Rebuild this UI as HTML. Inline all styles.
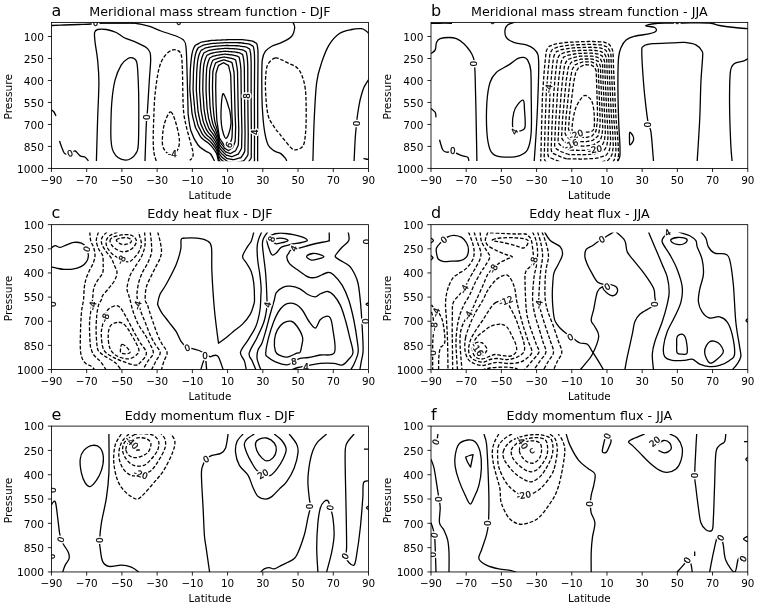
<!DOCTYPE html>
<html><head><meta charset="utf-8"><style>
html,body{margin:0;padding:0;background:#fff;}
body{width:758px;height:606px;overflow:hidden;}
svg{display:block;font-family:"DejaVu Sans","Liberation Sans",sans-serif;}
</style></head><body>
<svg width="758" height="606" viewBox="0 0 758 606">
<rect width="758" height="606" fill="#fff"/>
<g>
<clipPath id="cp0"><rect x="51.45" y="22.4" width="317.05" height="138.8"/></clipPath>
<g clip-path="url(#cp0)" fill="none" stroke="#000" stroke-width="1.3" stroke-linejoin="round" stroke-linecap="butt">
<path d="M51.5,25.5 C53.58,25.42 59.42,25.17 64,25 C68.58,24.83 74.5,24.67 79,24.5 C83.5,24.33 88.17,24.25 91,24 C93.83,23.75 92.83,23.2 96,23 C99.17,22.8 105.17,22.83 110,22.8 C114.83,22.77 121.03,22.77 125,22.8 C128.97,22.83 129.83,22.43 133.8,23 C137.77,23.57 144.27,24.87 148.8,26.2 C153.33,27.53 156.47,29.37 161,31 C165.53,32.63 172.25,34.5 176,36 C179.75,37.5 181.83,38.17 183.5,40 C185.17,41.83 185.42,42 186,47 C186.58,52 186.67,59.83 187,70 C187.33,80.17 187.78,100.5 188,108 C188.22,115.5 187.8,111.17 188.3,115 C188.8,118.83 189.38,126 191,131 C192.62,136 195.5,141.62 198,145 C200.5,148.38 203.93,149.83 206,151.3 C208.07,152.77 208.98,152.18 210.4,153.8 C211.82,155.42 213.82,159.8 214.5,161"/>
<path d="M96.4,161 C96.6,154.13 97.18,132.92 97.6,119.8 C98.02,106.68 98.9,92.28 98.9,82.3 C98.9,72.32 98.23,66.55 97.6,59.9 C96.97,53.25 95.6,46.97 95.1,42.4 C94.6,37.83 94.18,34.65 94.6,32.5 C95.02,30.35 95.63,30 97.6,29.5 C99.57,29 103.28,29 106.4,29.5 C109.52,30 113.4,31.17 116.3,32.5 C119.2,33.83 120.47,35.85 123.8,37.5 C127.13,39.15 132.55,40.75 136.3,42.4 C140.05,44.05 144.02,45.73 146.3,47.4 C148.58,49.07 149.27,50.32 150,52.4 C150.73,54.48 150.83,54.92 150.7,59.9 C150.57,64.88 149.73,73.95 149.2,82.3 C148.67,90.65 147.98,102.93 147.5,110 C147.02,117.07 146.72,116.2 146.3,124.7 C145.88,133.2 145.22,154.95 145,161"/>
<path d="M111.5,145 C111.95,148.3 112.42,149.92 113.5,152 C114.58,154.08 116,156.13 118,157.5 C120,158.87 123.33,160.03 125.5,160.2 C127.67,160.37 129.33,159.53 131,158.5 C132.67,157.47 134.28,156.3 135.5,154 C136.72,151.7 137.75,152.48 138.3,144.7 C138.85,136.92 138.8,117.7 138.8,107.3 C138.8,96.9 138.63,89.78 138.3,82.3 C137.97,74.82 137.77,66.47 136.8,62.4 C135.83,58.33 134.03,58.52 132.5,57.9 C130.97,57.28 129.47,57.53 127.6,58.7 C125.73,59.87 123.38,61.37 121.3,64.9 C119.22,68.43 116.68,73.67 115.1,79.9 C113.52,86.13 112.52,93.58 111.8,102.3 C111.08,111.02 110.85,125.08 110.8,132.2 C110.75,139.32 111.05,141.7 111.5,145Z"/>
<path d="M156.3,161 C155.92,159.67 154.52,156.5 154,153 C153.48,149.5 153.25,145.53 153.2,140 C153.15,134.47 153.4,127.33 153.7,119.8 C154,112.27 154.17,103.12 155,94.8 C155.83,86.48 157.25,76.13 158.7,69.9 C160.15,63.67 161.62,60.65 163.7,57.4 C165.78,54.15 168.92,51.57 171.2,50.4 C173.48,49.23 175.73,49.65 177.4,50.4 C179.07,51.15 180.37,51.65 181.2,54.9 C182.03,58.15 182.1,62.38 182.4,69.9 C182.7,77.42 182.73,92.48 183,100 C183.27,107.52 183.42,110.43 184,115 C184.58,119.57 185.53,123.27 186.5,127.4 C187.47,131.53 188.72,135.68 189.8,139.8 C190.88,143.92 192.53,149.22 193,152.1 C193.47,154.98 193.13,155.72 192.6,157.1 C192.07,158.48 190.27,159.85 189.8,160.4" stroke-dasharray="3.7,1.85"/>
<path d="M170.7,111.8 C172.15,112.02 173.57,115.98 174.9,119.8 C176.23,123.62 177.98,130.55 178.7,134.7 C179.42,138.85 179.65,141.82 179.2,144.7 C178.75,147.58 177.53,150.53 176,152 C174.47,153.47 171.63,153.47 170,153.5 C168.37,153.53 167.45,153.67 166.2,152.2 C164.95,150.73 163,148.45 162.5,144.7 C162,140.95 162.58,134.07 163.2,129.7 C163.82,125.33 164.95,121.48 166.2,118.5 C167.45,115.52 169.25,111.58 170.7,111.8Z" stroke-dasharray="3.7,1.85"/>
<path d="M51.5,109.8 C51.92,110.17 53.25,110.97 54,112 C54.75,113.03 55.67,115.33 56,116"/>
<path d="M59.5,141 C59.92,142.17 61.17,145.93 62,148 C62.83,150.07 63.5,152.4 64.5,153.4 C65.5,154.4 66.75,154.07 68,154 C69.25,153.93 70.8,153.52 72,153 C73.2,152.48 73.83,150.42 75.2,150.9 C76.57,151.38 78.53,154.85 80.2,155.9 C81.87,156.95 83.83,156.35 85.2,157.2 C86.57,158.05 87.87,160.37 88.4,161"/>
<path d="M230,172 C229.19,171.55 227.28,170.19 225.93,169.28 C224.57,168.38 223.01,167.62 221.85,166.57 C220.69,165.52 219.67,164.38 218.99,162.99 C218.31,161.61 218.18,159.83 217.77,158.25 C217.37,156.67 217.18,154.98 216.56,153.51 C215.94,152.03 214.97,150.73 214.04,149.42 C213.11,148.1 212.08,146.78 210.97,145.6 C209.86,144.42 208.64,143.36 207.38,142.35 C206.11,141.34 204.56,140.6 203.36,139.54 C202.16,138.48 201.09,137.31 200.17,136.01 C199.24,134.7 198.61,133.14 197.83,131.7 C197.05,130.27 196.1,128.9 195.5,127.4 C194.9,125.89 194.66,124.24 194.24,122.66 C193.82,121.09 193.35,119.52 192.98,117.93 C192.61,116.35 192.26,114.76 192.02,113.15 C191.78,111.54 191.71,109.9 191.55,108.27 C191.4,106.65 191.24,105.02 191.09,103.4 C190.93,101.77 190.77,100.15 190.62,98.52 C190.46,96.9 190.28,95.27 190.15,93.65 C190.02,92.02 189.86,90.4 189.83,88.77 C189.8,87.14 189.91,85.5 189.95,83.87 C189.99,82.24 190.03,80.61 190.08,78.98 C190.12,77.35 190.15,75.71 190.2,74.08 C190.25,72.45 190.27,70.82 190.37,69.19 C190.46,67.56 190.61,65.93 190.76,64.31 C190.9,62.68 191.06,61.06 191.24,59.44 C191.43,57.82 191.58,56.17 191.87,54.58 C192.17,52.99 192.46,51.39 193.01,49.88 C193.56,48.37 194.52,46.41 195.2,45.5 C195.88,44.59 196.47,44.78 197.11,44.42 C197.74,44.05 198.38,43.69 199.01,43.33 C199.65,42.97 200.24,42.49 200.92,42.25 C201.59,42 202.35,41.98 203.07,41.85 C203.79,41.72 204.51,41.6 205.23,41.48 C205.95,41.36 206.67,41.24 207.39,41.11 C208.11,40.99 208.83,40.85 209.55,40.75 C210.27,40.64 211,40.53 211.72,40.47 C212.45,40.4 213.18,40.4 213.91,40.36 C214.64,40.33 215.37,40.29 216.1,40.26 C216.83,40.22 217.56,40.19 218.29,40.15 C219.02,40.12 219.75,40.08 220.48,40.05 C221.21,40.01 221.94,39.98 222.67,39.94 C223.4,39.91 224.13,39.87 224.86,39.84 C225.59,39.8 226.32,39.75 227.05,39.73 C227.78,39.71 228.51,39.71 229.25,39.7 C229.98,39.69 230.71,39.7 231.44,39.7 C232.17,39.7 232.9,39.7 233.63,39.7 C234.36,39.7 235.09,39.7 235.82,39.7 C236.55,39.7 237.28,39.7 238.02,39.7 C238.75,39.7 239.48,39.7 240.21,39.7 C240.94,39.7 241.67,39.66 242.4,39.7 C243.13,39.74 243.85,39.86 244.58,39.94 C245.3,40.03 246.03,40.13 246.75,40.23 C247.48,40.32 248.2,40.42 248.93,40.51 C249.65,40.6 250.39,40.66 251.1,40.79 C251.81,40.93 252.53,41.03 253.18,41.33 C253.83,41.62 254.39,42.15 254.99,42.56 C255.59,42.98 256.35,42.86 256.8,43.8 C257.25,44.74 257.49,46.71 257.69,48.18 C257.89,49.65 257.95,51.13 258,52.61 C258.05,54.1 258,55.59 258,57.08 C258,58.57 258,60.06 258,61.55 C257.99,63.03 257.97,64.52 257.96,66.01 C257.94,67.5 257.93,68.99 257.92,70.48 C257.9,71.97 257.89,73.46 257.88,74.94 C257.86,76.43 257.85,77.92 257.84,79.41 C257.82,80.9 257.81,82.39 257.8,83.88 C257.78,85.37 257.77,86.85 257.76,88.34 C257.74,89.83 257.73,91.32 257.72,92.81 C257.71,94.3 257.7,95.79 257.7,97.28 C257.7,98.77 257.7,100.25 257.7,101.74 C257.7,103.23 257.7,104.72 257.7,106.21 C257.7,107.7 257.7,109.19 257.7,110.68 C257.7,112.16 257.7,113.65 257.7,115.14 C257.7,116.63 257.7,118.12 257.7,119.61 C257.7,121.1 257.7,122.59 257.7,124.08 C257.7,125.56 257.7,127.05 257.7,128.54 C257.7,130.03 257.69,131.52 257.69,133.01 C257.68,134.5 257.68,135.99 257.67,137.48 C257.67,138.96 257.67,140.45 257.66,141.94 C257.66,143.43 257.65,144.92 257.65,146.41 C257.65,147.9 257.64,149.39 257.64,150.87 C257.63,152.36 257.63,153.85 257.63,155.34 C257.62,156.83 257.62,158.32 257.61,159.81 C257.61,161.3 258.03,162.95 257.6,164.27 C257.17,165.6 255.98,166.61 255.05,167.73 C254.11,168.86 252.63,170.45 252,171 C251.37,171.55 251.5,171.04 251.24,171.06 C250.99,171.08 250.74,171.11 250.49,171.13 C250.23,171.15 249.98,171.17 249.73,171.19 C249.48,171.21 249.22,171.23 248.97,171.25 C248.72,171.27 248.47,171.29 248.21,171.32 C247.96,171.34 247.71,171.36 247.46,171.38 C247.2,171.4 246.95,171.42 246.7,171.44 C246.45,171.46 246.19,171.48 245.94,171.5 C245.69,171.53 245.44,171.55 245.18,171.57 C244.93,171.59 244.68,171.61 244.43,171.63 C244.17,171.65 243.92,171.67 243.67,171.69 C243.42,171.72 243.16,171.74 242.91,171.76 C242.66,171.78 242.41,171.8 242.15,171.82 C241.9,171.84 241.65,171.86 241.4,171.88 C241.14,171.9 240.89,171.93 240.64,171.95 C240.39,171.97 240.13,171.99 239.88,172 C239.63,172.01 239.37,172 239.12,172 C238.87,172 238.61,172 238.36,172 C238.11,172 237.85,172 237.6,172 C237.35,172 237.09,172 236.84,172 C236.59,172 236.33,172 236.08,172 C235.83,172 235.57,172 235.32,172 C235.07,172 234.81,172 234.56,172 C234.31,172 234.05,172 233.8,172 C233.55,172 233.29,172 233.04,172 C232.79,172 232.53,172 232.28,172 C232.03,172 231.77,172 231.52,172 C231.27,172 231.01,172 230.76,172 C230.51,172 230.81,172.45 230,172Z"/>
<path d="M229.25,168.62 C228.51,168.18 226.75,166.84 225.5,165.95 C224.24,165.06 222.81,164.3 221.74,163.28 C220.67,162.26 219.68,161.18 219.05,159.86 C218.41,158.54 218.31,156.86 217.93,155.36 C217.56,153.86 217.38,152.26 216.82,150.86 C216.26,149.46 215.4,148.2 214.56,146.93 C213.73,145.67 212.81,144.4 211.83,143.25 C210.84,142.1 209.76,141.05 208.63,140.05 C207.5,139.05 206.13,138.29 205.06,137.25 C204,136.21 203.05,135.07 202.24,133.81 C201.42,132.55 200.86,131.07 200.18,129.69 C199.49,128.32 198.65,127.01 198.12,125.57 C197.59,124.14 197.37,122.58 197,121.08 C196.63,119.59 196.21,118.1 195.88,116.59 C195.55,115.09 195.24,113.58 195.03,112.05 C194.81,110.53 194.75,108.98 194.61,107.44 C194.47,105.9 194.33,104.36 194.19,102.82 C194.05,101.28 193.91,99.74 193.78,98.21 C193.64,96.67 193.48,95.13 193.36,93.59 C193.24,92.05 193.1,90.51 193.07,88.97 C193.04,87.43 193.14,85.88 193.17,84.33 C193.21,82.79 193.25,81.24 193.28,79.7 C193.32,78.15 193.35,76.61 193.4,75.07 C193.44,73.52 193.47,71.98 193.55,70.43 C193.64,68.89 193.77,67.35 193.9,65.81 C194.03,64.27 194.16,62.73 194.34,61.2 C194.51,59.66 194.69,58.12 194.98,56.61 C195.27,55.11 195.56,53.6 196.09,52.17 C196.61,50.73 197.49,48.86 198.11,48 C198.74,47.14 199.25,47.35 199.82,47.03 C200.39,46.7 200.96,46.38 201.53,46.05 C202.1,45.73 202.64,45.31 203.24,45.08 C203.85,44.86 204.53,44.83 205.17,44.71 C205.81,44.59 206.46,44.48 207.1,44.36 C207.75,44.25 208.39,44.13 209.04,44.02 C209.68,43.9 210.33,43.77 210.97,43.67 C211.62,43.57 212.26,43.47 212.92,43.4 C213.57,43.34 214.22,43.32 214.87,43.29 C215.53,43.25 216.18,43.21 216.83,43.17 C217.49,43.13 218.14,43.09 218.79,43.05 C219.45,43.02 220.1,42.98 220.75,42.94 C221.41,42.9 222.06,42.86 222.71,42.82 C223.37,42.78 224.02,42.74 224.67,42.71 C225.32,42.67 225.98,42.63 226.63,42.61 C227.28,42.6 227.94,42.61 228.59,42.61 C229.25,42.61 229.9,42.63 230.55,42.64 C231.21,42.64 231.86,42.65 232.52,42.66 C233.17,42.67 233.82,42.68 234.48,42.68 C235.13,42.69 235.78,42.7 236.44,42.71 C237.09,42.72 237.75,42.72 238.4,42.73 C239.05,42.74 239.71,42.71 240.36,42.76 C241.01,42.8 241.66,42.91 242.31,42.99 C242.96,43.08 243.61,43.17 244.26,43.27 C244.9,43.36 245.55,43.45 246.2,43.54 C246.85,43.63 247.51,43.68 248.15,43.81 C248.78,43.94 249.43,44.03 250.01,44.3 C250.59,44.57 251.09,45.04 251.64,45.41 C252.18,45.78 252.85,45.63 253.26,46.51 C253.68,47.39 253.92,49.28 254.12,50.67 C254.32,52.07 254.4,53.48 254.47,54.89 C254.54,56.3 254.53,57.71 254.55,59.13 C254.57,60.54 254.59,61.96 254.59,63.37 C254.59,64.79 254.57,66.2 254.57,67.62 C254.56,69.04 254.55,70.45 254.54,71.87 C254.53,73.29 254.52,74.7 254.52,76.12 C254.51,77.53 254.5,78.95 254.49,80.37 C254.48,81.78 254.47,83.2 254.47,84.62 C254.46,86.03 254.45,87.45 254.44,88.87 C254.43,90.28 254.42,91.7 254.42,93.11 C254.41,94.53 254.41,95.95 254.41,97.36 C254.41,98.78 254.42,100.2 254.42,101.61 C254.43,103.03 254.43,104.45 254.43,105.86 C254.44,107.28 254.44,108.69 254.44,110.11 C254.45,111.53 254.45,112.94 254.45,114.36 C254.46,115.78 254.46,117.19 254.46,118.61 C254.47,120.03 254.48,121.44 254.48,122.86 C254.49,124.27 254.49,125.69 254.5,127.11 C254.5,128.52 254.5,129.94 254.5,131.36 C254.51,132.77 254.51,134.19 254.51,135.6 C254.51,137.02 254.52,138.44 254.52,139.85 C254.51,141.27 254.5,142.69 254.49,144.1 C254.48,145.52 254.48,146.93 254.47,148.35 C254.46,149.77 254.45,151.18 254.44,152.6 C254.44,154.02 254.43,155.43 254.42,156.85 C254.41,158.26 254.77,159.83 254.37,161.09 C253.97,162.36 252.88,163.36 252.02,164.44 C251.17,165.53 249.83,167.08 249.25,167.62 C248.67,168.17 248.79,167.68 248.56,167.71 C248.33,167.74 248.11,167.76 247.88,167.79 C247.65,167.82 247.42,167.85 247.19,167.87 C246.96,167.9 246.73,167.93 246.5,167.96 C246.27,167.99 246.05,168.01 245.82,168.04 C245.59,168.07 245.36,168.1 245.13,168.12 C244.9,168.15 244.67,168.18 244.44,168.21 C244.21,168.23 243.99,168.26 243.76,168.29 C243.53,168.32 243.3,168.35 243.07,168.37 C242.84,168.4 242.61,168.43 242.38,168.46 C242.15,168.48 241.93,168.51 241.7,168.54 C241.47,168.57 241.24,168.59 241.01,168.62 C240.78,168.65 240.55,168.68 240.32,168.71 C240.09,168.73 239.87,168.76 239.64,168.79 C239.41,168.82 239.18,168.85 238.95,168.87 C238.72,168.9 238.49,168.92 238.26,168.93 C238.03,168.94 237.8,168.91 237.57,168.91 C237.34,168.9 237.11,168.89 236.88,168.88 C236.64,168.88 236.41,168.87 236.18,168.86 C235.95,168.85 235.72,168.84 235.49,168.84 C235.26,168.83 235.03,168.82 234.8,168.81 C234.56,168.81 234.33,168.8 234.1,168.79 C233.87,168.78 233.64,168.77 233.41,168.77 C233.18,168.76 232.95,168.75 232.72,168.74 C232.49,168.73 232.25,168.73 232.02,168.72 C231.79,168.71 231.56,168.7 231.33,168.7 C231.1,168.69 230.87,168.68 230.64,168.67 C230.41,168.66 230.17,168.66 229.94,168.65 C229.71,168.64 229.99,169.07 229.25,168.62Z"/>
<path d="M228.5,165.25 C227.82,164.8 226.21,163.5 225.06,162.62 C223.92,161.75 222.62,160.98 221.63,159.99 C220.64,159.01 219.7,157.97 219.11,156.72 C218.52,155.46 218.43,153.88 218.1,152.47 C217.76,151.05 217.58,149.55 217.08,148.21 C216.58,146.88 215.82,145.67 215.09,144.45 C214.35,143.23 213.55,142.01 212.68,140.9 C211.81,139.78 210.87,138.75 209.88,137.76 C208.9,136.77 207.7,135.99 206.77,134.96 C205.84,133.94 205.01,132.83 204.31,131.61 C203.6,130.4 203.12,128.99 202.52,127.68 C201.93,126.37 201.2,125.12 200.74,123.75 C200.28,122.39 200.09,120.92 199.76,119.5 C199.44,118.09 199.07,116.68 198.78,115.25 C198.5,113.83 198.22,112.4 198.03,110.96 C197.85,109.52 197.78,108.06 197.66,106.6 C197.54,105.15 197.42,103.7 197.3,102.25 C197.17,100.79 197.05,99.34 196.93,97.89 C196.81,96.44 196.67,94.98 196.57,93.53 C196.47,92.08 196.35,90.62 196.32,89.17 C196.29,87.71 196.37,86.25 196.4,84.8 C196.42,83.34 196.46,81.88 196.49,80.42 C196.52,78.96 196.56,77.51 196.6,76.05 C196.64,74.59 196.66,73.13 196.74,71.68 C196.81,70.22 196.93,68.77 197.05,67.31 C197.16,65.86 197.26,64.4 197.43,62.96 C197.6,61.51 197.8,60.06 198.09,58.64 C198.37,57.23 198.67,55.81 199.16,54.45 C199.65,53.09 200.46,51.3 201.02,50.5 C201.59,49.7 202.04,49.93 202.54,49.64 C203.05,49.35 203.55,49.06 204.06,48.78 C204.56,48.49 205.04,48.12 205.57,47.92 C206.11,47.71 206.7,47.68 207.27,47.57 C207.84,47.46 208.41,47.35 208.98,47.24 C209.55,47.14 210.12,47.03 210.69,46.92 C211.25,46.81 211.82,46.69 212.39,46.6 C212.96,46.5 213.53,46.4 214.11,46.34 C214.68,46.27 215.26,46.25 215.84,46.21 C216.41,46.17 216.99,46.13 217.56,46.08 C218.14,46.04 218.72,46 219.29,45.96 C219.87,45.91 220.45,45.87 221.02,45.83 C221.6,45.79 222.17,45.75 222.75,45.7 C223.33,45.66 223.9,45.61 224.48,45.58 C225.06,45.54 225.63,45.51 226.21,45.5 C226.78,45.49 227.36,45.51 227.94,45.52 C228.52,45.53 229.09,45.55 229.67,45.57 C230.25,45.59 230.82,45.6 231.4,45.62 C231.98,45.64 232.55,45.65 233.13,45.67 C233.71,45.68 234.28,45.7 234.86,45.72 C235.44,45.73 236.01,45.75 236.59,45.76 C237.17,45.78 237.75,45.77 238.32,45.81 C238.9,45.86 239.47,45.96 240.04,46.04 C240.61,46.13 241.19,46.22 241.76,46.3 C242.33,46.39 242.9,46.48 243.47,46.56 C244.05,46.65 244.63,46.71 245.19,46.82 C245.75,46.94 246.32,47.04 246.84,47.27 C247.35,47.51 247.8,47.92 248.28,48.25 C248.76,48.57 249.35,48.4 249.73,49.22 C250.1,50.05 250.35,51.85 250.55,53.17 C250.75,54.49 250.85,55.83 250.94,57.16 C251.03,58.49 251.06,59.83 251.1,61.17 C251.14,62.51 251.17,63.86 251.18,65.2 C251.2,66.54 251.18,67.89 251.17,69.23 C251.17,70.57 251.17,71.92 251.16,73.26 C251.16,74.6 251.16,75.95 251.16,77.29 C251.15,78.64 251.15,79.98 251.15,81.32 C251.14,82.67 251.14,84.01 251.14,85.36 C251.13,86.7 251.13,88.04 251.13,89.39 C251.12,90.73 251.12,92.07 251.12,93.42 C251.12,94.76 251.12,96.11 251.12,97.45 C251.13,98.79 251.14,100.14 251.15,101.48 C251.15,102.83 251.16,104.17 251.17,105.51 C251.17,106.86 251.18,108.2 251.19,109.55 C251.19,110.89 251.2,112.23 251.21,113.58 C251.21,114.92 251.22,116.27 251.23,117.61 C251.24,118.95 251.25,120.3 251.26,121.64 C251.28,122.98 251.29,124.33 251.3,125.67 C251.31,127.02 251.31,128.36 251.32,129.7 C251.33,131.05 251.34,132.39 251.35,133.73 C251.36,135.08 251.37,136.42 251.37,137.76 C251.37,139.11 251.35,140.45 251.33,141.8 C251.32,143.14 251.31,144.48 251.3,145.83 C251.29,147.17 251.28,148.52 251.26,149.86 C251.25,151.2 251.25,152.55 251.23,153.89 C251.21,155.23 251.5,156.7 251.13,157.91 C250.76,159.12 249.77,160.1 249,161.15 C248.23,162.21 247.02,163.72 246.5,164.25 C245.98,164.78 246.09,164.32 245.88,164.35 C245.68,164.39 245.47,164.42 245.27,164.46 C245.06,164.49 244.86,164.52 244.65,164.56 C244.45,164.59 244.24,164.63 244.04,164.66 C243.83,164.7 243.63,164.73 243.42,164.77 C243.22,164.8 243.01,164.83 242.8,164.87 C242.6,164.9 242.39,164.94 242.19,164.97 C241.98,165.01 241.78,165.04 241.57,165.07 C241.37,165.11 241.16,165.14 240.96,165.18 C240.75,165.21 240.55,165.25 240.34,165.28 C240.14,165.32 239.93,165.35 239.73,165.38 C239.52,165.42 239.32,165.45 239.11,165.49 C238.9,165.52 238.7,165.56 238.49,165.59 C238.29,165.62 238.08,165.66 237.88,165.69 C237.67,165.73 237.47,165.77 237.26,165.8 C237.06,165.82 236.85,165.86 236.64,165.86 C236.44,165.86 236.23,165.83 236.02,165.81 C235.81,165.8 235.6,165.78 235.39,165.77 C235.18,165.75 234.97,165.74 234.76,165.72 C234.56,165.7 234.35,165.69 234.14,165.67 C233.93,165.66 233.72,165.64 233.51,165.63 C233.3,165.61 233.09,165.59 232.89,165.58 C232.68,165.56 232.47,165.55 232.26,165.53 C232.05,165.52 231.84,165.5 231.63,165.48 C231.42,165.47 231.21,165.45 231.01,165.44 C230.8,165.42 230.59,165.41 230.38,165.39 C230.17,165.38 229.96,165.36 229.75,165.34 C229.54,165.33 229.34,165.31 229.13,165.3 C228.92,165.28 229.18,165.7 228.5,165.25Z"/>
<path d="M227.75,161.88 C227.14,161.43 225.67,160.15 224.63,159.29 C223.6,158.43 222.43,157.66 221.52,156.71 C220.61,155.76 219.72,154.77 219.17,153.58 C218.63,152.39 218.56,150.91 218.26,149.58 C217.95,148.24 217.78,146.84 217.34,145.57 C216.9,144.3 216.25,143.14 215.61,141.97 C214.98,140.8 214.28,139.63 213.54,138.55 C212.79,137.46 211.98,136.45 211.14,135.47 C210.29,134.49 209.26,133.68 208.47,132.67 C207.68,131.67 206.98,130.58 206.38,129.42 C205.78,128.25 205.37,126.92 204.87,125.68 C204.37,124.43 203.75,123.22 203.36,121.93 C202.97,120.64 202.8,119.26 202.52,117.92 C202.24,116.59 201.93,115.26 201.69,113.91 C201.44,112.57 201.2,111.23 201.04,109.87 C200.88,108.51 200.82,107.14 200.71,105.77 C200.61,104.4 200.5,103.04 200.4,101.67 C200.3,100.3 200.19,98.94 200.09,97.57 C199.99,96.2 199.87,94.84 199.78,93.47 C199.69,92.1 199.59,90.74 199.56,89.37 C199.53,88 199.59,86.63 199.62,85.26 C199.64,83.89 199.67,82.51 199.7,81.14 C199.73,79.77 199.76,78.4 199.8,77.03 C199.84,75.66 199.86,74.29 199.93,72.92 C199.99,71.55 200.1,70.18 200.2,68.82 C200.29,67.45 200.36,66.08 200.52,64.72 C200.69,63.36 200.91,62 201.19,60.67 C201.48,59.34 201.78,58.02 202.24,56.74 C202.69,55.46 203.43,53.75 203.94,53 C204.44,52.25 204.82,52.5 205.26,52.25 C205.7,52 206.14,51.75 206.58,51.5 C207.02,51.25 207.43,50.93 207.9,50.75 C208.36,50.57 208.88,50.53 209.37,50.43 C209.86,50.32 210.36,50.23 210.85,50.13 C211.35,50.03 211.84,49.92 212.33,49.82 C212.83,49.72 213.32,49.61 213.81,49.52 C214.31,49.43 214.8,49.34 215.3,49.27 C215.8,49.21 216.3,49.18 216.8,49.14 C217.3,49.09 217.8,49.04 218.3,49 C218.79,48.95 219.29,48.91 219.79,48.86 C220.29,48.81 220.79,48.77 221.29,48.72 C221.79,48.68 222.29,48.63 222.79,48.58 C223.29,48.54 223.79,48.48 224.29,48.45 C224.79,48.41 225.29,48.38 225.79,48.38 C226.29,48.38 226.79,48.41 227.28,48.43 C227.78,48.45 228.28,48.48 228.78,48.51 C229.28,48.53 229.78,48.55 230.28,48.58 C230.78,48.6 231.28,48.63 231.78,48.65 C232.28,48.67 232.78,48.7 233.28,48.72 C233.78,48.75 234.28,48.77 234.78,48.8 C235.28,48.82 235.78,48.82 236.28,48.87 C236.78,48.92 237.28,49.01 237.77,49.09 C238.27,49.17 238.76,49.26 239.26,49.34 C239.76,49.43 240.25,49.51 240.75,49.59 C241.25,49.67 241.75,49.73 242.24,49.84 C242.72,49.95 243.22,50.04 243.67,50.25 C244.11,50.46 244.51,50.81 244.93,51.09 C245.35,51.37 245.84,51.17 246.19,51.94 C246.53,52.7 246.78,54.42 246.98,55.67 C247.19,56.92 247.3,58.18 247.41,59.44 C247.53,60.69 247.59,61.96 247.65,63.22 C247.71,64.49 247.76,65.75 247.78,67.02 C247.8,68.29 247.78,69.57 247.78,70.84 C247.78,72.11 247.79,73.38 247.79,74.65 C247.79,75.92 247.79,77.19 247.79,78.47 C247.8,79.74 247.8,81.01 247.8,82.28 C247.8,83.55 247.8,84.82 247.81,86.09 C247.81,87.37 247.81,88.64 247.81,89.91 C247.81,91.18 247.81,92.45 247.82,93.72 C247.82,94.99 247.83,96.27 247.84,97.54 C247.85,98.81 247.86,100.08 247.87,101.35 C247.88,102.62 247.89,103.89 247.9,105.17 C247.91,106.44 247.92,107.71 247.93,108.98 C247.94,110.25 247.95,111.52 247.96,112.79 C247.97,114.07 247.98,115.34 247.99,116.61 C248.01,117.88 248.03,119.15 248.05,120.42 C248.06,121.69 248.08,122.96 248.1,124.24 C248.11,125.51 248.13,126.78 248.14,128.05 C248.16,129.32 248.17,130.59 248.19,131.86 C248.2,133.13 248.22,134.41 248.22,135.68 C248.22,136.95 248.19,138.22 248.18,139.49 C248.16,140.76 248.14,142.03 248.13,143.3 C248.11,144.58 248.1,145.85 248.08,147.12 C248.07,148.39 248.07,149.66 248.04,150.93 C248,152.2 248.24,153.57 247.9,154.73 C247.56,155.89 246.67,156.84 245.98,157.86 C245.29,158.89 244.21,160.35 243.75,160.88 C243.29,161.4 243.39,160.96 243.2,161 C243.02,161.04 242.84,161.08 242.66,161.12 C242.48,161.16 242.3,161.2 242.11,161.24 C241.93,161.29 241.75,161.33 241.57,161.37 C241.39,161.41 241.21,161.45 241.02,161.49 C240.84,161.53 240.66,161.57 240.48,161.61 C240.3,161.65 240.12,161.7 239.93,161.74 C239.75,161.78 239.57,161.82 239.39,161.86 C239.21,161.9 239.03,161.94 238.84,161.98 C238.66,162.02 238.48,162.06 238.3,162.11 C238.12,162.15 237.94,162.19 237.75,162.23 C237.57,162.27 237.39,162.31 237.21,162.35 C237.03,162.39 236.85,162.43 236.66,162.47 C236.48,162.52 236.3,162.56 236.12,162.6 C235.94,162.64 235.76,162.69 235.57,162.72 C235.39,162.75 235.21,162.79 235.03,162.79 C234.84,162.79 234.65,162.74 234.47,162.72 C234.28,162.7 234.09,162.67 233.91,162.65 C233.72,162.63 233.53,162.6 233.35,162.58 C233.16,162.56 232.97,162.53 232.79,162.51 C232.6,162.49 232.41,162.46 232.23,162.44 C232.04,162.42 231.85,162.39 231.67,162.37 C231.48,162.34 231.29,162.32 231.11,162.3 C230.92,162.27 230.73,162.25 230.55,162.23 C230.36,162.2 230.18,162.18 229.99,162.16 C229.8,162.13 229.62,162.11 229.43,162.09 C229.24,162.06 229.06,162.04 228.87,162.02 C228.68,161.99 228.5,161.97 228.31,161.95 C228.12,161.92 228.36,162.32 227.75,161.88Z"/>
<path d="M227,158.5 C226.45,158.06 225.14,156.81 224.2,155.96 C223.27,155.11 222.23,154.34 221.41,153.42 C220.58,152.5 219.73,151.57 219.24,150.45 C218.74,149.32 218.69,147.94 218.42,146.68 C218.15,145.43 217.99,144.12 217.61,142.92 C217.22,141.72 216.67,140.61 216.14,139.49 C215.6,138.37 215.02,137.25 214.39,136.19 C213.77,135.14 213.09,134.14 212.39,133.18 C211.69,132.21 210.83,131.38 210.17,130.39 C209.52,129.39 208.94,128.34 208.45,127.22 C207.95,126.1 207.62,124.85 207.21,123.67 C206.8,122.48 206.3,121.33 205.98,120.11 C205.66,118.89 205.52,117.6 205.28,116.34 C205.05,115.09 204.8,113.83 204.59,112.57 C204.38,111.31 204.18,110.05 204.04,108.78 C203.91,107.5 203.85,106.22 203.76,104.94 C203.67,103.66 203.59,102.38 203.51,101.1 C203.42,99.81 203.33,98.53 203.25,97.25 C203.16,95.97 203.06,94.69 202.99,93.41 C202.91,92.13 202.83,90.85 202.8,89.57 C202.78,88.29 202.82,87 202.84,85.72 C202.86,84.43 202.88,83.15 202.91,81.87 C202.93,80.58 202.96,79.3 203,78.01 C203.03,76.73 203.06,75.45 203.11,74.16 C203.17,72.88 203.26,71.6 203.34,70.32 C203.43,69.04 203.46,67.75 203.62,66.48 C203.77,65.21 204.02,63.95 204.3,62.71 C204.58,61.46 204.89,60.22 205.31,59.02 C205.74,57.82 206.41,56.19 206.85,55.5 C207.29,54.81 207.6,55.07 207.98,54.86 C208.35,54.65 208.73,54.44 209.1,54.22 C209.48,54.01 209.83,53.74 210.23,53.58 C210.62,53.43 211.06,53.38 211.47,53.29 C211.89,53.19 212.31,53.1 212.73,53.01 C213.14,52.91 213.56,52.82 213.98,52.73 C214.4,52.63 214.81,52.53 215.23,52.45 C215.65,52.36 216.07,52.27 216.49,52.21 C216.91,52.15 217.34,52.11 217.76,52.06 C218.18,52.01 218.6,51.96 219.03,51.91 C219.45,51.86 219.87,51.81 220.29,51.76 C220.72,51.71 221.14,51.66 221.56,51.61 C221.98,51.56 222.41,51.51 222.83,51.47 C223.25,51.42 223.67,51.35 224.1,51.32 C224.52,51.28 224.94,51.26 225.36,51.26 C225.79,51.27 226.21,51.32 226.63,51.34 C227.05,51.37 227.48,51.41 227.9,51.44 C228.32,51.47 228.75,51.51 229.17,51.54 C229.59,51.57 230.01,51.6 230.44,51.63 C230.86,51.67 231.28,51.7 231.71,51.73 C232.13,51.76 232.55,51.8 232.97,51.83 C233.4,51.86 233.82,51.87 234.24,51.92 C234.67,51.98 235.08,52.07 235.5,52.14 C235.92,52.22 236.34,52.3 236.76,52.38 C237.18,52.46 237.6,52.54 238.02,52.62 C238.44,52.7 238.87,52.76 239.28,52.86 C239.69,52.96 240.11,53.04 240.49,53.22 C240.88,53.4 241.21,53.7 241.57,53.94 C241.93,54.17 242.34,53.94 242.65,54.65 C242.96,55.36 243.21,56.99 243.41,58.17 C243.62,59.34 243.75,60.53 243.88,61.71 C244.02,62.89 244.12,64.08 244.2,65.27 C244.28,66.46 244.34,67.65 244.37,68.85 C244.4,70.05 244.38,71.25 244.39,72.45 C244.4,73.65 244.41,74.84 244.41,76.04 C244.42,77.24 244.43,78.44 244.43,79.64 C244.44,80.84 244.45,82.04 244.45,83.24 C244.46,84.44 244.47,85.64 244.47,86.83 C244.48,88.03 244.49,89.23 244.5,90.43 C244.5,91.63 244.51,92.83 244.52,94.03 C244.53,95.23 244.54,96.43 244.55,97.62 C244.56,98.82 244.58,100.02 244.59,101.22 C244.6,102.42 244.62,103.62 244.63,104.82 C244.65,106.02 244.66,107.22 244.67,108.42 C244.69,109.61 244.7,110.81 244.71,112.01 C244.73,113.21 244.74,114.41 244.76,115.61 C244.78,116.81 244.8,118.01 244.83,119.2 C244.85,120.4 244.87,121.6 244.9,122.8 C244.92,124 244.94,125.2 244.96,126.4 C244.98,127.59 245,128.79 245.02,129.99 C245.04,131.19 245.08,132.39 245.08,133.59 C245.08,134.79 245.04,135.99 245.02,137.18 C245,138.38 244.98,139.58 244.96,140.78 C244.94,141.98 244.92,143.18 244.9,144.38 C244.88,145.58 244.88,146.78 244.84,147.97 C244.8,149.17 244.98,150.45 244.66,151.55 C244.35,152.65 243.57,153.58 242.96,154.57 C242.34,155.56 241.4,156.99 241,157.5 C240.6,158.01 240.68,157.6 240.53,157.64 C240.37,157.69 240.21,157.74 240.05,157.79 C239.89,157.83 239.74,157.88 239.58,157.93 C239.42,157.98 239.26,158.02 239.1,158.07 C238.94,158.12 238.79,158.17 238.63,158.22 C238.47,158.26 238.31,158.31 238.15,158.36 C238,158.41 237.84,158.45 237.68,158.5 C237.52,158.55 237.36,158.6 237.21,158.64 C237.05,158.69 236.89,158.74 236.73,158.79 C236.57,158.83 236.42,158.88 236.26,158.93 C236.1,158.98 235.94,159.03 235.78,159.07 C235.63,159.12 235.47,159.17 235.31,159.22 C235.15,159.26 234.99,159.31 234.83,159.36 C234.68,159.41 234.52,159.45 234.36,159.5 C234.2,159.55 234.05,159.61 233.89,159.65 C233.73,159.68 233.57,159.72 233.41,159.72 C233.24,159.72 233.08,159.66 232.91,159.63 C232.75,159.6 232.59,159.57 232.42,159.53 C232.26,159.5 232.09,159.47 231.93,159.44 C231.76,159.41 231.6,159.38 231.44,159.35 C231.27,159.31 231.11,159.28 230.94,159.25 C230.78,159.22 230.61,159.19 230.45,159.16 C230.29,159.13 230.12,159.1 229.96,159.06 C229.79,159.03 229.63,159 229.46,158.97 C229.3,158.94 229.14,158.91 228.97,158.88 C228.81,158.84 228.64,158.81 228.48,158.78 C228.31,158.75 228.15,158.72 227.99,158.69 C227.82,158.66 227.66,158.63 227.49,158.59 C227.33,158.56 227.55,158.94 227,158.5Z"/>
<path d="M226.25,155.12 C225.77,154.69 224.6,153.46 223.77,152.63 C222.95,151.8 222.04,151.02 221.3,150.13 C220.55,149.25 219.75,148.36 219.3,147.31 C218.85,146.25 218.82,144.96 218.58,143.79 C218.34,142.62 218.19,141.41 217.87,140.28 C217.55,139.15 217.1,138.08 216.66,137.01 C216.23,135.94 215.75,134.86 215.25,133.84 C214.75,132.82 214.2,131.84 213.64,130.88 C213.08,129.93 212.4,129.07 211.88,128.1 C211.36,127.12 210.9,126.1 210.52,125.03 C210.13,123.95 209.88,122.78 209.56,121.66 C209.24,120.54 208.85,119.44 208.6,118.29 C208.35,117.14 208.23,115.94 208.05,114.76 C207.86,113.59 207.66,112.41 207.49,111.23 C207.33,110.05 207.16,108.87 207.05,107.69 C206.94,106.5 206.89,105.3 206.82,104.1 C206.74,102.91 206.68,101.71 206.61,100.52 C206.54,99.33 206.47,98.13 206.4,96.94 C206.33,95.74 206.26,94.55 206.2,93.35 C206.14,92.16 206.07,90.96 206.04,89.77 C206.02,88.57 206.05,87.37 206.06,86.18 C206.07,84.98 206.09,83.78 206.11,82.59 C206.14,81.39 206.17,80.19 206.2,79 C206.23,77.8 206.25,76.6 206.3,75.41 C206.35,74.21 206.42,73.02 206.49,71.82 C206.56,70.63 206.56,69.42 206.71,68.24 C206.86,67.06 207.13,65.89 207.4,64.74 C207.68,63.58 207.99,62.43 208.39,61.31 C208.78,60.19 209.38,58.64 209.76,58 C210.15,57.36 210.38,57.65 210.69,57.47 C211,57.3 211.31,57.12 211.62,56.95 C211.93,56.77 212.23,56.55 212.55,56.42 C212.88,56.29 213.23,56.24 213.57,56.15 C213.92,56.06 214.26,55.98 214.6,55.89 C214.94,55.8 215.29,55.72 215.63,55.63 C215.97,55.54 216.31,55.45 216.65,55.37 C217,55.29 217.34,55.21 217.68,55.15 C218.03,55.08 218.37,55.04 218.72,54.99 C219.07,54.93 219.41,54.88 219.76,54.83 C220.1,54.77 220.45,54.72 220.79,54.67 C221.14,54.61 221.48,54.56 221.83,54.51 C222.18,54.45 222.52,54.4 222.87,54.35 C223.21,54.29 223.56,54.22 223.9,54.19 C224.25,54.15 224.59,54.14 224.94,54.15 C225.29,54.16 225.63,54.22 225.98,54.26 C226.32,54.29 226.67,54.34 227.02,54.38 C227.36,54.42 227.71,54.46 228.05,54.5 C228.4,54.54 228.75,54.58 229.09,54.62 C229.44,54.66 229.78,54.7 230.13,54.74 C230.47,54.78 230.82,54.82 231.17,54.86 C231.51,54.9 231.86,54.92 232.2,54.98 C232.55,55.04 232.89,55.12 233.24,55.19 C233.58,55.27 233.92,55.34 234.27,55.42 C234.61,55.49 234.95,55.57 235.3,55.65 C235.64,55.72 235.99,55.78 236.33,55.87 C236.67,55.96 237.01,56.04 237.32,56.19 C237.64,56.34 237.92,56.58 238.22,56.78 C238.52,56.97 238.84,56.72 239.11,57.36 C239.38,58.01 239.64,59.56 239.84,60.66 C240.05,61.77 240.2,62.88 240.36,63.98 C240.51,65.09 240.65,66.2 240.75,67.32 C240.85,68.43 240.92,69.55 240.96,70.68 C241.01,71.8 240.99,72.93 241,74.06 C241.01,75.18 241.02,76.31 241.04,77.43 C241.05,78.56 241.06,79.69 241.07,80.81 C241.08,81.94 241.1,83.07 241.11,84.19 C241.12,85.32 241.13,86.45 241.14,87.57 C241.16,88.7 241.17,89.83 241.18,90.95 C241.19,92.08 241.2,93.21 241.22,94.33 C241.23,95.46 241.25,96.59 241.26,97.71 C241.28,98.84 241.3,99.96 241.31,101.09 C241.33,102.22 241.35,103.34 241.36,104.47 C241.38,105.6 241.4,106.72 241.42,107.85 C241.43,108.98 241.45,110.1 241.47,111.23 C241.48,112.36 241.5,113.48 241.52,114.61 C241.55,115.74 241.58,116.86 241.61,117.99 C241.64,119.11 241.67,120.24 241.7,121.37 C241.72,122.49 241.75,123.62 241.78,124.74 C241.81,125.87 241.84,127 241.86,128.12 C241.89,129.25 241.93,130.37 241.93,131.5 C241.93,132.63 241.88,133.75 241.86,134.88 C241.84,136 241.81,137.13 241.79,138.26 C241.77,139.38 241.74,140.51 241.72,141.64 C241.7,142.76 241.7,143.89 241.65,145.02 C241.6,146.14 241.72,147.32 241.43,148.37 C241.14,149.41 240.46,150.32 239.93,151.28 C239.4,152.24 238.6,153.62 238.25,154.12 C237.9,154.63 237.98,154.23 237.85,154.29 C237.71,154.34 237.58,154.4 237.44,154.45 C237.31,154.51 237.17,154.56 237.04,154.61 C236.91,154.67 236.77,154.72 236.64,154.78 C236.5,154.83 236.37,154.89 236.23,154.94 C236.1,154.99 235.96,155.05 235.83,155.1 C235.69,155.16 235.56,155.21 235.43,155.27 C235.29,155.32 235.16,155.37 235.02,155.43 C234.89,155.48 234.75,155.54 234.62,155.59 C234.48,155.65 234.35,155.7 234.22,155.76 C234.08,155.81 233.95,155.86 233.81,155.92 C233.68,155.97 233.54,156.03 233.41,156.08 C233.27,156.14 233.14,156.19 233,156.24 C232.87,156.3 232.74,156.35 232.6,156.41 C232.47,156.46 232.33,156.53 232.2,156.57 C232.06,156.61 231.93,156.66 231.79,156.65 C231.65,156.65 231.5,156.57 231.36,156.53 C231.22,156.5 231.08,156.46 230.94,156.42 C230.79,156.38 230.65,156.34 230.51,156.3 C230.37,156.26 230.23,156.22 230.08,156.18 C229.94,156.14 229.8,156.1 229.66,156.06 C229.52,156.03 229.37,155.99 229.23,155.95 C229.09,155.91 228.95,155.87 228.81,155.83 C228.66,155.79 228.52,155.75 228.38,155.71 C228.24,155.67 228.1,155.63 227.95,155.59 C227.81,155.56 227.67,155.52 227.53,155.48 C227.39,155.44 227.24,155.4 227.1,155.36 C226.96,155.32 226.82,155.28 226.68,155.24 C226.53,155.2 226.73,155.56 226.25,155.12Z"/>
<path d="M225.5,151.75 C225.08,151.32 224.06,150.12 223.34,149.3 C222.62,148.48 221.85,147.7 221.18,146.85 C220.52,145.99 219.77,145.16 219.36,144.17 C218.95,143.18 218.95,141.99 218.74,140.9 C218.54,139.81 218.39,138.69 218.13,137.63 C217.87,136.57 217.52,135.55 217.19,134.53 C216.85,133.5 216.49,132.48 216.11,131.49 C215.72,130.5 215.32,129.54 214.89,128.59 C214.47,127.65 213.96,126.77 213.58,125.81 C213.19,124.85 212.87,123.86 212.59,122.83 C212.31,121.8 212.13,120.71 211.9,119.65 C211.68,118.59 211.4,117.55 211.22,116.47 C211.04,115.39 210.95,114.28 210.81,113.18 C210.67,112.09 210.52,110.99 210.39,109.89 C210.27,108.8 210.14,107.7 210.06,106.59 C209.97,105.49 209.93,104.38 209.87,103.27 C209.81,102.16 209.77,101.05 209.71,99.94 C209.66,98.84 209.61,97.73 209.56,96.62 C209.51,95.51 209.45,94.4 209.41,93.29 C209.36,92.19 209.31,91.08 209.29,89.97 C209.27,88.86 209.27,87.75 209.28,86.64 C209.29,85.53 209.3,84.42 209.32,83.31 C209.34,82.2 209.37,81.09 209.4,79.98 C209.43,78.87 209.45,77.76 209.49,76.65 C209.53,75.54 209.58,74.43 209.63,73.32 C209.69,72.22 209.66,71.09 209.8,70 C209.95,68.91 210.23,67.83 210.51,66.77 C210.79,65.7 211.1,64.64 211.46,63.59 C211.82,62.55 212.35,61.08 212.68,60.5 C213,59.92 213.17,60.22 213.41,60.08 C213.66,59.95 213.9,59.81 214.15,59.67 C214.39,59.53 214.62,59.36 214.88,59.25 C215.14,59.14 215.41,59.09 215.68,59.01 C215.94,58.93 216.21,58.85 216.48,58.77 C216.74,58.69 217.01,58.61 217.27,58.53 C217.54,58.46 217.81,58.37 218.07,58.3 C218.34,58.22 218.61,58.15 218.87,58.08 C219.14,58.02 219.41,57.97 219.68,57.91 C219.95,57.85 220.22,57.8 220.49,57.74 C220.76,57.68 221.02,57.63 221.29,57.57 C221.56,57.51 221.83,57.46 222.1,57.4 C222.37,57.34 222.64,57.28 222.91,57.23 C223.17,57.17 223.44,57.09 223.71,57.06 C223.98,57.02 224.25,57.01 224.52,57.03 C224.79,57.05 225.06,57.12 225.32,57.17 C225.59,57.21 225.86,57.26 226.13,57.31 C226.4,57.36 226.67,57.41 226.94,57.46 C227.21,57.51 227.48,57.55 227.74,57.6 C228.01,57.65 228.28,57.7 228.55,57.75 C228.82,57.79 229.09,57.84 229.36,57.89 C229.63,57.94 229.9,57.98 230.16,58.04 C230.43,58.09 230.7,58.17 230.97,58.24 C231.24,58.31 231.5,58.39 231.77,58.46 C232.04,58.53 232.3,58.6 232.57,58.67 C232.84,58.74 233.11,58.81 233.37,58.89 C233.64,58.97 233.9,59.04 234.15,59.17 C234.4,59.29 234.63,59.47 234.86,59.62 C235.1,59.77 235.34,59.49 235.57,60.08 C235.81,60.66 236.06,62.13 236.27,63.16 C236.48,64.19 236.66,65.22 236.83,66.26 C237,67.29 237.18,68.33 237.3,69.37 C237.42,70.41 237.51,71.45 237.56,72.5 C237.61,73.55 237.59,74.61 237.61,75.66 C237.63,76.72 237.64,77.77 237.66,78.83 C237.68,79.88 237.69,80.93 237.71,81.99 C237.73,83.04 237.75,84.1 237.76,85.15 C237.78,86.2 237.8,87.26 237.81,88.31 C237.83,89.37 237.85,90.42 237.87,91.47 C237.88,92.53 237.9,93.58 237.92,94.64 C237.93,95.69 237.95,96.74 237.97,97.8 C237.99,98.85 238.02,99.91 238.04,100.96 C238.06,102.01 238.08,103.07 238.1,104.12 C238.12,105.18 238.14,106.23 238.16,107.28 C238.18,108.34 238.2,109.39 238.22,110.45 C238.24,111.5 238.26,112.56 238.29,113.61 C238.32,114.66 238.36,115.72 238.39,116.77 C238.43,117.82 238.46,118.88 238.5,119.93 C238.53,120.98 238.56,122.04 238.6,123.09 C238.63,124.14 238.67,125.2 238.7,126.25 C238.73,127.3 238.78,128.36 238.78,129.41 C238.78,130.46 238.73,131.52 238.7,132.57 C238.67,133.63 238.65,134.68 238.62,135.73 C238.59,136.79 238.57,137.84 238.54,138.9 C238.51,139.95 238.51,141.01 238.46,142.06 C238.4,143.11 238.45,144.2 238.19,145.19 C237.94,146.17 237.36,147.06 236.91,147.99 C236.46,148.92 235.79,150.26 235.5,150.75 C235.21,151.24 235.28,150.87 235.17,150.93 C235.06,150.99 234.95,151.05 234.83,151.12 C234.72,151.18 234.61,151.24 234.5,151.3 C234.39,151.36 234.28,151.42 234.17,151.48 C234.06,151.54 233.95,151.6 233.84,151.66 C233.73,151.73 233.61,151.79 233.5,151.85 C233.39,151.91 233.28,151.97 233.17,152.03 C233.06,152.09 232.95,152.15 232.84,152.21 C232.73,152.27 232.62,152.34 232.51,152.4 C232.4,152.46 232.28,152.52 232.17,152.58 C232.06,152.64 231.95,152.7 231.84,152.76 C231.73,152.82 231.62,152.88 231.51,152.95 C231.4,153.01 231.29,153.07 231.18,153.13 C231.06,153.19 230.95,153.25 230.84,153.31 C230.73,153.37 230.62,153.45 230.51,153.49 C230.4,153.54 230.29,153.59 230.17,153.58 C230.05,153.57 229.93,153.49 229.81,153.44 C229.69,153.39 229.57,153.35 229.45,153.3 C229.33,153.25 229.21,153.21 229.09,153.16 C228.97,153.11 228.85,153.07 228.73,153.02 C228.61,152.97 228.49,152.92 228.37,152.88 C228.25,152.83 228.13,152.78 228.01,152.74 C227.89,152.69 227.77,152.64 227.66,152.6 C227.54,152.55 227.42,152.5 227.3,152.45 C227.18,152.41 227.06,152.36 226.94,152.31 C226.82,152.27 226.7,152.22 226.58,152.17 C226.46,152.13 226.34,152.08 226.22,152.03 C226.1,151.98 225.98,151.94 225.86,151.89 C225.74,151.84 225.92,152.18 225.5,151.75Z"/>
<path d="M224.75,148.38 C224.39,147.95 223.52,146.77 222.91,145.97 C222.3,145.17 221.65,144.38 221.07,143.56 C220.49,142.74 219.78,141.96 219.42,141.03 C219.06,140.11 219.08,139.02 218.91,138.01 C218.73,137 218.59,135.98 218.39,134.99 C218.19,133.99 217.95,133.02 217.71,132.05 C217.47,131.07 217.22,130.1 216.96,129.14 C216.7,128.18 216.43,127.24 216.15,126.3 C215.87,125.36 215.53,124.46 215.28,123.52 C215.03,122.57 214.83,121.61 214.66,120.63 C214.48,119.65 214.38,118.64 214.25,117.64 C214.11,116.64 213.96,115.65 213.84,114.65 C213.73,113.64 213.66,112.62 213.57,111.6 C213.48,110.59 213.38,109.57 213.3,108.55 C213.21,107.54 213.12,106.52 213.06,105.5 C213,104.48 212.96,103.46 212.92,102.44 C212.88,101.41 212.85,100.39 212.82,99.37 C212.79,98.35 212.75,97.32 212.72,96.3 C212.68,95.28 212.65,94.26 212.61,93.24 C212.58,92.21 212.55,91.19 212.53,90.17 C212.51,89.15 212.5,88.12 212.5,87.1 C212.5,86.08 212.51,85.05 212.53,84.03 C212.54,83.01 212.57,81.98 212.6,80.96 C212.62,79.94 212.64,78.92 212.67,77.89 C212.7,76.87 212.74,75.85 212.78,74.83 C212.82,73.8 212.76,72.76 212.89,71.76 C213.03,70.76 213.34,69.78 213.62,68.8 C213.89,67.82 214.21,66.85 214.54,65.88 C214.86,64.91 215.32,63.53 215.59,63 C215.85,62.47 215.95,62.8 216.13,62.7 C216.31,62.59 216.49,62.49 216.67,62.39 C216.85,62.29 217.02,62.17 217.21,62.09 C217.39,62 217.59,61.94 217.78,61.87 C217.97,61.8 218.16,61.72 218.35,61.65 C218.54,61.58 218.73,61.51 218.92,61.44 C219.11,61.37 219.3,61.29 219.49,61.22 C219.68,61.15 219.88,61.08 220.07,61.02 C220.26,60.95 220.45,60.9 220.64,60.84 C220.83,60.78 221.03,60.72 221.22,60.65 C221.41,60.59 221.6,60.53 221.79,60.47 C221.98,60.41 222.18,60.35 222.37,60.29 C222.56,60.23 222.75,60.17 222.94,60.11 C223.14,60.05 223.33,59.96 223.52,59.93 C223.71,59.89 223.9,59.89 224.1,59.91 C224.29,59.94 224.48,60.02 224.67,60.08 C224.86,60.13 225.05,60.19 225.25,60.25 C225.44,60.3 225.63,60.36 225.82,60.42 C226.01,60.47 226.21,60.53 226.4,60.59 C226.59,60.64 226.78,60.7 226.97,60.75 C227.17,60.81 227.36,60.87 227.55,60.92 C227.74,60.98 227.93,61.03 228.13,61.09 C228.32,61.15 228.51,61.22 228.7,61.29 C228.89,61.36 229.08,61.43 229.27,61.5 C229.46,61.56 229.66,61.63 229.85,61.7 C230.04,61.77 230.23,61.83 230.42,61.9 C230.61,61.98 230.8,62.05 230.98,62.14 C231.16,62.23 231.33,62.36 231.51,62.46 C231.69,62.57 231.84,62.26 232.04,62.79 C232.24,63.32 232.49,64.7 232.7,65.66 C232.91,66.61 233.11,67.57 233.3,68.53 C233.49,69.49 233.71,70.45 233.85,71.41 C234,72.38 234.09,73.35 234.15,74.33 C234.21,75.3 234.19,76.29 234.22,77.27 C234.24,78.25 234.26,79.24 234.28,80.22 C234.31,81.2 234.33,82.18 234.35,83.16 C234.37,84.14 234.39,85.13 234.42,86.11 C234.44,87.09 234.46,88.07 234.48,89.05 C234.51,90.03 234.53,91.01 234.55,92 C234.57,92.98 234.59,93.96 234.62,94.94 C234.64,95.92 234.66,96.9 234.69,97.89 C234.71,98.87 234.73,99.85 234.76,100.83 C234.78,101.81 234.81,102.79 234.83,103.78 C234.85,104.76 234.88,105.74 234.9,106.72 C234.93,107.7 234.95,108.68 234.97,109.66 C235,110.65 235.02,111.63 235.05,112.61 C235.08,113.59 235.13,114.57 235.17,115.55 C235.21,116.53 235.25,117.51 235.29,118.49 C235.34,119.48 235.38,120.46 235.42,121.44 C235.46,122.42 235.5,123.4 235.54,124.38 C235.57,125.36 235.64,126.34 235.64,127.32 C235.64,128.3 235.58,129.29 235.54,130.27 C235.51,131.25 235.48,132.23 235.45,133.21 C235.42,134.19 235.39,135.17 235.36,136.15 C235.33,137.14 235.33,138.12 235.26,139.1 C235.2,140.07 235.19,141.07 234.96,142 C234.73,142.94 234.25,143.81 233.89,144.7 C233.52,145.6 232.98,146.9 232.75,147.38 C232.52,147.85 232.58,147.51 232.49,147.58 C232.4,147.65 232.31,147.71 232.23,147.78 C232.14,147.85 232.05,147.92 231.96,147.98 C231.88,148.05 231.79,148.12 231.7,148.19 C231.62,148.25 231.53,148.32 231.44,148.39 C231.35,148.46 231.27,148.53 231.18,148.59 C231.09,148.66 231,148.73 230.92,148.8 C230.83,148.86 230.74,148.93 230.65,149 C230.57,149.07 230.48,149.13 230.39,149.2 C230.31,149.27 230.22,149.34 230.13,149.4 C230.04,149.47 229.96,149.54 229.87,149.61 C229.78,149.68 229.69,149.74 229.61,149.81 C229.52,149.88 229.43,149.95 229.35,150.01 C229.26,150.08 229.17,150.15 229.08,150.22 C229,150.28 228.91,150.37 228.82,150.42 C228.73,150.47 228.64,150.52 228.55,150.51 C228.46,150.5 228.36,150.4 228.26,150.35 C228.16,150.29 228.06,150.24 227.97,150.18 C227.87,150.13 227.77,150.07 227.67,150.02 C227.58,149.96 227.48,149.91 227.38,149.86 C227.28,149.8 227.19,149.75 227.09,149.69 C226.99,149.64 226.89,149.58 226.8,149.53 C226.7,149.47 226.6,149.42 226.5,149.36 C226.41,149.31 226.31,149.25 226.21,149.2 C226.11,149.14 226.02,149.09 225.92,149.03 C225.82,148.98 225.72,148.92 225.63,148.87 C225.53,148.81 225.43,148.76 225.33,148.7 C225.24,148.65 225.14,148.59 225.04,148.54 C224.94,148.48 225.11,148.8 224.75,148.38Z"/>
<path d="M224,145 C223.71,144.57 222.99,143.42 222.48,142.64 C221.97,141.85 221.46,141.06 220.96,140.27 C220.46,139.48 219.8,138.76 219.48,137.9 C219.17,137.04 219.21,136.04 219.07,135.12 C218.93,134.19 218.79,133.27 218.65,132.34 C218.51,131.42 218.37,130.49 218.23,129.56 C218.1,128.64 217.96,127.71 217.82,126.79 C217.68,125.86 217.54,124.93 217.4,124.01 C217.26,123.08 217.1,122.16 216.98,121.23 C216.87,120.3 216.79,119.37 216.73,118.44 C216.66,117.5 216.64,116.57 216.59,115.63 C216.55,114.7 216.51,113.76 216.46,112.83 C216.42,111.89 216.37,110.96 216.33,110.02 C216.29,109.09 216.24,108.15 216.2,107.21 C216.15,106.28 216.1,105.34 216.07,104.41 C216.03,103.47 216,102.54 215.97,101.6 C215.95,100.67 215.94,99.73 215.92,98.79 C215.91,97.86 215.89,96.92 215.87,95.99 C215.86,95.05 215.84,94.11 215.82,93.18 C215.81,92.24 215.79,91.31 215.77,90.37 C215.76,89.43 215.73,88.5 215.72,87.56 C215.72,86.62 215.72,85.69 215.73,84.75 C215.75,83.82 215.78,82.88 215.8,81.94 C215.82,81.01 215.84,80.07 215.86,79.14 C215.88,78.2 215.9,77.26 215.92,76.33 C215.95,75.39 215.86,74.44 215.99,73.52 C216.12,72.6 216.45,71.72 216.72,70.83 C216.99,69.94 217.32,69.05 217.61,68.16 C217.91,67.28 218.29,65.98 218.5,65.5 C218.71,65.02 218.73,65.37 218.84,65.31 C218.96,65.24 219.07,65.18 219.19,65.11 C219.3,65.05 219.42,64.99 219.53,64.92 C219.65,64.86 219.76,64.79 219.88,64.73 C219.99,64.66 220.11,64.6 220.22,64.53 C220.34,64.47 220.45,64.41 220.57,64.34 C220.68,64.28 220.8,64.21 220.91,64.15 C221.03,64.08 221.14,64.02 221.26,63.96 C221.37,63.89 221.49,63.83 221.6,63.76 C221.72,63.7 221.83,63.63 221.95,63.57 C222.06,63.5 222.18,63.44 222.29,63.38 C222.41,63.31 222.52,63.25 222.64,63.18 C222.75,63.12 222.87,63.05 222.98,62.99 C223.1,62.93 223.21,62.83 223.33,62.8 C223.44,62.76 223.56,62.76 223.67,62.8 C223.79,62.83 223.9,62.93 224.02,62.99 C224.13,63.05 224.25,63.12 224.36,63.18 C224.48,63.25 224.59,63.31 224.71,63.38 C224.82,63.44 224.94,63.5 225.05,63.57 C225.17,63.63 225.28,63.7 225.4,63.76 C225.51,63.83 225.63,63.89 225.74,63.96 C225.86,64.02 225.97,64.08 226.09,64.15 C226.2,64.21 226.32,64.28 226.43,64.34 C226.55,64.41 226.66,64.47 226.78,64.53 C226.89,64.6 227.01,64.66 227.12,64.73 C227.24,64.79 227.35,64.86 227.47,64.92 C227.58,64.99 227.7,65.05 227.81,65.11 C227.93,65.18 228.04,65.24 228.16,65.31 C228.27,65.37 228.34,65.03 228.5,65.5 C228.66,65.97 228.92,67.27 229.13,68.15 C229.35,69.04 229.56,69.92 229.77,70.81 C229.98,71.69 230.24,72.57 230.4,73.46 C230.57,74.35 230.67,75.25 230.74,76.15 C230.81,77.06 230.8,77.97 230.83,78.88 C230.85,79.79 230.88,80.7 230.91,81.61 C230.93,82.52 230.96,83.43 230.99,84.34 C231.02,85.25 231.04,86.15 231.07,87.06 C231.1,87.97 231.13,88.88 231.15,89.79 C231.18,90.7 231.21,91.61 231.23,92.52 C231.26,93.43 231.29,94.34 231.32,95.25 C231.34,96.15 231.37,97.06 231.4,97.97 C231.43,98.88 231.45,99.79 231.48,100.7 C231.51,101.61 231.54,102.52 231.56,103.43 C231.59,104.34 231.62,105.25 231.65,106.15 C231.67,107.06 231.7,107.97 231.73,108.88 C231.76,109.79 231.78,110.7 231.82,111.61 C231.85,112.52 231.91,113.43 231.96,114.33 C232,115.24 232.05,116.15 232.09,117.06 C232.14,117.97 232.19,118.88 232.23,119.78 C232.28,120.69 232.33,121.6 232.37,122.51 C232.42,123.42 232.49,124.33 232.49,125.23 C232.49,126.14 232.42,127.05 232.39,127.96 C232.35,128.87 232.32,129.78 232.28,130.69 C232.25,131.6 232.21,132.5 232.18,133.41 C232.14,134.32 232.15,135.24 232.07,136.14 C232,137.04 231.93,137.94 231.73,138.82 C231.52,139.7 231.15,140.55 230.86,141.41 C230.58,142.27 230.18,143.53 230,144 C229.82,144.47 229.87,144.15 229.81,144.22 C229.75,144.3 229.68,144.37 229.62,144.45 C229.55,144.52 229.49,144.59 229.43,144.67 C229.36,144.74 229.3,144.82 229.24,144.89 C229.17,144.97 229.11,145.04 229.04,145.11 C228.98,145.19 228.92,145.26 228.85,145.34 C228.79,145.41 228.73,145.49 228.66,145.56 C228.6,145.63 228.54,145.71 228.47,145.78 C228.41,145.86 228.34,145.93 228.28,146.01 C228.22,146.08 228.15,146.15 228.09,146.23 C228.03,146.3 227.96,146.38 227.9,146.45 C227.83,146.53 227.77,146.6 227.71,146.68 C227.64,146.75 227.58,146.82 227.52,146.9 C227.45,146.97 227.39,147.05 227.32,147.12 C227.26,147.2 227.2,147.29 227.13,147.34 C227.07,147.4 227,147.46 226.93,147.44 C226.86,147.43 226.78,147.32 226.71,147.26 C226.63,147.19 226.56,147.13 226.48,147.07 C226.41,147.01 226.33,146.94 226.26,146.88 C226.18,146.82 226.11,146.75 226.03,146.69 C225.95,146.63 225.88,146.57 225.8,146.5 C225.73,146.44 225.65,146.38 225.58,146.32 C225.5,146.25 225.43,146.19 225.35,146.13 C225.28,146.07 225.2,146 225.13,145.94 C225.05,145.88 224.98,145.81 224.9,145.75 C224.83,145.69 224.75,145.63 224.68,145.56 C224.6,145.5 224.53,145.44 224.45,145.38 C224.38,145.31 224.3,145.25 224.23,145.19 C224.15,145.13 224.29,145.43 224,145Z"/>
<path d="M222.7,94.2 C221.87,96.32 221.2,106.57 221,111.7 C220.8,116.83 221.08,121.28 221.5,125 C221.92,128.72 222.75,131.78 223.5,134 C224.25,136.22 225.08,138.47 226,138.3 C226.92,138.13 228.17,135.5 229,133 C229.83,130.5 230.83,126.8 231,123.3 C231.17,119.8 230.42,114.77 230,112 C229.58,109.23 229.17,108.87 228.5,106.7 C227.83,104.53 226.97,101.08 226,99 C225.03,96.92 223.53,92.08 222.7,94.2Z"/>
<path d="M293,22.5 C293.28,23.33 294.92,25.22 294.7,27.5 C294.48,29.78 293.85,33.72 291.7,36.2 C289.55,38.68 285.12,40.73 281.8,42.4 C278.48,44.07 274.52,44.73 271.8,46.2 C269.08,47.67 267.08,48.92 265.5,51.2 C263.92,53.48 262.92,54.72 262.3,59.9 C261.68,65.08 261.8,74.4 261.8,82.3 C261.8,90.2 261.88,99.4 262.3,107.3 C262.72,115.2 263.35,123.47 264.3,129.7 C265.25,135.93 266.33,141.17 268,144.7 C269.67,148.23 272.22,149.45 274.3,150.9 C276.38,152.35 278.63,152.15 280.5,153.4 C282.37,154.65 284.47,157.13 285.5,158.4 C286.53,159.67 286.5,160.57 286.7,161"/>
<path d="M275.5,57.9 C273.42,58.32 270.83,60.4 269.3,62.4 C267.77,64.4 266.93,65.33 266.3,69.9 C265.67,74.47 265.22,82.32 265.5,89.8 C265.78,97.28 266.53,108.57 268,114.8 C269.47,121.03 272.42,124.08 274.3,127.2 C276.18,130.32 277.65,131.42 279.3,133.5 C280.95,135.58 282.13,137.22 284.2,139.7 C286.27,142.18 289.62,146.73 291.7,148.4 C293.78,150.07 294.82,150.12 296.7,149.7 C298.58,149.28 301.55,148.4 303,145.9 C304.45,143.4 304.87,139.88 305.4,134.7 C305.93,129.52 306.2,122.28 306.2,114.8 C306.2,107.32 306.15,96.45 305.4,89.8 C304.65,83.15 303.15,78.63 301.7,74.9 C300.25,71.17 298.78,69.28 296.7,67.4 C294.62,65.52 291.68,64.85 289.2,63.6 C286.72,62.35 284.08,60.85 281.8,59.9 C279.52,58.95 277.58,57.48 275.5,57.9Z" stroke-dasharray="3.7,1.85"/>
<path d="M312.9,161 C313.12,154.13 313.57,132.92 314.2,119.8 C314.83,106.68 315.45,91.87 316.7,82.3 C317.95,72.73 319.63,68.63 321.7,62.4 C323.77,56.17 326.2,49.68 329.1,44.9 C332,40.12 335.35,36.27 339.1,33.7 C342.85,31.13 347.87,30.33 351.6,29.5 C355.33,28.67 359.02,28.42 361.5,28.7 C363.98,28.98 365.25,30.32 366.5,31.2 C367.75,32.08 368.58,33.53 369,34"/>
<path d="M369,79 C368.17,80.38 365.25,84.67 364,87.3 C362.75,89.93 362.23,92.3 361.5,94.8 C360.77,97.3 360.27,98.93 359.6,102.3 C358.93,105.67 358,111.47 357.5,115 C357,118.53 356.97,119.8 356.6,123.5 C356.23,127.2 355.72,130.95 355.3,137.2 C354.88,143.45 354.3,157.03 354.1,161"/>
<path d="M363.5,158.4 C363.92,158.5 365.08,158.8 366,159 C366.92,159.2 368.5,159.5 369,159.6"/>
<path d="M100,23.2 L133.8,23"/>
</g>
<clipPath id="cl0"><rect x="51.45" y="22.4" width="317.05" height="146.02"/></clipPath>
<g clip-path="url(#cl0)">
<text x="95.5" y="22.6" transform="rotate(0 95.5 22.6)" font-size="8.8" text-anchor="middle" dominant-baseline="central" stroke="#fff" stroke-width="3.2" stroke-linejoin="round" fill="#fff">0</text>
<text x="95.5" y="22.6" transform="rotate(0 95.5 22.6)" font-size="8.8" text-anchor="middle" dominant-baseline="central" stroke="#000" stroke-width="0.25" fill="#000">0</text>
<text x="178.8" y="21.6" transform="rotate(0 178.8 21.6)" font-size="8.8" text-anchor="middle" dominant-baseline="central" stroke="#fff" stroke-width="3.2" stroke-linejoin="round" fill="#fff">0</text>
<text x="178.8" y="21.6" transform="rotate(0 178.8 21.6)" font-size="8.8" text-anchor="middle" dominant-baseline="central" stroke="#000" stroke-width="0.25" fill="#000">0</text>
<text x="147" y="117.3" transform="rotate(-90 147 117.3)" font-size="8.8" text-anchor="middle" dominant-baseline="central" stroke="#fff" stroke-width="3.2" stroke-linejoin="round" fill="#fff">0</text>
<text x="147" y="117.3" transform="rotate(-90 147 117.3)" font-size="8.8" text-anchor="middle" dominant-baseline="central" stroke="#000" stroke-width="0.25" fill="#000">0</text>
<text x="172.4" y="153.9" transform="rotate(0 172.4 153.9)" font-size="8.8" text-anchor="middle" dominant-baseline="central" stroke="#fff" stroke-width="3.2" stroke-linejoin="round" fill="#fff">-4</text>
<text x="172.4" y="153.9" transform="rotate(0 172.4 153.9)" font-size="8.8" text-anchor="middle" dominant-baseline="central" stroke="#000" stroke-width="0.25" fill="#000">-4</text>
<text x="70.2" y="153.4" transform="rotate(-20 70.2 153.4)" font-size="8.8" text-anchor="middle" dominant-baseline="central" stroke="#fff" stroke-width="3.2" stroke-linejoin="round" fill="#fff">0</text>
<text x="70.2" y="153.4" transform="rotate(-20 70.2 153.4)" font-size="8.8" text-anchor="middle" dominant-baseline="central" stroke="#000" stroke-width="0.25" fill="#000">0</text>
<text x="247.3" y="96" transform="rotate(-90 247.3 96)" font-size="8.8" text-anchor="middle" dominant-baseline="central" stroke="#fff" stroke-width="3.2" stroke-linejoin="round" fill="#fff">8</text>
<text x="247.3" y="96" transform="rotate(-90 247.3 96)" font-size="8.8" text-anchor="middle" dominant-baseline="central" stroke="#000" stroke-width="0.25" fill="#000">8</text>
<text x="255" y="132.3" transform="rotate(-90 255 132.3)" font-size="8.8" text-anchor="middle" dominant-baseline="central" stroke="#fff" stroke-width="3.2" stroke-linejoin="round" fill="#fff">4</text>
<text x="255" y="132.3" transform="rotate(-90 255 132.3)" font-size="8.8" text-anchor="middle" dominant-baseline="central" stroke="#000" stroke-width="0.25" fill="#000">4</text>
<text x="229" y="145" transform="rotate(-60 229 145)" font-size="8.8" text-anchor="middle" dominant-baseline="central" stroke="#fff" stroke-width="3.2" stroke-linejoin="round" fill="#fff">6</text>
<text x="229" y="145" transform="rotate(-60 229 145)" font-size="8.8" text-anchor="middle" dominant-baseline="central" stroke="#000" stroke-width="0.25" fill="#000">6</text>
<text x="356.6" y="123.5" transform="rotate(-90 356.6 123.5)" font-size="8.8" text-anchor="middle" dominant-baseline="central" stroke="#fff" stroke-width="3.2" stroke-linejoin="round" fill="#fff">0</text>
<text x="356.6" y="123.5" transform="rotate(-90 356.6 123.5)" font-size="8.8" text-anchor="middle" dominant-baseline="central" stroke="#000" stroke-width="0.25" fill="#000">0</text>
</g>
<rect x="51.45" y="22.4" width="317.05" height="146.02" fill="none" stroke="#000" stroke-width="0.85"/>
<path d="M51.45,168.42 v3.6 M86.68,168.42 v3.6 M121.91,168.42 v3.6 M157.13,168.42 v3.6 M192.36,168.42 v3.6 M227.59,168.42 v3.6 M262.82,168.42 v3.6 M298.04,168.42 v3.6 M333.27,168.42 v3.6 M368.5,168.42 v3.6 M51.45,36.5 h-3.6 M51.45,58.49 h-3.6 M51.45,80.47 h-3.6 M51.45,102.46 h-3.6 M51.45,124.45 h-3.6 M51.45,146.43 h-3.6 M51.45,168.42 h-3.6" stroke="#000" stroke-width="0.85" fill="none"/>
<g font-size="10.4"><text x="51.45" y="183.92" text-anchor="middle">−90</text><text x="86.68" y="183.92" text-anchor="middle">−70</text><text x="121.91" y="183.92" text-anchor="middle">−50</text><text x="157.13" y="183.92" text-anchor="middle">−30</text><text x="192.36" y="183.92" text-anchor="middle">−10</text><text x="227.59" y="183.92" text-anchor="middle">10</text><text x="262.82" y="183.92" text-anchor="middle">30</text><text x="298.04" y="183.92" text-anchor="middle">50</text><text x="333.27" y="183.92" text-anchor="middle">70</text><text x="368.5" y="183.92" text-anchor="middle">90</text><text x="44.05" y="40.7" text-anchor="end" font-size="10.6">100</text><text x="44.05" y="62.69" text-anchor="end" font-size="10.6">250</text><text x="44.05" y="84.67" text-anchor="end" font-size="10.6">400</text><text x="44.05" y="106.66" text-anchor="end" font-size="10.6">550</text><text x="44.05" y="128.65" text-anchor="end" font-size="10.6">700</text><text x="44.05" y="150.63" text-anchor="end" font-size="10.6">850</text><text x="44.05" y="172.62" text-anchor="end" font-size="10.6">1000</text></g>
<text x="209.97" y="198.62" text-anchor="middle" font-size="10.4">Latitude</text>
<text x="11.85" y="96.76" text-anchor="middle" font-size="10.7" transform="rotate(-90 11.85 96.76)">Pressure</text>
<text x="209.97" y="15.9" text-anchor="middle" font-size="12.7">Meridional mass stream function - DJF</text>
<text x="51.45" y="15.9" font-size="16.0">a</text>
</g>
<g>
<clipPath id="cp1"><rect x="431" y="22.4" width="316.75" height="138.8"/></clipPath>
<g clip-path="url(#cp1)" fill="none" stroke="#000" stroke-width="1.3" stroke-linejoin="round" stroke-linecap="butt">
<path d="M431,53.7 C431.7,53.07 434.28,51.78 435.2,49.9 C436.12,48.02 435.67,44.27 436.5,42.4 C437.33,40.53 438.12,39.52 440.2,38.7 C442.28,37.88 446.3,37.5 449,37.5 C451.7,37.5 453.92,37.67 456.4,38.7 C458.88,39.73 461.62,41.62 463.9,43.7 C466.18,45.78 468.5,48.82 470.1,51.2 C471.7,53.58 472.75,55.53 473.5,58 C474.25,60.47 474.33,63.17 474.6,66 C474.87,68.83 474.88,68.12 475.1,75 C475.32,81.88 475.6,92.97 475.9,107.3 C476.2,121.63 476.73,152.05 476.9,161"/>
<path d="M431,108.5 C431.7,109.13 434.37,110.83 435.2,112.3 C436.03,113.77 435.87,116.47 436,117.3"/>
<path d="M439.5,139.7 C440.03,141.37 441.53,147.62 442.7,149.7 C443.87,151.78 444.83,151.92 446.5,152.2 C448.17,152.48 450.83,151.12 452.7,151.4 C454.57,151.68 456.03,153.15 457.7,153.9 C459.37,154.65 461.03,155.35 462.7,155.9 C464.37,156.45 466.67,156.35 467.7,157.2 C468.73,158.05 468.7,160.37 468.9,161"/>
<path d="M515,22 C513.77,22.5 509.27,23.67 507.6,25 C505.93,26.33 505.22,27.92 505,30 C504.78,32.08 504.83,35.43 506.3,37.5 C507.77,39.57 510.47,41.17 513.8,42.4 C517.13,43.63 522.98,43.85 526.3,44.9 C529.62,45.95 531.75,47.03 533.7,48.7 C535.65,50.37 537.17,51.37 538,54.9 C538.83,58.43 538.78,61.17 538.7,69.9 C538.62,78.63 537.92,96.92 537.5,107.3 C537.08,117.68 536.75,123.25 536.2,132.2 C535.65,141.15 534.53,156.2 534.2,161"/>
<path d="M523.8,57.4 C525.47,57.6 526.35,57.82 527.5,59.9 C528.65,61.98 530.08,64.08 530.7,69.9 C531.32,75.72 531.12,84.42 531.2,94.8 C531.28,105.18 531.82,123.05 531.2,132.2 C530.58,141.35 529.57,145.75 527.5,149.7 C525.43,153.65 521.92,154.65 518.8,155.9 C515.68,157.15 512.55,157.2 508.8,157.2 C505.05,157.2 499.42,157.15 496.3,155.9 C493.18,154.65 491.67,153.65 490.1,149.7 C488.53,145.75 487.43,140.1 486.9,132.2 C486.37,124.3 486.37,110.62 486.9,102.3 C487.43,93.98 488.53,87.28 490.1,82.3 C491.67,77.32 493.18,75.3 496.3,72.4 C499.42,69.5 505.27,67.18 508.8,64.9 C512.33,62.62 515,59.95 517.5,58.7 C520,57.45 522.13,57.2 523.8,57.4Z"/>
<path d="M523.3,100.3 C524.47,101.13 524.22,105.32 524.5,109.8 C524.78,114.28 525.75,123.67 525,127.2 C524.25,130.73 521.75,130.28 520,131 C518.25,131.72 515.75,132.55 514.5,131.5 C513.25,130.45 512.62,127.9 512.5,124.7 C512.38,121.5 512.97,115.62 513.8,112.3 C514.63,108.98 515.92,106.8 517.5,104.8 C519.08,102.8 522.13,99.47 523.3,100.3Z"/>
<path d="M560,172 C558.94,171.73 556.97,170.9 555.46,170.35 C553.95,169.81 552.44,169.26 550.92,168.71 C549.41,168.16 547.9,167.61 546.38,167.06 C544.87,166.51 542.78,166.36 541.85,165.42 C540.91,164.47 540.94,162.87 540.78,161.39 C540.62,159.92 540.86,158.17 540.89,156.56 C540.93,154.96 540.97,153.35 541,151.74 C541.04,150.13 541.08,148.52 541.11,146.91 C541.15,145.3 541.19,143.69 541.22,142.08 C541.26,140.47 541.3,138.87 541.33,137.26 C541.37,135.65 541.41,134.04 541.44,132.43 C541.48,130.82 541.52,129.21 541.57,127.6 C541.61,125.99 541.66,124.39 541.71,122.78 C541.75,121.17 541.8,119.56 541.84,117.95 C541.89,116.34 541.93,114.73 541.98,113.13 C542.03,111.52 542.07,109.91 542.12,108.3 C542.16,106.69 542.21,105.08 542.25,103.47 C542.3,101.86 542.34,100.26 542.39,98.65 C542.44,97.04 542.48,95.43 542.57,93.82 C542.66,92.22 542.8,90.61 542.92,89.01 C543.04,87.4 543.15,85.8 543.27,84.19 C543.39,82.59 543.5,80.98 543.62,79.38 C543.74,77.77 543.85,76.17 543.97,74.56 C544.09,72.96 544.19,71.35 544.33,69.75 C544.46,68.14 544.65,66.54 544.81,64.94 C544.97,63.34 545.13,61.74 545.29,60.14 C545.45,58.54 545.57,56.92 545.77,55.33 C545.96,53.74 545.91,52.07 546.45,50.6 C546.99,49.13 548.25,47.32 549,46.5 C549.75,45.68 550.31,45.96 550.96,45.68 C551.61,45.41 552.26,45.14 552.92,44.87 C553.57,44.6 554.2,44.24 554.87,44.05 C555.55,43.86 556.27,43.82 556.96,43.72 C557.66,43.61 558.36,43.52 559.06,43.42 C559.76,43.32 560.46,43.22 561.16,43.12 C561.86,43.02 562.56,42.92 563.26,42.82 C563.96,42.72 564.66,42.6 565.36,42.52 C566.06,42.44 566.77,42.38 567.47,42.34 C568.18,42.29 568.89,42.27 569.59,42.23 C570.3,42.2 571,42.16 571.71,42.13 C572.42,42.09 573.12,42.06 573.83,42.02 C574.53,41.99 575.24,41.95 575.95,41.92 C576.65,41.88 577.36,41.84 578.07,41.81 C578.77,41.78 579.48,41.76 580.19,41.74 C580.89,41.72 581.6,41.7 582.31,41.67 C583.01,41.65 583.72,41.63 584.43,41.61 C585.13,41.59 585.84,41.56 586.55,41.54 C587.25,41.52 587.96,41.5 588.67,41.48 C589.37,41.45 590.08,41.41 590.79,41.41 C591.49,41.41 592.2,41.46 592.9,41.48 C593.61,41.51 594.32,41.55 595.02,41.58 C595.73,41.62 596.44,41.65 597.14,41.68 C597.85,41.71 598.55,41.75 599.26,41.78 C599.97,41.81 600.67,41.85 601.38,41.88 C602.09,41.91 602.82,41.84 603.5,41.98 C604.18,42.11 604.82,42.42 605.46,42.69 C606.11,42.96 606.74,43.29 607.38,43.6 C608.02,43.9 608.57,43.73 609.3,44.5 C610.03,45.27 611.15,46.9 611.77,48.2 C612.38,49.5 612.76,50.88 612.98,52.3 C613.21,53.73 613.09,55.26 613.14,56.75 C613.19,58.23 613.24,59.71 613.3,61.19 C613.35,62.67 613.4,64.15 613.45,65.63 C613.5,67.12 613.55,68.6 613.61,70.08 C613.67,71.56 613.76,73.04 613.83,74.52 C613.91,76 613.98,77.48 614.05,78.96 C614.13,80.44 614.2,81.92 614.28,83.4 C614.35,84.88 614.42,86.36 614.5,87.84 C614.57,89.32 614.65,90.8 614.72,92.28 C614.8,93.76 614.87,95.25 614.94,96.73 C615.02,98.21 615.09,99.69 615.17,101.17 C615.24,102.65 615.31,104.13 615.39,105.61 C615.46,107.09 615.54,108.57 615.61,110.05 C615.69,111.53 615.76,113.01 615.83,114.49 C615.91,115.97 615.96,117.45 616.06,118.93 C616.15,120.41 616.29,121.89 616.42,123.36 C616.55,124.84 616.69,126.32 616.82,127.79 C616.96,129.27 617.09,130.74 617.22,132.22 C617.36,133.7 617.5,135.17 617.62,136.65 C617.75,138.13 617.87,139.6 617.96,141.08 C618.06,142.56 618.1,144.04 618.17,145.52 C618.24,147 618.31,148.49 618.38,149.97 C618.45,151.45 618.66,152.93 618.59,154.41 C618.52,155.88 618.18,157.34 617.96,158.8 C617.74,160.27 617.75,161.86 617.28,163.2 C616.81,164.54 616.02,165.72 615.14,166.86 C614.26,167.99 612.82,169.43 612,170 C611.18,170.57 610.82,170.2 610.23,170.3 C609.63,170.39 609.04,170.49 608.45,170.59 C607.86,170.69 607.27,170.79 606.68,170.89 C606.09,170.99 605.49,171.08 604.9,171.18 C604.31,171.28 603.72,171.38 603.13,171.48 C602.54,171.58 601.95,171.69 601.35,171.77 C600.76,171.86 600.17,171.96 599.57,172 C598.98,172.04 598.37,172 597.78,172 C597.18,172 596.58,172 595.98,172 C595.38,172 594.78,172 594.18,172 C593.58,172 592.98,172 592.38,172 C591.78,172 591.18,172 590.58,172 C589.98,172 589.38,172 588.78,172 C588.18,172 587.58,172 586.98,172 C586.38,172 585.78,172 585.18,172 C584.58,172 583.98,172 583.38,172 C582.78,172 582.19,172 581.59,172 C580.99,172 580.39,172 579.79,172 C579.19,172 578.59,172 577.99,172 C577.39,172 576.79,172 576.19,172 C575.59,172 574.99,172 574.39,172 C573.79,172 573.19,172 572.59,172 C571.99,172 571.39,172 570.79,172 C570.19,172 569.59,172 568.99,172 C568.39,172 567.79,172 567.2,172 C566.6,172 566,172 565.4,172 C564.8,172 564.2,172 563.6,172 C563,172 562.4,172 561.8,172 C561.2,172 561.06,172.27 560,172Z" stroke-dasharray="3.7,1.85"/>
<path d="M562.25,167.62 C561.26,167.37 559.39,166.6 557.97,166.08 C556.54,165.57 555.1,165.07 553.68,164.54 C552.27,164 550.87,163.45 549.48,162.89 C548.09,162.33 546.21,162.09 545.33,161.17 C544.46,160.25 544.41,158.76 544.25,157.37 C544.09,155.98 544.33,154.34 544.37,152.82 C544.41,151.3 544.45,149.78 544.49,148.27 C544.53,146.75 544.57,145.23 544.61,143.72 C544.65,142.2 544.69,140.68 544.73,139.17 C544.77,137.65 544.8,136.13 544.85,134.62 C544.89,133.1 544.93,131.58 544.98,130.07 C545.02,128.55 545.08,127.03 545.13,125.52 C545.18,124 545.24,122.49 545.29,120.97 C545.35,119.45 545.4,117.94 545.45,116.42 C545.51,114.91 545.56,113.39 545.62,111.87 C545.67,110.36 545.73,108.84 545.78,107.32 C545.84,105.81 545.89,104.29 545.94,102.78 C546,101.26 546.04,99.74 546.1,98.23 C546.16,96.71 546.21,95.2 546.3,93.68 C546.39,92.17 546.53,90.66 546.65,89.14 C546.76,87.63 546.88,86.12 546.99,84.6 C547.11,83.09 547.22,81.58 547.34,80.06 C547.45,78.55 547.57,77.04 547.69,75.53 C547.81,74.01 547.92,72.5 548.06,70.99 C548.21,69.48 548.39,67.97 548.55,66.47 C548.71,64.96 548.87,63.45 549.04,61.94 C549.2,60.43 549.31,58.91 549.52,57.42 C549.73,55.93 549.77,54.38 550.3,53 C550.83,51.62 552.01,49.91 552.71,49.14 C553.41,48.37 553.9,48.64 554.49,48.39 C555.08,48.14 555.68,47.89 556.27,47.64 C556.86,47.4 557.44,47.08 558.05,46.9 C558.66,46.72 559.31,46.68 559.94,46.57 C560.58,46.47 561.21,46.38 561.85,46.28 C562.48,46.18 563.12,46.08 563.75,45.98 C564.38,45.88 565.02,45.79 565.65,45.69 C566.29,45.59 566.92,45.47 567.56,45.39 C568.19,45.31 568.83,45.25 569.47,45.2 C570.11,45.15 570.75,45.12 571.39,45.07 C572.03,45.03 572.67,44.98 573.31,44.95 C573.95,44.91 574.59,44.89 575.24,44.86 C575.88,44.83 576.52,44.8 577.16,44.77 C577.8,44.74 578.45,44.7 579.09,44.68 C579.73,44.65 580.37,44.64 581.02,44.62 C581.66,44.6 582.3,44.58 582.95,44.56 C583.59,44.55 584.23,44.53 584.87,44.51 C585.52,44.49 586.16,44.47 586.8,44.45 C587.45,44.43 588.09,44.42 588.73,44.4 C589.37,44.38 590.02,44.34 590.66,44.34 C591.3,44.34 591.95,44.38 592.59,44.41 C593.23,44.43 593.87,44.46 594.52,44.5 C595.16,44.53 595.79,44.58 596.43,44.62 C597.07,44.66 597.71,44.7 598.35,44.74 C598.99,44.78 599.63,44.83 600.27,44.87 C600.91,44.91 601.57,44.86 602.18,44.99 C602.8,45.12 603.38,45.4 603.97,45.65 C604.55,45.9 605.13,46.21 605.71,46.48 C606.29,46.76 606.78,46.59 607.45,47.31 C608.12,48.03 609.14,49.58 609.72,50.81 C610.29,52.03 610.67,53.32 610.89,54.65 C611.11,55.99 610.98,57.43 611.03,58.82 C611.08,60.21 611.13,61.6 611.18,62.98 C611.23,64.37 611.27,65.76 611.32,67.15 C611.37,68.54 611.41,69.93 611.47,71.32 C611.53,72.71 611.61,74.09 611.67,75.48 C611.74,76.87 611.81,78.26 611.88,79.64 C611.95,81.03 612.01,82.42 612.08,83.81 C612.15,85.2 612.22,86.58 612.29,87.97 C612.35,89.36 612.42,90.75 612.49,92.14 C612.56,93.52 612.63,94.91 612.69,96.3 C612.76,97.69 612.83,99.08 612.9,100.46 C612.97,101.85 613.03,103.24 613.1,104.63 C613.17,106.02 613.24,107.4 613.3,108.79 C613.37,110.18 613.44,111.57 613.51,112.95 C613.58,114.34 613.62,115.73 613.71,117.12 C613.8,118.51 613.93,119.89 614.04,121.27 C614.16,122.66 614.28,124.04 614.4,125.43 C614.51,126.81 614.63,128.2 614.75,129.58 C614.87,130.96 614.99,132.35 615.1,133.73 C615.21,135.12 615.32,136.5 615.4,137.89 C615.48,139.28 615.52,140.67 615.59,142.05 C615.65,143.44 615.71,144.83 615.77,146.22 C615.82,147.61 615.99,149 615.91,150.38 C615.84,151.76 615.53,153.13 615.33,154.5 C615.13,155.88 615.12,157.36 614.69,158.62 C614.27,159.89 613.57,161.01 612.79,162.1 C612.01,163.18 610.73,164.57 610,165.12 C609.27,165.68 608.93,165.34 608.39,165.45 C607.86,165.56 607.32,165.67 606.78,165.78 C606.25,165.89 605.71,166 605.18,166.11 C604.64,166.22 604.1,166.33 603.57,166.44 C603.03,166.55 602.5,166.66 601.96,166.77 C601.42,166.87 600.89,166.99 600.35,167.09 C599.82,167.19 599.28,167.3 598.74,167.36 C598.2,167.42 597.65,167.41 597.11,167.43 C596.57,167.45 596.03,167.48 595.48,167.5 C594.93,167.51 594.37,167.51 593.82,167.52 C593.27,167.53 592.71,167.54 592.16,167.54 C591.61,167.55 591.05,167.56 590.5,167.56 C589.95,167.57 589.39,167.58 588.84,167.59 C588.29,167.59 587.73,167.6 587.18,167.61 C586.63,167.61 586.07,167.62 585.52,167.63 C584.97,167.64 584.41,167.64 583.86,167.65 C583.31,167.66 582.75,167.67 582.2,167.67 C581.65,167.68 581.09,167.68 580.54,167.69 C579.98,167.69 579.43,167.68 578.88,167.68 C578.32,167.68 577.77,167.68 577.21,167.67 C576.66,167.67 576.1,167.67 575.55,167.67 C575,167.67 574.44,167.67 573.89,167.66 C573.33,167.66 572.78,167.66 572.23,167.66 C571.67,167.66 571.12,167.65 570.56,167.65 C570.01,167.65 569.45,167.65 568.9,167.65 C568.35,167.65 567.79,167.64 567.24,167.64 C566.68,167.64 566.13,167.64 565.58,167.64 C565.02,167.63 564.47,167.63 563.91,167.63 C563.36,167.63 563.24,167.88 562.25,167.62Z" stroke-dasharray="3.7,1.85"/>
<path d="M564.5,163.25 C563.57,163.01 561.82,162.29 560.47,161.81 C559.13,161.33 557.76,160.88 556.45,160.37 C555.13,159.85 553.85,159.29 552.58,158.72 C551.31,158.15 549.63,157.83 548.82,156.93 C548.01,156.04 547.88,154.66 547.72,153.35 C547.55,152.04 547.8,150.5 547.84,149.07 C547.89,147.65 547.93,146.22 547.97,144.8 C548.02,143.37 548.06,141.95 548.1,140.52 C548.14,139.1 548.19,137.67 548.23,136.25 C548.27,134.82 548.31,133.4 548.36,131.97 C548.4,130.55 548.45,129.13 548.51,127.7 C548.56,126.28 548.63,124.85 548.69,123.43 C548.75,122.01 548.81,120.58 548.88,119.16 C548.94,117.74 549,116.31 549.07,114.89 C549.13,113.47 549.19,112.04 549.26,110.62 C549.32,109.2 549.38,107.77 549.45,106.35 C549.51,104.93 549.57,103.5 549.63,102.08 C549.69,100.66 549.75,99.23 549.81,97.81 C549.88,96.39 549.94,94.96 550.03,93.54 C550.12,92.12 550.26,90.7 550.37,89.28 C550.49,87.86 550.6,86.44 550.72,85.01 C550.83,83.59 550.95,82.17 551.06,80.75 C551.17,79.33 551.28,77.91 551.4,76.49 C551.53,75.07 551.65,73.65 551.8,72.23 C551.95,70.82 552.13,69.4 552.29,67.99 C552.46,66.57 552.62,65.16 552.78,63.74 C552.95,62.33 553.05,60.89 553.28,59.5 C553.51,58.11 553.63,56.68 554.15,55.4 C554.68,54.11 555.78,52.49 556.42,51.77 C557.07,51.06 557.49,51.32 558.02,51.1 C558.56,50.87 559.09,50.65 559.62,50.42 C560.16,50.19 560.68,49.91 561.22,49.74 C561.77,49.58 562.36,49.53 562.92,49.43 C563.49,49.33 564.06,49.23 564.63,49.14 C565.2,49.04 565.77,48.94 566.34,48.84 C566.91,48.75 567.47,48.65 568.04,48.55 C568.61,48.46 569.18,48.35 569.75,48.26 C570.32,48.18 570.89,48.12 571.46,48.06 C572.04,48 572.61,47.96 573.19,47.92 C573.76,47.87 574.33,47.81 574.91,47.77 C575.48,47.73 576.06,47.72 576.64,47.7 C577.22,47.67 577.8,47.65 578.38,47.62 C578.96,47.6 579.53,47.57 580.11,47.55 C580.69,47.53 581.27,47.51 581.85,47.5 C582.43,47.48 583.01,47.47 583.59,47.45 C584.17,47.44 584.74,47.42 585.32,47.41 C585.9,47.39 586.48,47.38 587.06,47.36 C587.64,47.35 588.22,47.33 588.8,47.32 C589.38,47.3 589.96,47.27 590.54,47.27 C591.11,47.28 591.69,47.31 592.27,47.33 C592.85,47.36 593.43,47.37 594.01,47.41 C594.58,47.45 595.15,47.51 595.72,47.56 C596.3,47.61 596.87,47.66 597.44,47.71 C598.01,47.76 598.58,47.81 599.15,47.86 C599.73,47.91 600.32,47.88 600.87,48.01 C601.42,48.13 601.94,48.39 602.47,48.62 C603,48.84 603.51,49.12 604.04,49.37 C604.56,49.62 604.99,49.45 605.6,50.12 C606.21,50.8 607.14,52.27 607.67,53.41 C608.2,54.56 608.58,55.76 608.79,57 C609,58.25 608.88,59.59 608.92,60.89 C608.97,62.19 609.01,63.48 609.06,64.78 C609.1,66.07 609.15,67.37 609.19,68.67 C609.24,69.96 609.28,71.26 609.33,72.56 C609.38,73.85 609.45,75.15 609.52,76.44 C609.58,77.74 609.64,79.03 609.7,80.33 C609.76,81.62 609.82,82.92 609.89,84.21 C609.95,85.51 610.01,86.81 610.07,88.1 C610.13,89.4 610.2,90.69 610.26,91.99 C610.32,93.28 610.38,94.58 610.44,95.87 C610.5,97.17 610.57,98.46 610.63,99.76 C610.69,101.06 610.75,102.35 610.81,103.65 C610.87,104.94 610.94,106.24 611,107.53 C611.06,108.83 611.12,110.12 611.18,111.42 C611.25,112.71 611.29,114.01 611.37,115.31 C611.45,116.6 611.56,117.89 611.66,119.18 C611.76,120.48 611.87,121.77 611.97,123.06 C612.07,124.35 612.17,125.65 612.28,126.94 C612.38,128.23 612.49,129.52 612.58,130.82 C612.67,132.11 612.77,133.4 612.84,134.7 C612.91,135.99 612.95,137.29 613,138.58 C613.05,139.88 613.12,141.18 613.16,142.47 C613.2,143.77 613.32,145.06 613.24,146.35 C613.16,147.64 612.89,148.92 612.7,150.2 C612.51,151.48 612.49,152.86 612.11,154.05 C611.73,155.24 611.12,156.31 610.43,157.34 C609.75,158.37 608.65,159.71 608,160.25 C607.35,160.79 607.04,160.49 606.56,160.61 C606.08,160.73 605.6,160.85 605.12,160.97 C604.64,161.09 604.16,161.21 603.67,161.33 C603.19,161.45 602.71,161.57 602.23,161.69 C601.75,161.81 601.27,161.93 600.79,162.05 C600.31,162.17 599.83,162.3 599.35,162.41 C598.87,162.52 598.39,162.65 597.9,162.72 C597.42,162.8 596.93,162.81 596.44,162.86 C595.96,162.91 595.48,162.97 594.98,163 C594.49,163.03 593.97,163.03 593.46,163.04 C592.96,163.06 592.45,163.07 591.94,163.09 C591.43,163.1 590.93,163.11 590.42,163.13 C589.91,163.14 589.41,163.16 588.9,163.17 C588.39,163.19 587.88,163.2 587.38,163.21 C586.87,163.23 586.36,163.24 585.86,163.26 C585.35,163.27 584.84,163.29 584.33,163.3 C583.83,163.32 583.32,163.33 582.81,163.34 C582.31,163.36 581.8,163.37 581.29,163.37 C580.78,163.37 580.27,163.36 579.76,163.36 C579.25,163.36 578.75,163.35 578.24,163.35 C577.73,163.35 577.22,163.34 576.71,163.34 C576.2,163.33 575.69,163.33 575.18,163.33 C574.68,163.32 574.17,163.32 573.66,163.32 C573.15,163.31 572.64,163.31 572.13,163.31 C571.62,163.3 571.11,163.3 570.61,163.29 C570.1,163.29 569.59,163.29 569.08,163.28 C568.57,163.28 568.06,163.28 567.55,163.27 C567.04,163.27 566.54,163.26 566.03,163.26 C565.52,163.26 565.43,163.49 564.5,163.25Z" stroke-dasharray="3.7,1.85"/>
<path d="M566.75,158.88 C565.89,158.65 564.24,157.98 562.98,157.53 C561.72,157.09 560.43,156.69 559.21,156.19 C557.99,155.7 556.83,155.13 555.68,154.55 C554.53,153.96 553.06,153.56 552.31,152.69 C551.56,151.82 551.35,150.55 551.18,149.33 C551.02,148.1 551.27,146.66 551.32,145.33 C551.37,143.99 551.41,142.66 551.46,141.33 C551.5,140 551.55,138.66 551.59,137.33 C551.64,136 551.69,134.66 551.73,133.33 C551.78,132 551.82,130.66 551.87,129.33 C551.92,128 551.98,126.67 552.04,125.34 C552.1,124.01 552.18,122.68 552.25,121.34 C552.32,120.01 552.39,118.68 552.46,117.35 C552.53,116.02 552.61,114.69 552.68,113.36 C552.75,112.03 552.82,110.7 552.89,109.37 C552.97,108.04 553.04,106.71 553.11,105.38 C553.18,104.05 553.25,102.71 553.32,101.38 C553.39,100.05 553.45,98.72 553.53,97.39 C553.6,96.06 553.66,94.73 553.76,93.4 C553.86,92.07 553.99,90.74 554.1,89.41 C554.21,88.08 554.33,86.75 554.44,85.43 C554.55,84.1 554.67,82.77 554.78,81.44 C554.89,80.11 554.99,78.78 555.12,77.45 C555.25,76.13 555.39,74.8 555.54,73.48 C555.69,72.15 555.87,70.83 556.04,69.51 C556.2,68.19 556.37,66.87 556.53,65.54 C556.7,64.22 556.79,62.87 557.03,61.58 C557.28,60.29 557.48,58.99 558,57.8 C558.52,56.6 559.54,55.08 560.14,54.41 C560.73,53.75 561.08,54.01 561.56,53.8 C562.03,53.6 562.51,53.4 562.98,53.2 C563.45,52.99 563.91,52.74 564.4,52.59 C564.89,52.43 565.4,52.38 565.9,52.28 C566.41,52.18 566.91,52.09 567.41,51.99 C567.92,51.9 568.42,51.8 568.92,51.71 C569.43,51.61 569.93,51.52 570.43,51.42 C570.94,51.33 571.44,51.22 571.94,51.14 C572.45,51.05 572.95,50.99 573.46,50.92 C573.97,50.86 574.47,50.81 574.98,50.76 C575.49,50.7 575.99,50.63 576.5,50.59 C577.01,50.56 577.53,50.55 578.05,50.53 C578.56,50.51 579.08,50.49 579.59,50.47 C580.11,50.45 580.62,50.43 581.14,50.42 C581.65,50.4 582.17,50.39 582.68,50.38 C583.2,50.37 583.71,50.35 584.23,50.34 C584.74,50.33 585.26,50.32 585.77,50.31 C586.29,50.3 586.8,50.29 587.32,50.27 C587.83,50.26 588.35,50.25 588.86,50.24 C589.38,50.23 589.89,50.2 590.41,50.2 C590.93,50.21 591.44,50.24 591.95,50.26 C592.47,50.28 592.99,50.29 593.5,50.33 C594.01,50.37 594.51,50.44 595.02,50.49 C595.52,50.55 596.02,50.61 596.53,50.67 C597.03,50.73 597.54,50.79 598.04,50.84 C598.55,50.9 599.07,50.9 599.56,51.02 C600.04,51.14 600.51,51.37 600.97,51.58 C601.44,51.79 601.9,52.03 602.36,52.26 C602.82,52.48 603.21,52.31 603.75,52.94 C604.29,53.56 605.13,54.95 605.62,56.02 C606.11,57.09 606.49,58.19 606.69,59.35 C606.89,60.51 606.77,61.76 606.82,62.96 C606.86,64.17 606.9,65.37 606.94,66.57 C606.98,67.78 607.02,68.98 607.07,70.18 C607.11,71.39 607.14,72.59 607.19,73.79 C607.24,75 607.3,76.2 607.36,77.4 C607.41,78.61 607.47,79.81 607.53,81.01 C607.58,82.21 607.64,83.42 607.69,84.62 C607.75,85.82 607.8,87.03 607.86,88.23 C607.91,89.43 607.97,90.64 608.03,91.84 C608.08,93.04 608.14,94.24 608.19,95.45 C608.25,96.65 608.3,97.85 608.36,99.06 C608.41,100.26 608.47,101.46 608.52,102.67 C608.58,103.87 608.64,105.07 608.69,106.27 C608.75,107.48 608.8,108.68 608.86,109.88 C608.91,111.09 608.95,112.29 609.02,113.49 C609.1,114.69 609.19,115.89 609.28,117.1 C609.37,118.3 609.46,119.5 609.54,120.7 C609.63,121.9 609.72,123.1 609.8,124.3 C609.89,125.5 609.98,126.7 610.06,127.9 C610.14,129.1 610.22,130.3 610.28,131.5 C610.34,132.71 610.37,133.91 610.41,135.11 C610.46,136.32 610.52,137.52 610.55,138.72 C610.58,139.93 610.65,141.13 610.57,142.33 C610.49,143.52 610.24,144.71 610.06,145.9 C609.89,147.09 609.86,148.36 609.53,149.47 C609.19,150.59 608.67,151.6 608.08,152.58 C607.49,153.57 606.56,154.84 606,155.38 C605.44,155.91 605.15,155.64 604.72,155.77 C604.3,155.9 603.87,156.03 603.45,156.16 C603.02,156.29 602.6,156.42 602.17,156.55 C601.75,156.68 601.32,156.82 600.9,156.95 C600.47,157.08 600.05,157.21 599.62,157.34 C599.2,157.47 598.77,157.61 598.35,157.73 C597.92,157.86 597.5,157.99 597.07,158.08 C596.64,158.17 596.21,158.22 595.78,158.29 C595.35,158.36 594.93,158.45 594.49,158.5 C594.04,158.54 593.57,158.54 593.11,158.56 C592.64,158.59 592.18,158.61 591.72,158.63 C591.26,158.65 590.8,158.67 590.34,158.69 C589.88,158.71 589.42,158.74 588.96,158.76 C588.5,158.78 588.04,158.8 587.57,158.82 C587.11,158.84 586.65,158.87 586.19,158.89 C585.73,158.91 585.27,158.93 584.81,158.95 C584.35,158.97 583.89,159 583.43,159.02 C582.97,159.03 582.5,159.05 582.04,159.06 C581.58,159.06 581.12,159.05 580.65,159.04 C580.19,159.04 579.72,159.03 579.26,159.02 C578.8,159.02 578.33,159.01 577.87,159.01 C577.41,159 576.94,159 576.48,158.99 C576.02,158.99 575.55,158.98 575.09,158.97 C574.63,158.97 574.16,158.96 573.7,158.96 C573.24,158.95 572.77,158.95 572.31,158.94 C571.85,158.94 571.38,158.93 570.92,158.92 C570.46,158.92 569.99,158.91 569.53,158.91 C569.07,158.9 568.6,158.9 568.14,158.89 C567.68,158.89 567.61,159.1 566.75,158.88Z" stroke-dasharray="3.7,1.85"/>
<path d="M569,154.5 C568.21,154.29 566.66,153.67 565.49,153.26 C564.31,152.85 563.09,152.5 561.97,152.02 C560.85,151.54 559.8,150.97 558.78,150.38 C557.75,149.78 556.49,149.29 555.8,148.45 C555.11,147.6 554.82,146.45 554.65,145.3 C554.48,144.16 554.75,142.82 554.8,141.58 C554.84,140.34 554.89,139.1 554.94,137.86 C554.99,136.62 555.04,135.38 555.09,134.14 C555.14,132.9 555.18,131.65 555.23,130.41 C555.28,129.17 555.32,127.93 555.38,126.69 C555.43,125.45 555.5,124.21 555.57,122.97 C555.64,121.73 555.73,120.5 555.81,119.26 C555.89,118.02 555.97,116.78 556.05,115.54 C556.13,114.31 556.21,113.07 556.29,111.83 C556.37,110.59 556.45,109.35 556.53,108.12 C556.61,106.88 556.7,105.64 556.77,104.4 C556.85,103.16 556.93,101.93 557.01,100.69 C557.08,99.45 557.16,98.21 557.24,96.97 C557.32,95.73 557.39,94.49 557.49,93.26 C557.59,92.02 557.71,90.78 557.83,89.55 C557.94,88.31 558.05,87.07 558.16,85.84 C558.28,84.6 558.39,83.36 558.5,82.13 C558.61,80.89 558.71,79.65 558.84,78.42 C558.97,77.18 559.12,75.95 559.28,74.72 C559.44,73.49 559.61,72.26 559.78,71.03 C559.95,69.8 560.11,68.58 560.28,67.35 C560.45,66.12 560.53,64.85 560.79,63.66 C561.05,62.47 561.34,61.3 561.85,60.2 C562.36,59.09 563.31,57.66 563.85,57.05 C564.39,56.44 564.68,56.69 565.09,56.51 C565.51,56.33 565.92,56.15 566.33,55.97 C566.75,55.79 567.15,55.57 567.58,55.43 C568,55.29 568.45,55.23 568.88,55.13 C569.32,55.04 569.76,54.95 570.2,54.85 C570.64,54.76 571.07,54.66 571.51,54.57 C571.95,54.48 572.39,54.38 572.82,54.29 C573.26,54.19 573.7,54.09 574.14,54.01 C574.58,53.92 575.02,53.85 575.46,53.78 C575.9,53.72 576.34,53.66 576.78,53.6 C577.22,53.54 577.65,53.45 578.1,53.42 C578.55,53.38 579,53.38 579.45,53.37 C579.9,53.35 580.36,53.34 580.81,53.33 C581.26,53.31 581.71,53.29 582.16,53.28 C582.61,53.27 583.06,53.26 583.51,53.26 C583.97,53.25 584.42,53.24 584.87,53.23 C585.32,53.22 585.77,53.22 586.22,53.21 C586.67,53.2 587.13,53.19 587.58,53.18 C588.03,53.18 588.48,53.17 588.93,53.16 C589.38,53.15 589.83,53.13 590.29,53.14 C590.74,53.14 591.19,53.16 591.64,53.18 C592.09,53.2 592.55,53.2 592.99,53.24 C593.44,53.28 593.87,53.37 594.31,53.43 C594.74,53.5 595.18,53.57 595.62,53.63 C596.06,53.7 596.49,53.77 596.93,53.83 C597.37,53.9 597.82,53.92 598.24,54.03 C598.67,54.15 599.07,54.36 599.48,54.54 C599.88,54.73 600.28,54.94 600.69,55.15 C601.09,55.35 601.42,55.17 601.9,55.75 C602.38,56.33 603.12,57.63 603.57,58.62 C604.02,59.61 604.4,60.63 604.59,61.7 C604.78,62.77 604.67,63.92 604.71,65.03 C604.75,66.14 604.78,67.26 604.82,68.37 C604.86,69.48 604.9,70.59 604.94,71.7 C604.98,72.81 605.01,73.92 605.05,75.03 C605.1,76.14 605.15,77.25 605.2,78.36 C605.25,79.47 605.3,80.59 605.35,81.7 C605.4,82.81 605.45,83.92 605.5,85.03 C605.55,86.14 605.6,87.25 605.64,88.36 C605.69,89.47 605.74,90.58 605.79,91.69 C605.84,92.8 605.89,93.91 605.94,95.02 C605.99,96.13 606.04,97.24 606.09,98.35 C606.14,99.46 606.19,100.57 606.24,101.68 C606.29,102.8 606.34,103.91 606.38,105.02 C606.43,106.13 606.48,107.24 606.53,108.35 C606.58,109.46 606.62,110.57 606.68,111.68 C606.74,112.79 606.83,113.9 606.9,115.01 C606.97,116.11 607.05,117.22 607.12,118.33 C607.19,119.44 607.26,120.55 607.33,121.66 C607.4,122.77 607.47,123.87 607.54,124.98 C607.6,126.09 607.67,127.2 607.71,128.31 C607.76,129.42 607.79,130.53 607.83,131.64 C607.86,132.75 607.93,133.87 607.94,134.98 C607.95,136.09 607.98,137.19 607.89,138.3 C607.81,139.4 607.59,140.5 607.43,141.6 C607.27,142.7 607.23,143.86 606.94,144.9 C606.66,145.93 606.21,146.89 605.72,147.83 C605.23,148.76 604.47,149.98 604,150.5 C603.53,151.02 603.26,150.78 602.89,150.93 C602.52,151.07 602.15,151.21 601.78,151.35 C601.41,151.49 601.04,151.63 600.67,151.78 C600.3,151.92 599.93,152.06 599.56,152.2 C599.19,152.34 598.82,152.48 598.45,152.63 C598.08,152.77 597.72,152.92 597.35,153.05 C596.98,153.19 596.61,153.33 596.23,153.44 C595.86,153.55 595.49,153.63 595.11,153.72 C594.74,153.81 594.38,153.94 593.99,154 C593.6,154.06 593.16,154.06 592.75,154.09 C592.33,154.11 591.92,154.14 591.5,154.17 C591.09,154.2 590.68,154.23 590.26,154.26 C589.85,154.29 589.43,154.31 589.02,154.34 C588.6,154.37 588.19,154.4 587.77,154.43 C587.36,154.46 586.94,154.49 586.53,154.52 C586.11,154.54 585.7,154.57 585.28,154.6 C584.87,154.63 584.46,154.66 584.04,154.69 C583.63,154.71 583.21,154.74 582.79,154.74 C582.38,154.75 581.96,154.73 581.54,154.72 C581.12,154.71 580.7,154.71 580.29,154.7 C579.87,154.69 579.45,154.68 579.03,154.68 C578.61,154.67 578.2,154.66 577.78,154.66 C577.36,154.65 576.94,154.64 576.52,154.63 C576.11,154.63 575.69,154.62 575.27,154.61 C574.85,154.6 574.43,154.6 574.02,154.59 C573.6,154.58 573.18,154.57 572.76,154.57 C572.34,154.56 571.93,154.55 571.51,154.54 C571.09,154.54 570.67,154.53 570.25,154.52 C569.84,154.51 569.79,154.71 569,154.5Z" stroke-dasharray="3.7,1.85"/>
<path d="M571.25,150.12 C570.52,149.93 569.08,149.37 567.99,148.99 C566.91,148.61 565.75,148.32 564.73,147.85 C563.71,147.39 562.78,146.81 561.87,146.21 C560.97,145.6 559.92,145.02 559.29,144.2 C558.66,143.38 558.29,142.34 558.12,141.28 C557.95,140.22 558.22,138.99 558.27,137.84 C558.32,136.69 558.38,135.54 558.43,134.39 C558.48,133.24 558.53,132.09 558.58,130.94 C558.63,129.79 558.68,128.64 558.74,127.5 C558.79,126.35 558.83,125.2 558.89,124.05 C558.95,122.9 559.02,121.75 559.1,120.61 C559.18,119.46 559.28,118.32 559.37,117.17 C559.45,116.03 559.54,114.88 559.63,113.74 C559.72,112.59 559.81,111.45 559.9,110.3 C559.99,109.15 560.08,108.01 560.17,106.86 C560.26,105.72 560.35,104.57 560.44,103.43 C560.53,102.28 560.61,101.14 560.7,99.99 C560.78,98.84 560.86,97.7 560.95,96.55 C561.04,95.41 561.12,94.26 561.22,93.11 C561.32,91.97 561.44,90.83 561.55,89.68 C561.66,88.54 561.78,87.39 561.89,86.25 C562,85.1 562.11,83.96 562.22,82.81 C562.33,81.67 562.42,80.52 562.55,79.38 C562.69,78.24 562.85,77.1 563.02,75.97 C563.18,74.83 563.35,73.69 563.52,72.56 C563.69,71.42 563.86,70.28 564.03,69.15 C564.2,68.01 564.27,66.83 564.54,65.74 C564.82,64.65 565.2,63.6 565.7,62.59 C566.21,61.59 567.08,60.25 567.56,59.69 C568.05,59.12 568.27,59.37 568.63,59.22 C568.98,59.06 569.33,58.9 569.69,58.75 C570.04,58.59 570.39,58.4 570.75,58.28 C571.11,58.15 571.49,58.08 571.87,57.99 C572.24,57.89 572.61,57.8 572.98,57.71 C573.35,57.62 573.73,57.53 574.1,57.43 C574.47,57.34 574.84,57.25 575.21,57.16 C575.59,57.06 575.96,56.96 576.33,56.88 C576.7,56.79 577.08,56.72 577.45,56.65 C577.83,56.57 578.2,56.51 578.57,56.44 C578.95,56.37 579.32,56.28 579.7,56.24 C580.08,56.2 580.47,56.22 580.86,56.21 C581.25,56.2 581.63,56.19 582.02,56.18 C582.41,56.17 582.8,56.16 583.18,56.15 C583.57,56.14 583.96,56.14 584.35,56.14 C584.73,56.13 585.12,56.13 585.51,56.12 C585.9,56.12 586.28,56.11 586.67,56.11 C587.06,56.1 587.45,56.1 587.83,56.09 C588.22,56.09 588.61,56.09 589,56.08 C589.38,56.08 589.77,56.06 590.16,56.07 C590.55,56.07 590.93,56.09 591.32,56.11 C591.71,56.12 592.11,56.11 592.48,56.16 C592.86,56.2 593.23,56.3 593.6,56.37 C593.97,56.44 594.34,56.52 594.71,56.6 C595.08,56.67 595.45,56.75 595.82,56.82 C596.19,56.9 596.57,56.93 596.93,57.05 C597.29,57.16 597.63,57.34 597.98,57.51 C598.33,57.67 598.67,57.86 599.02,58.03 C599.36,58.21 599.63,58.03 600.05,58.56 C600.47,59.09 601.11,60.31 601.52,61.23 C601.93,62.14 602.32,63.07 602.5,64.05 C602.68,65.03 602.57,66.09 602.6,67.11 C602.64,68.12 602.67,69.14 602.7,70.16 C602.74,71.18 602.77,72.2 602.81,73.22 C602.84,74.23 602.87,75.25 602.91,76.27 C602.95,77.29 603,78.31 603.04,79.33 C603.09,80.34 603.13,81.36 603.17,82.38 C603.22,83.4 603.26,84.42 603.3,85.43 C603.35,86.45 603.39,87.47 603.43,88.49 C603.47,89.51 603.52,90.52 603.56,91.54 C603.6,92.56 603.65,93.58 603.69,94.6 C603.73,95.61 603.78,96.63 603.82,97.65 C603.86,98.67 603.91,99.69 603.95,100.7 C603.99,101.72 604.04,102.74 604.08,103.76 C604.12,104.78 604.16,105.79 604.21,106.81 C604.25,107.83 604.28,108.85 604.34,109.87 C604.39,110.88 604.46,111.9 604.52,112.92 C604.58,113.93 604.64,114.95 604.69,115.97 C604.75,116.98 604.8,118 604.85,119.02 C604.91,120.03 604.96,121.05 605.01,122.07 C605.06,123.08 605.11,124.1 605.15,125.12 C605.19,126.14 605.21,127.16 605.24,128.17 C605.27,129.19 605.33,130.21 605.33,131.23 C605.33,132.25 605.31,133.26 605.22,134.27 C605.13,135.28 604.94,136.29 604.8,137.3 C604.65,138.31 604.59,139.36 604.36,140.32 C604.12,141.28 603.76,142.19 603.37,143.07 C602.97,143.95 602.38,145.12 602,145.62 C601.62,146.13 601.37,145.93 601.06,146.08 C600.74,146.24 600.43,146.39 600.11,146.54 C599.8,146.69 599.49,146.85 599.17,147 C598.86,147.15 598.54,147.3 598.23,147.46 C597.91,147.61 597.6,147.76 597.29,147.91 C596.97,148.07 596.66,148.22 596.34,148.37 C596.03,148.52 595.71,148.67 595.4,148.8 C595.08,148.93 594.76,149.03 594.45,149.15 C594.13,149.26 593.84,149.42 593.49,149.5 C593.15,149.57 592.76,149.57 592.39,149.61 C592.02,149.64 591.65,149.68 591.29,149.71 C590.92,149.75 590.55,149.79 590.18,149.82 C589.81,149.86 589.44,149.89 589.08,149.93 C588.71,149.97 588.34,150 587.97,150.04 C587.6,150.07 587.23,150.11 586.86,150.14 C586.5,150.18 586.13,150.22 585.76,150.25 C585.39,150.29 585.02,150.33 584.65,150.36 C584.28,150.39 583.92,150.42 583.55,150.43 C583.17,150.44 582.8,150.41 582.43,150.4 C582.05,150.39 581.68,150.38 581.31,150.37 C580.94,150.37 580.56,150.36 580.19,150.35 C579.82,150.34 579.45,150.33 579.07,150.32 C578.7,150.31 578.33,150.3 577.96,150.29 C577.58,150.28 577.21,150.27 576.84,150.26 C576.47,150.25 576.09,150.25 575.72,150.24 C575.35,150.23 574.98,150.22 574.6,150.21 C574.23,150.2 573.86,150.19 573.49,150.18 C573.11,150.17 572.74,150.16 572.37,150.15 C572,150.14 571.98,150.32 571.25,150.12Z" stroke-dasharray="3.7,1.85"/>
<path d="M573.5,145.75 C572.84,145.57 571.5,145.06 570.5,144.72 C569.5,144.37 568.42,144.13 567.5,143.68 C566.57,143.23 565.76,142.65 564.97,142.03 C564.19,141.41 563.34,140.76 562.78,139.96 C562.22,139.17 561.76,138.24 561.59,137.26 C561.41,136.28 561.69,135.15 561.75,134.09 C561.8,133.03 561.86,131.98 561.91,130.92 C561.97,129.86 562.02,128.81 562.07,127.75 C562.13,126.69 562.18,125.64 562.24,124.58 C562.29,123.52 562.33,122.46 562.4,121.41 C562.47,120.35 562.55,119.3 562.63,118.24 C562.72,117.19 562.83,116.14 562.93,115.09 C563.02,114.03 563.12,112.98 563.22,111.93 C563.32,110.87 563.42,109.82 563.51,108.77 C563.61,107.72 563.71,106.66 563.81,105.61 C563.91,104.56 564.01,103.51 564.1,102.45 C564.2,101.4 564.29,100.35 564.38,99.29 C564.48,98.24 564.57,97.19 564.66,96.13 C564.76,95.08 564.85,94.03 564.95,92.97 C565.05,91.92 565.17,90.87 565.28,89.82 C565.39,88.76 565.5,87.71 565.61,86.66 C565.72,85.61 565.83,84.55 565.94,83.5 C566.05,82.45 566.14,81.39 566.27,80.34 C566.41,79.29 566.59,78.25 566.75,77.21 C566.92,76.17 567.1,75.12 567.27,74.08 C567.44,73.04 567.61,71.99 567.78,70.95 C567.95,69.91 568,68.81 568.3,67.82 C568.6,66.83 569.06,65.91 569.55,64.99 C570.05,64.08 570.84,62.84 571.28,62.32 C571.71,61.81 571.86,62.06 572.16,61.92 C572.45,61.79 572.75,61.66 573.04,61.52 C573.34,61.39 573.63,61.23 573.93,61.12 C574.23,61.01 574.54,60.93 574.85,60.84 C575.15,60.75 575.46,60.66 575.77,60.57 C576.07,60.48 576.38,60.39 576.68,60.3 C576.99,60.2 577.3,60.11 577.6,60.02 C577.91,59.93 578.22,59.84 578.52,59.75 C578.83,59.66 579.14,59.59 579.45,59.51 C579.75,59.43 580.06,59.36 580.37,59.28 C580.68,59.21 580.98,59.1 581.3,59.06 C581.61,59.02 581.94,59.05 582.27,59.04 C582.59,59.04 582.91,59.04 583.24,59.03 C583.56,59.03 583.88,59.02 584.21,59.02 C584.53,59.02 584.86,59.02 585.18,59.01 C585.5,59.01 585.83,59.01 586.15,59.01 C586.47,59.01 586.8,59.01 587.12,59.01 C587.44,59.01 587.77,59.01 588.09,59.01 C588.42,59 588.74,59 589.06,59 C589.39,59 589.71,58.99 590.03,59 C590.36,59 590.68,59.02 591.01,59.03 C591.33,59.04 591.66,59.02 591.98,59.07 C592.29,59.12 592.59,59.23 592.89,59.31 C593.19,59.39 593.49,59.48 593.8,59.56 C594.1,59.64 594.4,59.73 594.71,59.81 C595.01,59.89 595.32,59.95 595.61,60.06 C595.91,60.17 596.2,60.33 596.48,60.47 C596.77,60.61 597.06,60.77 597.34,60.92 C597.63,61.07 597.85,60.89 598.2,61.38 C598.55,61.86 599.1,63 599.47,63.83 C599.84,64.67 600.23,65.51 600.4,66.4 C600.57,67.29 600.46,68.25 600.49,69.18 C600.52,70.1 600.56,71.03 600.59,71.96 C600.62,72.88 600.65,73.81 600.68,74.73 C600.71,75.66 600.74,76.58 600.78,77.51 C600.81,78.44 600.85,79.36 600.89,80.29 C600.92,81.21 600.96,82.14 601,83.06 C601.03,83.99 601.07,84.91 601.11,85.84 C601.14,86.77 601.18,87.69 601.22,88.62 C601.25,89.54 601.29,90.47 601.33,91.39 C601.37,92.32 601.4,93.24 601.44,94.17 C601.48,95.1 601.51,96.02 601.55,96.95 C601.59,97.87 601.62,98.8 601.66,99.72 C601.7,100.65 601.73,101.57 601.77,102.5 C601.81,103.43 601.85,104.35 601.88,105.28 C601.92,106.2 601.95,107.13 601.99,108.05 C602.04,108.98 602.09,109.9 602.14,110.83 C602.18,111.75 602.23,112.68 602.26,113.6 C602.3,114.53 602.34,115.45 602.38,116.38 C602.42,117.3 602.46,118.23 602.49,119.15 C602.53,120.08 602.56,121 602.59,121.93 C602.62,122.85 602.63,123.78 602.65,124.7 C602.68,125.63 602.74,126.56 602.72,127.48 C602.7,128.4 602.64,129.32 602.55,130.24 C602.46,131.16 602.3,132.08 602.17,133 C602.04,133.91 601.96,134.86 601.77,135.75 C601.58,136.63 601.31,137.48 601.01,138.31 C600.72,139.15 600.3,140.26 600,140.75 C599.7,141.24 599.48,141.08 599.22,141.24 C598.96,141.4 598.71,141.57 598.45,141.73 C598.19,141.89 597.93,142.06 597.67,142.22 C597.41,142.38 597.15,142.55 596.89,142.71 C596.64,142.87 596.38,143.04 596.12,143.2 C595.86,143.36 595.6,143.53 595.34,143.69 C595.08,143.85 594.82,144.01 594.56,144.16 C594.3,144.31 594.04,144.44 593.78,144.58 C593.52,144.72 593.29,144.9 593,144.99 C592.71,145.09 592.36,145.08 592.03,145.13 C591.71,145.17 591.39,145.21 591.07,145.26 C590.75,145.3 590.42,145.34 590.1,145.39 C589.78,145.43 589.46,145.47 589.13,145.52 C588.81,145.56 588.49,145.6 588.17,145.64 C587.85,145.69 587.52,145.73 587.2,145.77 C586.88,145.82 586.56,145.86 586.23,145.9 C585.91,145.95 585.59,146 585.27,146.03 C584.94,146.07 584.62,146.11 584.3,146.12 C583.97,146.12 583.64,146.09 583.32,146.08 C582.99,146.07 582.66,146.06 582.33,146.05 C582.01,146.04 581.68,146.03 581.35,146.02 C581.02,146 580.7,145.99 580.37,145.98 C580.04,145.97 579.72,145.96 579.39,145.95 C579.06,145.94 578.73,145.93 578.41,145.92 C578.08,145.91 577.75,145.89 577.43,145.88 C577.1,145.87 576.77,145.86 576.44,145.85 C576.12,145.84 575.79,145.83 575.46,145.82 C575.14,145.81 574.81,145.79 574.48,145.78 C574.15,145.77 574.16,145.93 573.5,145.75Z" stroke-dasharray="3.7,1.85"/>
<path d="M575.75,141.38 C575.15,141.21 573.92,140.75 573,140.44 C572.09,140.13 571.08,139.94 570.26,139.51 C569.43,139.08 568.73,138.49 568.07,137.86 C567.4,137.23 566.77,136.49 566.27,135.72 C565.77,134.95 565.23,134.14 565.05,133.24 C564.88,132.34 565.17,131.31 565.22,130.35 C565.28,129.38 565.34,128.42 565.4,127.45 C565.45,126.49 565.51,125.52 565.57,124.56 C565.63,123.59 565.68,122.63 565.74,121.66 C565.8,120.7 565.84,119.73 565.91,118.77 C565.98,117.8 566.07,116.84 566.17,115.88 C566.26,114.92 566.38,113.96 566.49,113 C566.59,112.04 566.7,111.08 566.81,110.12 C566.91,109.16 567.02,108.2 567.13,107.24 C567.23,106.28 567.34,105.32 567.45,104.36 C567.55,103.4 567.66,102.44 567.77,101.48 C567.87,100.52 567.97,99.56 568.07,98.6 C568.17,97.64 568.27,96.67 568.37,95.71 C568.47,94.75 568.57,93.79 568.68,92.83 C568.78,91.87 568.9,90.91 569.01,89.95 C569.11,88.99 569.22,88.03 569.33,87.07 C569.44,86.11 569.55,85.15 569.66,84.19 C569.77,83.23 569.85,82.26 569.99,81.31 C570.13,80.35 570.32,79.4 570.49,78.45 C570.66,77.5 570.84,76.55 571.01,75.6 C571.18,74.65 571.36,73.7 571.53,72.75 C571.7,71.8 571.74,70.8 572.06,69.9 C572.37,69.01 572.92,68.22 573.4,67.39 C573.89,66.57 574.61,65.42 574.99,64.96 C575.37,64.5 575.46,64.74 575.69,64.63 C575.93,64.52 576.16,64.41 576.4,64.3 C576.63,64.19 576.87,64.07 577.1,63.97 C577.34,63.86 577.58,63.78 577.83,63.69 C578.07,63.6 578.31,63.52 578.55,63.43 C578.79,63.34 579.03,63.25 579.27,63.16 C579.51,63.07 579.75,62.98 579.99,62.89 C580.24,62.8 580.48,62.71 580.72,62.62 C580.96,62.54 581.2,62.45 581.44,62.37 C581.68,62.29 581.93,62.21 582.17,62.13 C582.41,62.04 582.64,61.92 582.89,61.88 C583.14,61.84 583.41,61.88 583.67,61.88 C583.93,61.88 584.19,61.88 584.45,61.88 C584.71,61.88 584.97,61.88 585.23,61.89 C585.49,61.89 585.75,61.89 586.01,61.89 C586.27,61.9 586.53,61.9 586.79,61.9 C587.05,61.9 587.31,61.91 587.57,61.91 C587.83,61.91 588.09,61.91 588.35,61.92 C588.61,61.92 588.87,61.92 589.13,61.92 C589.39,61.93 589.65,61.93 589.91,61.93 C590.17,61.94 590.43,61.95 590.69,61.96 C590.95,61.96 591.22,61.94 591.47,61.98 C591.72,62.03 591.94,62.16 592.18,62.25 C592.42,62.33 592.65,62.43 592.89,62.52 C593.12,62.61 593.36,62.71 593.59,62.8 C593.83,62.89 594.07,62.97 594.3,63.08 C594.53,63.18 594.76,63.31 594.99,63.43 C595.22,63.55 595.44,63.68 595.67,63.81 C595.9,63.94 596.06,63.75 596.35,64.19 C596.64,64.63 597.09,65.68 597.42,66.44 C597.74,67.2 598.14,67.95 598.3,68.75 C598.46,69.55 598.36,70.42 598.38,71.25 C598.41,72.08 598.44,72.92 598.47,73.75 C598.5,74.58 598.52,75.42 598.55,76.25 C598.58,77.08 598.61,77.92 598.64,78.75 C598.67,79.58 598.7,80.41 598.73,81.25 C598.76,82.08 598.79,82.91 598.82,83.75 C598.85,84.58 598.88,85.41 598.91,86.25 C598.94,87.08 598.97,87.91 599,88.75 C599.04,89.58 599.07,90.41 599.1,91.24 C599.13,92.08 599.16,92.91 599.19,93.74 C599.22,94.58 599.25,95.41 599.28,96.24 C599.31,97.08 599.34,97.91 599.37,98.74 C599.4,99.58 599.43,100.41 599.46,101.24 C599.5,102.07 599.53,102.91 599.56,103.74 C599.59,104.57 599.62,105.41 599.65,106.24 C599.68,107.07 599.73,107.91 599.76,108.74 C599.79,109.57 599.81,110.4 599.84,111.24 C599.86,112.07 599.88,112.9 599.9,113.74 C599.93,114.57 599.95,115.4 599.97,116.23 C599.99,117.07 600.01,117.9 600.03,118.73 C600.04,119.57 600.05,120.4 600.07,121.23 C600.08,122.07 600.14,122.9 600.11,123.73 C600.08,124.56 599.97,125.39 599.87,126.22 C599.78,127.04 599.65,127.87 599.53,128.69 C599.42,129.52 599.33,130.36 599.19,131.17 C599.04,131.98 598.85,132.77 598.66,133.55 C598.46,134.34 598.21,135.4 598,135.88 C597.79,136.35 597.59,136.22 597.39,136.4 C597.19,136.57 596.98,136.75 596.78,136.92 C596.58,137.09 596.37,137.27 596.17,137.44 C595.97,137.62 595.76,137.79 595.56,137.96 C595.36,138.14 595.15,138.31 594.95,138.49 C594.75,138.66 594.54,138.84 594.34,139.01 C594.14,139.18 593.93,139.36 593.73,139.52 C593.52,139.69 593.32,139.85 593.12,140.01 C592.91,140.17 592.74,140.39 592.5,140.49 C592.26,140.6 591.95,140.6 591.68,140.65 C591.4,140.7 591.12,140.75 590.85,140.8 C590.57,140.85 590.3,140.9 590.02,140.95 C589.74,141 589.47,141.05 589.19,141.1 C588.92,141.15 588.64,141.2 588.36,141.25 C588.09,141.3 587.81,141.35 587.54,141.4 C587.26,141.45 586.99,141.5 586.71,141.55 C586.43,141.6 586.16,141.66 585.88,141.7 C585.6,141.75 585.33,141.79 585.05,141.8 C584.77,141.81 584.48,141.78 584.2,141.76 C583.92,141.75 583.64,141.74 583.36,141.72 C583.08,141.71 582.79,141.7 582.51,141.69 C582.23,141.67 581.95,141.66 581.67,141.65 C581.39,141.63 581.1,141.62 580.82,141.61 C580.54,141.59 580.26,141.58 579.98,141.57 C579.69,141.56 579.41,141.54 579.13,141.53 C578.85,141.52 578.57,141.5 578.29,141.49 C578,141.48 577.72,141.47 577.44,141.45 C577.16,141.44 576.88,141.43 576.6,141.41 C576.31,141.4 576.35,141.54 575.75,141.38Z" stroke-dasharray="3.7,1.85"/>
<path d="M578,137 C577.47,136.85 576.34,136.45 575.51,136.17 C574.68,135.89 573.74,135.75 573.02,135.34 C572.3,134.93 571.71,134.34 571.17,133.69 C570.62,133.05 570.2,132.22 569.76,131.48 C569.32,130.73 568.7,130.03 568.52,129.22 C568.34,128.41 568.64,127.47 568.7,126.6 C568.76,125.73 568.82,124.85 568.88,123.98 C568.94,123.11 569,122.24 569.06,121.36 C569.12,120.49 569.18,119.62 569.24,118.74 C569.3,117.87 569.35,117 569.42,116.12 C569.5,115.25 569.59,114.38 569.7,113.51 C569.8,112.65 569.93,111.78 570.04,110.91 C570.16,110.05 570.28,109.18 570.39,108.31 C570.51,107.44 570.62,106.58 570.74,105.71 C570.85,104.84 570.97,103.97 571.09,103.11 C571.2,102.24 571.32,101.37 571.43,100.5 C571.55,99.64 571.65,98.77 571.76,97.9 C571.87,97.03 571.98,96.16 572.08,95.29 C572.19,94.43 572.3,93.56 572.41,92.69 C572.52,91.82 572.62,90.95 572.73,90.08 C572.84,89.22 572.95,88.35 573.06,87.48 C573.16,86.61 573.27,85.74 573.38,84.87 C573.49,84.01 573.56,83.13 573.71,82.27 C573.85,81.41 574.06,80.55 574.23,79.7 C574.41,78.84 574.58,77.98 574.76,77.13 C574.93,76.27 575.1,75.41 575.28,74.55 C575.46,73.7 575.48,72.78 575.81,71.98 C576.14,71.19 576.77,70.52 577.26,69.79 C577.74,69.06 578.37,68.01 578.7,67.6 C579.03,67.19 579.05,67.42 579.23,67.34 C579.4,67.25 579.58,67.16 579.75,67.07 C579.93,66.99 580.1,66.9 580.28,66.81 C580.45,66.72 580.63,66.63 580.81,66.55 C580.98,66.46 581.16,66.37 581.33,66.28 C581.51,66.2 581.68,66.11 581.86,66.02 C582.03,65.93 582.21,65.85 582.39,65.76 C582.56,65.67 582.74,65.58 582.91,65.49 C583.09,65.41 583.26,65.32 583.44,65.23 C583.61,65.14 583.79,65.06 583.96,64.97 C584.14,64.88 584.31,64.75 584.49,64.7 C584.68,64.66 584.88,64.71 585.08,64.72 C585.27,64.72 585.47,64.73 585.67,64.74 C585.86,64.74 586.06,64.75 586.25,64.75 C586.45,64.76 586.65,64.77 586.84,64.77 C587.04,64.78 587.24,64.78 587.43,64.79 C587.63,64.8 587.82,64.8 588.02,64.81 C588.22,64.81 588.41,64.82 588.61,64.83 C588.8,64.83 589,64.84 589.2,64.84 C589.39,64.85 589.59,64.86 589.78,64.86 C589.98,64.87 590.18,64.87 590.37,64.88 C590.57,64.89 590.78,64.85 590.96,64.9 C591.14,64.95 591.3,65.09 591.47,65.18 C591.64,65.28 591.81,65.38 591.98,65.49 C592.14,65.59 592.31,65.69 592.48,65.79 C592.65,65.89 592.82,65.99 592.99,66.09 C593.15,66.19 593.32,66.29 593.49,66.39 C593.66,66.5 593.83,66.6 594,66.7 C594.16,66.8 594.27,66.61 594.5,67 C594.73,67.39 595.09,68.36 595.37,69.05 C595.65,69.73 596.05,70.39 596.2,71.1 C596.35,71.81 596.25,72.58 596.28,73.32 C596.3,74.06 596.33,74.8 596.35,75.54 C596.37,76.28 596.4,77.02 596.42,77.77 C596.45,78.51 596.47,79.25 596.5,79.99 C596.52,80.73 596.55,81.47 596.57,82.21 C596.6,82.95 596.62,83.69 596.64,84.43 C596.67,85.17 596.69,85.91 596.72,86.65 C596.74,87.39 596.77,88.13 596.79,88.87 C596.82,89.62 596.84,90.36 596.86,91.1 C596.89,91.84 596.91,92.58 596.94,93.32 C596.96,94.06 596.99,94.8 597.01,95.54 C597.04,96.28 597.06,97.02 597.08,97.76 C597.11,98.5 597.13,99.24 597.16,99.98 C597.18,100.72 597.21,101.46 597.23,102.21 C597.26,102.95 597.28,103.69 597.31,104.43 C597.33,105.17 597.36,105.91 597.38,106.65 C597.4,107.39 597.4,108.13 597.41,108.87 C597.42,109.61 597.42,110.35 597.43,111.09 C597.44,111.84 597.44,112.58 597.45,113.32 C597.45,114.06 597.46,114.8 597.46,115.54 C597.47,116.28 597.48,117.02 597.48,117.76 C597.49,118.5 597.55,119.25 597.5,119.99 C597.45,120.72 597.3,121.46 597.2,122.19 C597.1,122.92 597,123.66 596.9,124.39 C596.8,125.13 596.7,125.86 596.6,126.59 C596.5,127.33 596.4,128.06 596.3,128.8 C596.2,129.53 596.12,130.54 596,131 C595.88,131.46 595.7,131.37 595.56,131.55 C595.41,131.74 595.26,131.92 595.11,132.11 C594.96,132.29 594.82,132.48 594.67,132.66 C594.52,132.85 594.37,133.03 594.22,133.22 C594.08,133.4 593.93,133.59 593.78,133.77 C593.63,133.96 593.49,134.14 593.34,134.33 C593.19,134.51 593.04,134.7 592.89,134.88 C592.75,135.07 592.6,135.25 592.45,135.44 C592.3,135.62 592.19,135.87 592.01,135.99 C591.82,136.11 591.55,136.11 591.32,136.17 C591.09,136.23 590.86,136.29 590.63,136.34 C590.4,136.4 590.17,136.46 589.94,136.51 C589.71,136.57 589.48,136.63 589.25,136.69 C589.02,136.74 588.79,136.8 588.56,136.86 C588.33,136.92 588.1,136.97 587.87,137.03 C587.64,137.09 587.41,137.15 587.18,137.2 C586.95,137.26 586.73,137.33 586.49,137.38 C586.26,137.42 586.03,137.48 585.8,137.49 C585.57,137.5 585.33,137.46 585.09,137.44 C584.85,137.43 584.62,137.41 584.38,137.4 C584.15,137.38 583.91,137.37 583.67,137.35 C583.44,137.34 583.2,137.32 582.96,137.31 C582.73,137.3 582.49,137.28 582.25,137.27 C582.02,137.25 581.78,137.24 581.55,137.22 C581.31,137.21 581.07,137.19 580.84,137.18 C580.6,137.16 580.36,137.15 580.13,137.13 C579.89,137.12 579.65,137.1 579.42,137.09 C579.18,137.07 578.95,137.06 578.71,137.04 C578.47,137.03 578.53,137.15 578,137Z" stroke-dasharray="3.7,1.85"/>
<path d="M583.5,96 C585.58,94.32 587.05,96.15 588.5,97.2 C589.95,98.25 591.25,99.37 592.2,102.3 C593.15,105.23 594,110.23 594.2,114.8 C594.4,119.37 594.98,126.8 593.4,129.7 C591.82,132.6 588.02,131.78 584.7,132.2 C581.38,132.62 575.57,133.43 573.5,132.2 C571.43,130.97 571.88,128.95 572.3,124.8 C572.72,120.65 574.13,112.1 576,107.3 C577.87,102.5 581.42,97.68 583.5,96Z" stroke-dasharray="3.7,1.85"/>
<path d="M748,28.7 C745.77,28.5 739.33,28.03 734.6,27.5 C729.87,26.97 723.77,26.25 719.6,25.5 C715.43,24.75 714.53,23.45 709.6,23 C704.67,22.55 695.43,22.77 690,22.8 C684.57,22.83 681.22,23.17 677,23.2 C672.78,23.23 668.87,22.87 664.7,23 C660.53,23.13 655.12,23.58 652,24 C648.88,24.42 646.78,25.13 646,25.5 C645.22,25.87 645.83,25.87 647.3,26.2 C648.77,26.53 653.35,26.67 654.8,27.5 C656.25,28.33 656.83,30.17 656,31.2 C655.17,32.23 653.33,32.87 649.8,33.7 C646.27,34.53 638.75,35.15 634.8,36.2 C630.85,37.25 628.38,38.13 626.1,40 C623.82,41.87 622.35,44.5 621.1,47.4 C619.85,50.3 619.13,51.58 618.6,57.4 C618.07,63.22 617.9,71.9 617.9,82.3 C617.9,92.7 618.27,109.4 618.6,119.8 C618.93,130.2 619.68,138.68 619.9,144.7 C620.12,150.72 620.23,153.18 619.9,155.9 C619.57,158.62 618.23,160.15 617.9,161"/>
<path d="M653.5,161 C653.08,156.2 651.83,138.25 651,132.2 C650.17,126.15 649.33,128.85 648.5,124.7 C647.67,120.55 646.83,114.37 646,107.3 C645.17,100.23 644.2,91.45 643.5,82.3 C642.8,73.15 641.8,58.42 641.8,52.4 C641.8,46.38 641.75,47.65 643.5,46.2 C645.25,44.75 647.52,44.25 652.3,43.7 C657.08,43.15 666.8,43.12 672.2,42.9 C677.6,42.68 680.75,42.07 684.7,42.4 C688.65,42.73 693,43.43 695.9,44.9 C698.8,46.37 700.98,49.12 702.1,51.2 C703.22,53.28 702.8,52.22 702.6,57.4 C702.4,62.58 701.38,71.9 700.9,82.3 C700.42,92.7 700.32,106.68 699.7,119.8 C699.08,132.92 697.62,154.13 697.2,161"/>
<path d="M748,58.7 C747.22,59.1 745.33,60.4 743.3,61.1 C741.27,61.8 737.67,62.07 735.8,62.9 C733.93,63.73 733.05,64.1 732.1,66.1 C731.15,68.1 730.52,68.03 730.1,74.9 C729.68,81.77 729.48,95.67 729.6,107.3 C729.72,118.93 730.38,135.75 730.8,144.7 C731.22,153.65 731.88,158.28 732.1,161"/>
<path d="M629.8,132.2 C630.38,131.87 632.37,134.75 633,136 C633.63,137.25 633.77,138.53 633.6,139.7 C633.43,140.87 632.63,142.17 632,143 C631.37,143.83 630.22,145.53 629.8,144.7 C629.38,143.87 629.5,140.08 629.5,138 C629.5,135.92 629.22,132.53 629.8,132.2Z"/>
<path d="M431,23.3 C433.33,23.28 441.5,23.2 445,23.2 C448.5,23.2 450.83,23.28 452,23.3"/>
</g>
<clipPath id="cl1"><rect x="431" y="22.4" width="316.75" height="146.02"/></clipPath>
<g clip-path="url(#cl1)">
<text x="474.4" y="63.6" transform="rotate(-90 474.4 63.6)" font-size="8.8" text-anchor="middle" dominant-baseline="central" stroke="#fff" stroke-width="3.2" stroke-linejoin="round" fill="#fff">0</text>
<text x="474.4" y="63.6" transform="rotate(-90 474.4 63.6)" font-size="8.8" text-anchor="middle" dominant-baseline="central" stroke="#000" stroke-width="0.25" fill="#000">0</text>
<text x="452.7" y="151.4" transform="rotate(0 452.7 151.4)" font-size="8.8" text-anchor="middle" dominant-baseline="central" stroke="#fff" stroke-width="3.2" stroke-linejoin="round" fill="#fff">0</text>
<text x="452.7" y="151.4" transform="rotate(0 452.7 151.4)" font-size="8.8" text-anchor="middle" dominant-baseline="central" stroke="#000" stroke-width="0.25" fill="#000">0</text>
<text x="492.6" y="21.2" transform="rotate(0 492.6 21.2)" font-size="8.8" text-anchor="middle" dominant-baseline="central" stroke="#fff" stroke-width="3.2" stroke-linejoin="round" fill="#fff">0</text>
<text x="492.6" y="21.2" transform="rotate(0 492.6 21.2)" font-size="8.8" text-anchor="middle" dominant-baseline="central" stroke="#000" stroke-width="0.25" fill="#000">0</text>
<text x="514.5" y="131.5" transform="rotate(-60 514.5 131.5)" font-size="8.8" text-anchor="middle" dominant-baseline="central" stroke="#fff" stroke-width="3.2" stroke-linejoin="round" fill="#fff">4</text>
<text x="514.5" y="131.5" transform="rotate(-60 514.5 131.5)" font-size="8.8" text-anchor="middle" dominant-baseline="central" stroke="#000" stroke-width="0.25" fill="#000">4</text>
<text x="548.7" y="88.6" transform="rotate(-80 548.7 88.6)" font-size="8.8" text-anchor="middle" dominant-baseline="central" stroke="#fff" stroke-width="3.2" stroke-linejoin="round" fill="#fff">-4</text>
<text x="548.7" y="88.6" transform="rotate(-80 548.7 88.6)" font-size="8.8" text-anchor="middle" dominant-baseline="central" stroke="#000" stroke-width="0.25" fill="#000">-4</text>
<text x="576.2" y="134.7" transform="rotate(-20 576.2 134.7)" font-size="8.8" text-anchor="middle" dominant-baseline="central" stroke="#fff" stroke-width="3.2" stroke-linejoin="round" fill="#fff">-20</text>
<text x="576.2" y="134.7" transform="rotate(-20 576.2 134.7)" font-size="8.8" text-anchor="middle" dominant-baseline="central" stroke="#000" stroke-width="0.25" fill="#000">-20</text>
<text x="571.2" y="144.7" transform="rotate(-25 571.2 144.7)" font-size="8.8" text-anchor="middle" dominant-baseline="central" stroke="#fff" stroke-width="3.2" stroke-linejoin="round" fill="#fff">-16</text>
<text x="571.2" y="144.7" transform="rotate(-25 571.2 144.7)" font-size="8.8" text-anchor="middle" dominant-baseline="central" stroke="#000" stroke-width="0.25" fill="#000">-16</text>
<text x="594.9" y="149.7" transform="rotate(-10 594.9 149.7)" font-size="8.8" text-anchor="middle" dominant-baseline="central" stroke="#fff" stroke-width="3.2" stroke-linejoin="round" fill="#fff">-20</text>
<text x="594.9" y="149.7" transform="rotate(-10 594.9 149.7)" font-size="8.8" text-anchor="middle" dominant-baseline="central" stroke="#000" stroke-width="0.25" fill="#000">-20</text>
<text x="677.2" y="21.2" transform="rotate(0 677.2 21.2)" font-size="8.8" text-anchor="middle" dominant-baseline="central" stroke="#fff" stroke-width="3.2" stroke-linejoin="round" fill="#fff">0</text>
<text x="677.2" y="21.2" transform="rotate(0 677.2 21.2)" font-size="8.8" text-anchor="middle" dominant-baseline="central" stroke="#000" stroke-width="0.25" fill="#000">0</text>
<text x="648.5" y="124.7" transform="rotate(-90 648.5 124.7)" font-size="8.8" text-anchor="middle" dominant-baseline="central" stroke="#fff" stroke-width="3.2" stroke-linejoin="round" fill="#fff">0</text>
<text x="648.5" y="124.7" transform="rotate(-90 648.5 124.7)" font-size="8.8" text-anchor="middle" dominant-baseline="central" stroke="#000" stroke-width="0.25" fill="#000">0</text>
</g>
<rect x="431" y="22.4" width="316.75" height="146.02" fill="none" stroke="#000" stroke-width="0.85"/>
<path d="M431,168.42 v3.6 M466.19,168.42 v3.6 M501.39,168.42 v3.6 M536.58,168.42 v3.6 M571.78,168.42 v3.6 M606.97,168.42 v3.6 M642.17,168.42 v3.6 M677.36,168.42 v3.6 M712.56,168.42 v3.6 M747.75,168.42 v3.6 M431,36.5 h-3.6 M431,58.49 h-3.6 M431,80.47 h-3.6 M431,102.46 h-3.6 M431,124.45 h-3.6 M431,146.43 h-3.6 M431,168.42 h-3.6" stroke="#000" stroke-width="0.85" fill="none"/>
<g font-size="10.4"><text x="431" y="183.92" text-anchor="middle">−90</text><text x="466.19" y="183.92" text-anchor="middle">−70</text><text x="501.39" y="183.92" text-anchor="middle">−50</text><text x="536.58" y="183.92" text-anchor="middle">−30</text><text x="571.78" y="183.92" text-anchor="middle">−10</text><text x="606.97" y="183.92" text-anchor="middle">10</text><text x="642.17" y="183.92" text-anchor="middle">30</text><text x="677.36" y="183.92" text-anchor="middle">50</text><text x="712.56" y="183.92" text-anchor="middle">70</text><text x="747.75" y="183.92" text-anchor="middle">90</text><text x="423.6" y="40.7" text-anchor="end" font-size="10.6">100</text><text x="423.6" y="62.69" text-anchor="end" font-size="10.6">250</text><text x="423.6" y="84.67" text-anchor="end" font-size="10.6">400</text><text x="423.6" y="106.66" text-anchor="end" font-size="10.6">550</text><text x="423.6" y="128.65" text-anchor="end" font-size="10.6">700</text><text x="423.6" y="150.63" text-anchor="end" font-size="10.6">850</text><text x="423.6" y="172.62" text-anchor="end" font-size="10.6">1000</text></g>
<text x="589.38" y="198.62" text-anchor="middle" font-size="10.4">Latitude</text>
<text x="391.4" y="96.76" text-anchor="middle" font-size="10.7" transform="rotate(-90 391.4 96.76)">Pressure</text>
<text x="589.38" y="15.9" text-anchor="middle" font-size="12.7">Meridional mass stream function - JJA</text>
<text x="431" y="15.9" font-size="16.0">b</text>
</g>
<g>
<clipPath id="cp2"><rect x="51.45" y="232.5" width="317.05" height="137.05"/></clipPath>
<g clip-path="url(#cp2)" fill="none" stroke="#000" stroke-width="1.3" stroke-linejoin="round" stroke-linecap="butt">
<path d="M51,248.2 C51.7,247.78 53.67,245.83 55.2,245.7 C56.73,245.57 58.32,247.53 60.2,247.4 C62.08,247.27 64.22,245.73 66.5,244.9 C68.78,244.07 71.42,242.68 73.9,242.4 C76.38,242.12 79.35,242.35 81.4,243.2 C83.45,244.05 85.03,245.42 86.2,247.5 C87.37,249.58 88.37,253.3 88.4,255.7 C88.43,258.1 87.57,260.12 86.4,261.9 C85.23,263.68 83.48,265.23 81.4,266.4 C79.32,267.57 76.8,268.4 73.9,268.9 C71,269.4 66.9,269.53 64,269.4 C61.1,269.27 58.67,268.52 56.5,268.1 C54.33,267.68 51.92,267.1 51,266.9"/>
<path d="M89.8,232 C89.95,233.42 90.03,237.83 90.7,240.5 C91.37,243.17 93.08,245.48 93.8,248 C94.52,250.52 95.1,253.08 95,255.6 C94.9,258.12 94.13,260.6 93.2,263.1 C92.27,265.6 90.55,268.1 89.4,270.6 C88.25,273.1 87.13,275.38 86.3,278.1 C85.47,280.82 84.87,283.27 84.4,286.9 C83.93,290.53 83.97,295.85 83.5,299.9 C83.03,303.95 82.1,306.02 81.6,311.2 C81.1,316.38 80.68,324.4 80.5,331 C80.32,337.6 80.1,345.97 80.5,350.8 C80.9,355.63 81.83,357.73 82.9,360 C83.97,362.27 85.58,363.4 86.9,364.4 C88.22,365.4 89.45,365.07 90.8,366 C92.15,366.93 94.3,369.33 95,370" stroke-dasharray="3.7,1.85"/>
<path d="M98.5,232 C98.13,233.42 96.25,237.62 96.3,240.5 C96.35,243.38 97.75,246.78 98.8,249.3 C99.85,251.82 101.87,252.88 102.6,255.6 C103.33,258.32 103.2,262.68 103.2,265.6 C103.2,268.52 103.55,270.6 102.6,273.1 C101.65,275.6 98.97,278.08 97.5,280.6 C96.03,283.12 94.63,284.98 93.8,288.2 C92.97,291.42 93,296.07 92.5,299.9 C92,303.73 91.3,307.12 90.8,311.2 C90.3,315.28 89.6,318.9 89.5,324.4 C89.4,329.9 89.87,339.93 90.2,344.2 C90.53,348.47 90.95,348.25 91.5,350 C92.05,351.75 92.5,353.23 93.5,354.7 C94.5,356.17 96.33,357.67 97.5,358.8 C98.67,359.93 99.03,359.63 100.5,361.5 C101.97,363.37 105.33,368.58 106.3,370" stroke-dasharray="3.7,1.85"/>
<path d="M106.9,232 C106.07,233 102.73,235.95 101.9,238 C101.07,240.05 101.17,242 101.9,244.3 C102.63,246.6 104.73,249.5 106.3,251.8 C107.87,254.1 109.93,255.8 111.3,258.1 C112.67,260.4 113.55,263.2 114.5,265.6 C115.45,268 117,270 117,272.5 C117,275 115.87,277.98 114.5,280.6 C113.13,283.22 110.78,285.68 108.8,288.2 C106.82,290.72 103.85,293.75 102.6,295.7 C101.35,297.65 101.95,298.42 101.3,299.9 C100.65,301.38 99.45,302.05 98.7,304.6 C97.95,307.15 97.23,310.8 96.8,315.2 C96.37,319.6 96,325.52 96.1,331 C96.2,336.48 96.75,344.52 97.4,348.1 C98.05,351.68 98.73,351.13 100,352.5 C101.27,353.87 102.48,354.62 105,356.3 C107.52,357.98 112.38,360.32 115.1,362.6 C117.82,364.88 120.27,368.77 121.3,370" stroke-dasharray="3.7,1.85"/>
<path d="M144.5,232 C144.62,233.42 145.2,237.83 145.2,240.5 C145.2,243.17 145.13,245.28 144.5,248 C143.87,250.72 142.97,253.67 141.4,256.8 C139.83,259.93 136.98,263.67 135.1,266.8 C133.22,269.93 131.45,272.03 130.1,275.6 C128.75,279.17 127.2,284.85 127,288.2 C126.8,291.55 128.38,293.75 128.9,295.7 C129.42,297.65 129.42,297.32 130.1,299.9 C130.78,302.48 131.63,307.12 133,311.2 C134.37,315.28 136.27,320.43 138.3,324.4 C140.33,328.37 143.25,331.73 145.2,335 C147.15,338.27 148.65,340.97 150,344 C151.35,347.03 153.63,350.37 153.3,353.2 C152.97,356.03 149.78,358.2 148,361 C146.22,363.8 143.5,368.5 142.6,370" stroke-dasharray="3.7,1.85"/>
<path d="M150.2,232 C150.4,233.83 151.2,239.48 151.4,243 C151.6,246.52 152.02,249.75 151.4,253.1 C150.78,256.45 149.15,259.97 147.7,263.1 C146.25,266.23 144.17,268.77 142.7,271.9 C141.23,275.03 139.85,278.35 138.9,281.9 C137.95,285.45 137.22,290.2 137,293.2 C136.78,296.2 136.93,296.77 137.6,299.9 C138.27,303.03 139.68,308.15 141,312 C142.32,315.85 143.97,319.17 145.5,323 C147.03,326.83 148.62,331.5 150.2,335 C151.78,338.5 153.33,341.08 155,344 C156.67,346.92 160.03,349.67 160.2,352.5 C160.37,355.33 157.47,358.08 156,361 C154.53,363.92 152.17,368.5 151.4,370" stroke-dasharray="3.7,1.85"/>
<path d="M157.7,232 C158.12,233.63 159.57,238.7 160.2,241.8 C160.83,244.9 161.5,247.88 161.5,250.6 C161.5,253.32 161.05,255.6 160.2,258.1 C159.35,260.6 157.87,262.68 156.4,265.6 C154.93,268.52 153.07,272.05 151.4,275.6 C149.73,279.15 147.43,282.85 146.4,286.9 C145.37,290.95 145.02,296.88 145.2,299.9 C145.38,302.92 146.5,302.18 147.5,305 C148.5,307.82 149.5,311.8 151.2,316.8 C152.9,321.8 155.9,330.47 157.7,335 C159.5,339.53 160.43,341.08 162,344 C163.57,346.92 166.77,349.67 167.1,352.5 C167.43,355.33 164.95,358.08 164,361 C163.05,363.92 161.83,368.5 161.4,370" stroke-dasharray="3.7,1.85"/>
<path d="M117.6,232 C116.35,232.58 111.98,234.08 110.1,235.5 C108.22,236.92 106.83,238.62 106.3,240.5 C105.77,242.38 106.07,244.7 106.9,246.8 C107.73,248.9 109.73,251.43 111.3,253.1 C112.87,254.77 114.62,255.65 116.3,256.8 C117.98,257.95 119.3,259.17 121.4,260 C123.5,260.83 126.82,262.12 128.9,261.8 C130.98,261.48 132.23,259.77 133.9,258.1 C135.57,256.43 137.65,254.1 138.9,251.8 C140.15,249.5 141.18,246.6 141.4,244.3 C141.62,242 140.72,240.05 140.2,238 C139.68,235.95 138.62,233 138.3,232" stroke-dasharray="3.7,1.85"/>
<path d="M110,240.5 C110.1,239.15 110.7,238.33 112.6,237.4 C114.5,236.47 118.48,235.32 121.4,234.9 C124.32,234.48 127.82,234.38 130.1,234.9 C132.38,235.42 134.05,236.85 135.1,238 C136.15,239.15 136.6,240.33 136.4,241.8 C136.2,243.27 135.15,245.33 133.9,246.8 C132.65,248.27 130.78,249.77 128.9,250.6 C127.02,251.43 124.7,252.02 122.6,251.8 C120.5,251.58 118.07,250.35 116.3,249.3 C114.53,248.25 113.05,246.97 112,245.5 C110.95,244.03 109.9,241.85 110,240.5Z" stroke-dasharray="3.7,1.85"/>
<path d="M116.3,239.9 C116.52,238.95 119.52,238.35 121.4,238 C123.28,237.65 125.93,237.48 127.6,237.8 C129.27,238.12 130.98,239.03 131.4,239.9 C131.82,240.77 131.15,242.23 130.1,243 C129.05,243.77 126.77,244.38 125.1,244.5 C123.43,244.62 121.57,244.47 120.1,243.7 C118.63,242.93 116.08,240.85 116.3,239.9Z" stroke-dasharray="3.7,1.85"/>
<path d="M114.6,305.9 C112.4,306.57 108.68,308.12 106.7,311.2 C104.72,314.28 103.6,320.43 102.7,324.4 C101.8,328.37 101.12,330.73 101.3,335 C101.48,339.27 101.92,346.35 103.8,350 C105.68,353.65 109.47,355.02 112.6,356.9 C115.73,358.78 118.85,359.93 122.6,361.3 C126.35,362.67 132.18,364.88 135.1,365.1 C138.02,365.32 138.22,364.58 140.1,362.6 C141.98,360.62 146.4,356.55 146.4,353.2 C146.4,349.85 141.98,345.7 140.1,342.5 C138.22,339.3 136.72,336.92 135.1,334 C133.48,331.08 132.07,328.13 130.4,325 C128.73,321.87 126.85,318.17 125.1,315.2 C123.35,312.23 121.65,308.75 119.9,307.2 C118.15,305.65 116.8,305.23 114.6,305.9Z" stroke-dasharray="3.7,1.85"/>
<path d="M117.2,322.4 C115.13,322.77 112.1,323.6 110.6,325.7 C109.1,327.8 108.28,331.15 108.2,335 C108.12,338.85 108.53,345.25 110.1,348.8 C111.67,352.35 114.47,354.63 117.6,356.3 C120.73,357.97 125.77,359.02 128.9,358.8 C132.03,358.58 134.73,356.47 136.4,355 C138.07,353.53 139.05,352.17 138.9,350 C138.75,347.83 136.73,344.5 135.5,342 C134.27,339.5 132.75,337.17 131.5,335 C130.25,332.83 129.42,330.92 128,329 C126.58,327.08 124.8,324.6 123,323.5 C121.2,322.4 119.27,322.03 117.2,322.4Z" stroke-dasharray="3.7,1.85"/>
<path d="M122,344.4 C122.95,344.3 125.05,345.55 126.4,346.9 C127.75,348.25 130.32,351.35 130.1,352.5 C129.88,353.65 126.67,353.8 125.1,353.8 C123.53,353.8 121.43,353.55 120.7,352.5 C119.97,351.45 120.48,348.85 120.7,347.5 C120.92,346.15 121.05,344.5 122,344.4Z" stroke-dasharray="3.7,1.85"/>
<path d="M253.8,232 C253.37,233.53 252.3,238.68 251.2,241.2 C250.1,243.72 248.63,244.57 247.2,247.1 C245.77,249.63 242.82,253.87 242.6,256.4 C242.38,258.93 244.47,259.78 245.9,262.3 C247.33,264.82 249.88,267.98 251.2,271.5 C252.52,275.02 253.25,278.65 253.8,283.4 C254.35,288.15 254.52,296.45 254.5,300 C254.48,303.55 254.42,302.3 253.7,304.7 C252.98,307.1 252.07,311.17 250.2,314.4 C248.33,317.63 245.4,321.18 242.5,324.1 C239.6,327.02 235.72,329.48 232.8,331.9 C229.88,334.32 227.38,336.72 225,338.6 C222.62,340.48 218.5,343.2 218.5,343.2 C218.5,343.2 215.5,321.18 214.4,309.3 C213.3,297.42 212.4,282.3 211.9,271.9 C211.4,261.5 212.23,252.1 211.4,246.9 C210.57,241.7 209.3,242.15 206.9,240.7 C204.5,239.25 200.67,238.62 197,238.2 C193.33,237.78 187.53,237.98 184.9,238.2 C182.27,238.42 181.9,237.63 181.2,239.5 C180.5,241.37 181.53,245.25 180.7,249.4 C179.87,253.55 178.62,258.58 176.2,264.4 C173.78,270.22 168.9,279.32 166.2,284.3 C163.5,289.28 161.45,290.97 160,294.3 C158.55,297.63 157.5,304.3 157.5,304.3 C157.5,304.3 159.33,308.88 161.2,311.8 C163.07,314.72 166.2,318.48 168.7,321.8 C171.2,325.12 174.12,328.38 176.2,331.7 C178.28,335.02 179.33,339 181.2,341.7 C183.07,344.4 185.53,346.75 187.4,347.9 C189.27,349.05 190.47,348.17 192.4,348.6 C194.33,349.03 196.9,349.68 199,350.5 C201.1,351.32 203.2,352.47 205,353.5 C206.8,354.53 208.33,356.37 209.8,356.7 C211.27,357.03 212.4,355.5 213.8,355.5 C215.2,355.5 216.62,354.28 218.2,356.7 C219.78,359.12 222.45,367.78 223.3,370"/>
<path d="M200.7,370 C201.17,368.5 202.85,362.83 203.5,361 C204.15,359.17 204.42,359.33 204.6,359"/>
<path d="M206.7,370 L205.9,361"/>
<path d="M261.7,232 C261.15,233.32 259.17,237.27 258.4,239.9 C257.63,242.53 257.2,244.28 257.1,247.8 C257,251.32 257.35,256.6 257.8,261 C258.25,265.4 259.25,269.8 259.8,274.2 C260.35,278.6 260.92,283.93 261.1,287.4 C261.28,290.87 261.1,291.15 260.9,295 C260.7,298.85 260.72,305.33 259.9,310.5 C259.08,315.67 257.93,321.15 256,326 C254.07,330.85 250.88,335.23 248.3,339.6 C245.72,343.97 241.15,348.65 240.5,352.2 C239.85,355.75 243.43,357.93 244.4,360.9 C245.37,363.87 245.98,368.48 246.3,370"/>
<path d="M267.7,232 C267.03,232.98 264.58,235.93 263.7,237.9 C262.82,239.87 262.4,240.62 262.4,243.8 C262.4,246.98 263.15,251.93 263.7,257 C264.25,262.07 265.15,267.03 265.7,274.2 C266.25,281.37 266.83,294.27 267,300 C267.17,305.73 267.23,304.9 266.7,308.6 C266.17,312.3 265.42,317.35 263.8,322.2 C262.18,327.05 259.43,332.53 257,337.7 C254.57,342.87 250,349.33 249.2,353.2 C248.4,357.07 251.07,358.1 252.2,360.9 C253.33,363.7 255.37,368.48 256,370"/>
<path d="M267,240.5 C267.22,237.98 268.8,236.55 271,235.3 C273.2,234.05 276.47,233.12 280.2,233 C283.93,232.88 289.67,233.9 293.4,234.6 C297.13,235.3 300.28,236.22 302.6,237.2 C304.92,238.18 307.52,239.62 307.3,240.5 C307.08,241.38 304.05,241.83 301.3,242.5 C298.55,243.17 294.1,243.73 290.8,244.5 C287.5,245.27 283.92,245.67 281.5,247.1 C279.08,248.53 277.83,251.78 276.3,253.1 C274.77,254.42 273.4,255.45 272.3,255 C271.2,254.55 270.58,252.82 269.7,250.4 C268.82,247.98 266.78,243.02 267,240.5Z"/>
<path d="M273,241.2 C273,240.33 274.65,239.08 276.3,238.6 C277.95,238.12 280.93,237.98 282.9,238.3 C284.87,238.62 288.1,239.8 288.1,240.5 C288.1,241.2 284.87,241.95 282.9,242.5 C280.93,243.05 277.95,244.02 276.3,243.8 C274.65,243.58 273,242.07 273,241.2Z"/>
<path d="M306.6,256.5 C306.8,255.4 310.62,253.9 312.6,253.5 C314.58,253.1 316.62,253.55 318.5,254.1 C320.38,254.65 323.9,256 323.9,256.8 C323.9,257.6 320.58,258.35 318.5,258.9 C316.42,259.45 313.38,260.5 311.4,260.1 C309.42,259.7 306.4,257.6 306.6,256.5Z"/>
<path d="M329.2,232 C329.2,233.32 329.4,238.38 329.2,239.9 C329,241.42 330.57,240.42 328,241.1 C325.43,241.78 318.65,242.82 313.8,244 C308.95,245.18 302.7,247.2 298.9,248.2 C295.1,249.2 292.68,249.18 291,250 C289.32,250.82 289.5,251.93 288.8,253.1 C288.1,254.27 286.68,255.25 286.8,257 C286.92,258.75 287.78,261.5 289.5,263.6 C291.22,265.7 294.45,267.62 297.1,269.6 C299.75,271.58 303.23,274.17 305.4,275.5 C307.57,276.83 308.2,277.33 310.1,277.6 C312,277.87 313.85,277.95 316.8,277.1 C319.75,276.25 324.98,272.85 327.8,272.5 C330.62,272.15 331.32,272.88 333.7,275 C336.08,277.12 339.58,280.98 342.1,285.2 C344.62,289.42 346.83,294.42 348.8,300.3 C350.77,306.18 352.5,313.77 353.9,320.5 C355.3,327.23 356.5,335.37 357.2,340.7 C357.9,346.03 358.65,348.57 358.1,352.5 C357.55,356.43 355.17,361.38 353.9,364.3 C352.63,367.22 351.07,369.05 350.5,370"/>
<path d="M348.2,232 C348.3,233.42 349.78,238 348.8,240.5 C347.82,243 344.08,245.12 342.3,247 C340.52,248.88 339.28,250.22 338.1,251.8 C336.92,253.38 334.9,255.12 335.2,256.5 C335.5,257.88 337.53,258.52 339.9,260.1 C342.27,261.68 347.02,263.82 349.4,266 C351.78,268.18 352.75,270.28 354.2,273.2 C355.65,276.12 357.03,278.42 358.1,283.5 C359.17,288.58 359.9,296.13 360.6,303.7 C361.3,311.27 361.88,321.05 362.3,328.9 C362.72,336.75 363.25,345.47 363.1,350.8 C362.95,356.13 361.95,357.7 361.4,360.9 C360.85,364.1 360.07,368.48 359.8,370"/>
<path d="M290.9,370 C292.08,369.58 295.65,368.17 298,367.5 C300.35,366.83 302.98,366.4 305,366 C307.02,365.6 307.57,365.53 310.1,365.1 C312.63,364.67 316.27,363.68 320.2,363.4 C324.13,363.12 330.05,363.12 333.7,363.4 C337.35,363.68 339.58,365.8 342.1,365.1 C344.62,364.4 346.98,361.3 348.8,359.2 C350.62,357.1 352.85,356.15 353,352.5 C353.15,348.85 350.95,342.63 349.7,337.3 C348.45,331.97 347.05,325.82 345.5,320.5 C343.95,315.18 342.37,309.6 340.4,305.4 C338.43,301.2 335.8,297.62 333.7,295.3 C331.6,292.98 329.92,291.8 327.8,291.5 C325.68,291.2 323.1,292.6 321,293.5 C318.9,294.4 317.4,296.73 315.2,296.9 C313,297.07 310.42,295.88 307.8,294.5 C305.18,293.12 302.47,289.98 299.5,288.6 C296.53,287.22 292.77,286.4 290,286.2 C287.23,286 285.18,286.33 282.9,287.4 C280.62,288.47 277.73,290.5 276.3,292.6 C274.87,294.7 275.35,296.27 274.3,300 C273.25,303.73 271.38,310 270,315 C268.62,320 267.33,325.33 266,330 C264.67,334.67 263.33,339.67 262,343 C260.67,346.33 258.83,347.5 258,350 C257.17,352.5 256.83,355.5 257,358 C257.17,360.5 258.33,363 259,365 C259.67,367 260.67,369.17 261,370"/>
<path d="M265.7,353.2 C265.85,349.97 267.3,342.87 268.6,337.7 C269.9,332.53 271.72,326.73 273.5,322.2 C275.28,317.67 277.03,313.58 279.3,310.5 C281.57,307.42 284.35,304.73 287.1,303.7 C289.85,302.67 293.22,303.17 295.8,304.3 C298.38,305.43 300.5,307.8 302.6,310.5 C304.7,313.2 306.3,317.57 308.4,320.5 C310.5,323.43 313.23,328.23 315.2,328.1 C317.17,327.97 318.38,321.67 320.2,319.7 C322.02,317.73 324.42,316.58 326.1,316.3 C327.78,316.02 329.18,315.9 330.3,318 C331.42,320.1 332.1,323.15 332.8,328.9 C333.5,334.65 336.6,348.15 334.5,352.5 C332.4,356.85 324.55,354.17 320.2,355 C315.85,355.83 311.77,356.93 308.4,357.5 C305.03,358.07 302.42,357.73 300,358.4 C297.58,359.07 296.05,360.43 293.9,361.5 C291.75,362.57 290.18,364.73 287.1,364.8 C284.02,364.87 278.63,363.18 275.4,361.9 C272.17,360.62 269.32,358.55 267.7,357.1 C266.08,355.65 265.55,356.43 265.7,353.2Z"/>
<path d="M275.4,351.2 C274.6,348.62 274.17,343.15 274.5,339.6 C274.83,336.05 275.95,332.65 277.4,329.9 C278.85,327.15 280.95,324.55 283.2,323.1 C285.45,321.65 288.63,320.72 290.9,321.2 C293.17,321.68 294.85,323.32 296.8,326 C298.75,328.68 301.78,334 302.6,337.3 C303.42,340.6 302.13,343.27 301.7,345.8 C301.27,348.33 300.82,351.27 300,352.5 C299.18,353.73 298.95,352.43 296.8,353.2 C294.65,353.97 290.02,356.78 287.1,357.1 C284.18,357.42 281.25,356.08 279.3,355.1 C277.35,354.12 276.2,353.78 275.4,351.2Z"/>
<path d="M369,240 C368.5,240.28 366,241.12 366,241.7 C366,242.28 368.5,243.2 369,243.5"/>
<path d="M369,302.5 C368.5,302.8 366,303.72 366,304.3 C366,304.88 368.5,305.72 369,306"/>
</g>
<clipPath id="cl2"><rect x="51.45" y="224.65" width="317.05" height="144.9"/></clipPath>
<g clip-path="url(#cl2)">
<text x="86.9" y="249" transform="rotate(-70 86.9 249)" font-size="8.8" text-anchor="middle" dominant-baseline="central" stroke="#fff" stroke-width="3.2" stroke-linejoin="round" fill="#fff">0</text>
<text x="86.9" y="249" transform="rotate(-70 86.9 249)" font-size="8.8" text-anchor="middle" dominant-baseline="central" stroke="#000" stroke-width="0.25" fill="#000">0</text>
<text x="121.4" y="260" transform="rotate(-60 121.4 260)" font-size="8.8" text-anchor="middle" dominant-baseline="central" stroke="#fff" stroke-width="3.2" stroke-linejoin="round" fill="#fff">-8</text>
<text x="121.4" y="260" transform="rotate(-60 121.4 260)" font-size="8.8" text-anchor="middle" dominant-baseline="central" stroke="#000" stroke-width="0.25" fill="#000">-8</text>
<text x="92.8" y="305.9" transform="rotate(-80 92.8 305.9)" font-size="8.8" text-anchor="middle" dominant-baseline="central" stroke="#fff" stroke-width="3.2" stroke-linejoin="round" fill="#fff">-4</text>
<text x="92.8" y="305.9" transform="rotate(-80 92.8 305.9)" font-size="8.8" text-anchor="middle" dominant-baseline="central" stroke="#000" stroke-width="0.25" fill="#000">-4</text>
<text x="105.3" y="317.8" transform="rotate(-70 105.3 317.8)" font-size="8.8" text-anchor="middle" dominant-baseline="central" stroke="#fff" stroke-width="3.2" stroke-linejoin="round" fill="#fff">-8</text>
<text x="105.3" y="317.8" transform="rotate(-70 105.3 317.8)" font-size="8.8" text-anchor="middle" dominant-baseline="central" stroke="#000" stroke-width="0.25" fill="#000">-8</text>
<text x="137.7" y="305.3" transform="rotate(-75 137.7 305.3)" font-size="8.8" text-anchor="middle" dominant-baseline="central" stroke="#fff" stroke-width="3.2" stroke-linejoin="round" fill="#fff">-4</text>
<text x="137.7" y="305.3" transform="rotate(-75 137.7 305.3)" font-size="8.8" text-anchor="middle" dominant-baseline="central" stroke="#000" stroke-width="0.25" fill="#000">-4</text>
<text x="187.4" y="347.9" transform="rotate(-20 187.4 347.9)" font-size="8.8" text-anchor="middle" dominant-baseline="central" stroke="#fff" stroke-width="3.2" stroke-linejoin="round" fill="#fff">0</text>
<text x="187.4" y="347.9" transform="rotate(-20 187.4 347.9)" font-size="8.8" text-anchor="middle" dominant-baseline="central" stroke="#000" stroke-width="0.25" fill="#000">0</text>
<text x="205.1" y="356.3" transform="rotate(0 205.1 356.3)" font-size="8.8" text-anchor="middle" dominant-baseline="central" stroke="#fff" stroke-width="3.2" stroke-linejoin="round" fill="#fff">0</text>
<text x="205.1" y="356.3" transform="rotate(0 205.1 356.3)" font-size="8.8" text-anchor="middle" dominant-baseline="central" stroke="#000" stroke-width="0.25" fill="#000">0</text>
<text x="271.6" y="239.2" transform="rotate(-70 271.6 239.2)" font-size="8.8" text-anchor="middle" dominant-baseline="central" stroke="#fff" stroke-width="3.2" stroke-linejoin="round" fill="#fff">8</text>
<text x="271.6" y="239.2" transform="rotate(-70 271.6 239.2)" font-size="8.8" text-anchor="middle" dominant-baseline="central" stroke="#000" stroke-width="0.25" fill="#000">8</text>
<text x="294.1" y="248.4" transform="rotate(-65 294.1 248.4)" font-size="8.8" text-anchor="middle" dominant-baseline="central" stroke="#fff" stroke-width="3.2" stroke-linejoin="round" fill="#fff">4</text>
<text x="294.1" y="248.4" transform="rotate(-65 294.1 248.4)" font-size="8.8" text-anchor="middle" dominant-baseline="central" stroke="#000" stroke-width="0.25" fill="#000">4</text>
<text x="267.7" y="304.7" transform="rotate(-80 267.7 304.7)" font-size="8.8" text-anchor="middle" dominant-baseline="central" stroke="#fff" stroke-width="3.2" stroke-linejoin="round" fill="#fff">4</text>
<text x="267.7" y="304.7" transform="rotate(-80 267.7 304.7)" font-size="8.8" text-anchor="middle" dominant-baseline="central" stroke="#000" stroke-width="0.25" fill="#000">4</text>
<text x="293.9" y="361.5" transform="rotate(-10 293.9 361.5)" font-size="8.8" text-anchor="middle" dominant-baseline="central" stroke="#fff" stroke-width="3.2" stroke-linejoin="round" fill="#fff">8</text>
<text x="293.9" y="361.5" transform="rotate(-10 293.9 361.5)" font-size="8.8" text-anchor="middle" dominant-baseline="central" stroke="#000" stroke-width="0.25" fill="#000">8</text>
<text x="306" y="366.8" transform="rotate(0 306 366.8)" font-size="8.8" text-anchor="middle" dominant-baseline="central" stroke="#fff" stroke-width="3.2" stroke-linejoin="round" fill="#fff">4</text>
<text x="306" y="366.8" transform="rotate(0 306 366.8)" font-size="8.8" text-anchor="middle" dominant-baseline="central" stroke="#000" stroke-width="0.25" fill="#000">4</text>
<text x="366.6" y="241.7" transform="rotate(-90 366.6 241.7)" font-size="8.8" text-anchor="middle" dominant-baseline="central" stroke="#fff" stroke-width="3.2" stroke-linejoin="round" fill="#fff">0</text>
<text x="366.6" y="241.7" transform="rotate(-90 366.6 241.7)" font-size="8.8" text-anchor="middle" dominant-baseline="central" stroke="#000" stroke-width="0.25" fill="#000">0</text>
<text x="366.5" y="321.3" transform="rotate(-90 366.5 321.3)" font-size="8.8" text-anchor="middle" dominant-baseline="central" stroke="#fff" stroke-width="3.2" stroke-linejoin="round" fill="#fff">0</text>
<text x="366.5" y="321.3" transform="rotate(-90 366.5 321.3)" font-size="8.8" text-anchor="middle" dominant-baseline="central" stroke="#000" stroke-width="0.25" fill="#000">0</text>
<text x="52.7" y="304.3" transform="rotate(-90 52.7 304.3)" font-size="8.8" text-anchor="middle" dominant-baseline="central" stroke="#fff" stroke-width="3.2" stroke-linejoin="round" fill="#fff">0</text>
<text x="52.7" y="304.3" transform="rotate(-90 52.7 304.3)" font-size="8.8" text-anchor="middle" dominant-baseline="central" stroke="#000" stroke-width="0.25" fill="#000">0</text>
</g>
<rect x="51.45" y="224.65" width="317.05" height="144.9" fill="none" stroke="#000" stroke-width="0.85"/>
<path d="M51.45,369.55 v3.6 M86.68,369.55 v3.6 M121.91,369.55 v3.6 M157.13,369.55 v3.6 M192.36,369.55 v3.6 M227.59,369.55 v3.6 M262.82,369.55 v3.6 M298.04,369.55 v3.6 M333.27,369.55 v3.6 M368.5,369.55 v3.6 M51.45,224.65 h-3.6 M51.45,248.8 h-3.6 M51.45,272.95 h-3.6 M51.45,297.1 h-3.6 M51.45,321.25 h-3.6 M51.45,345.4 h-3.6 M51.45,369.55 h-3.6" stroke="#000" stroke-width="0.85" fill="none"/>
<g font-size="10.4"><text x="51.45" y="385.05" text-anchor="middle">−90</text><text x="86.68" y="385.05" text-anchor="middle">−70</text><text x="121.91" y="385.05" text-anchor="middle">−50</text><text x="157.13" y="385.05" text-anchor="middle">−30</text><text x="192.36" y="385.05" text-anchor="middle">−10</text><text x="227.59" y="385.05" text-anchor="middle">10</text><text x="262.82" y="385.05" text-anchor="middle">30</text><text x="298.04" y="385.05" text-anchor="middle">50</text><text x="333.27" y="385.05" text-anchor="middle">70</text><text x="368.5" y="385.05" text-anchor="middle">90</text><text x="44.05" y="228.85" text-anchor="end" font-size="10.6">100</text><text x="44.05" y="253" text-anchor="end" font-size="10.6">250</text><text x="44.05" y="277.15" text-anchor="end" font-size="10.6">400</text><text x="44.05" y="301.3" text-anchor="end" font-size="10.6">550</text><text x="44.05" y="325.45" text-anchor="end" font-size="10.6">700</text><text x="44.05" y="349.6" text-anchor="end" font-size="10.6">850</text><text x="44.05" y="373.75" text-anchor="end" font-size="10.6">1000</text></g>
<text x="209.97" y="399.75" text-anchor="middle" font-size="10.4">Latitude</text>
<text x="11.85" y="298.45" text-anchor="middle" font-size="10.7" transform="rotate(-90 11.85 298.45)">Pressure</text>
<text x="209.97" y="218.15" text-anchor="middle" font-size="12.7">Eddy heat flux - DJF</text>
<text x="51.45" y="218.15" font-size="16.0">c</text>
</g>
<g>
<clipPath id="cp3"><rect x="431" y="232.5" width="316.75" height="137.05"/></clipPath>
<g clip-path="url(#cp3)" fill="none" stroke="#000" stroke-width="1.3" stroke-linejoin="round" stroke-linecap="butt">
<path d="M444,239.9 C445.25,238.87 446.12,237.57 447.8,236.8 C449.48,236.03 451.8,235.2 454.1,235.3 C456.4,235.4 459.52,236.12 461.6,237.4 C463.68,238.68 465.45,240.92 466.6,243 C467.75,245.08 468.5,247.6 468.5,249.9 C468.5,252.2 467.97,255.02 466.6,256.8 C465.23,258.58 462.8,259.87 460.3,260.6 C457.8,261.33 454.32,261.03 451.6,261.2 C448.88,261.37 446.2,261.92 444,261.6 C441.8,261.28 439.65,260.72 438.4,259.3 C437.15,257.88 436.82,254.98 436.5,253.1 C436.18,251.22 435.87,249.68 436.5,248 C437.13,246.32 439.05,244.35 440.3,243 C441.55,241.65 442.75,240.93 444,239.9Z"/>
<path d="M431,238 C431.42,238.42 433.5,239.67 433.5,240.5 C433.5,241.33 431.42,242.58 431,243"/>
<path d="M431,255.5 C431.33,255.88 433,257.05 433,257.8 C433,258.55 431.33,259.63 431,260"/>
<path d="M468.5,232 C469.12,233.63 471.27,238.7 472.2,241.8 C473.13,244.9 473.98,247.68 474.1,250.6 C474.22,253.52 474.15,256.38 472.9,259.3 C471.65,262.22 469.08,265.65 466.6,268.1 C464.12,270.55 460.3,272.33 458,274 C455.7,275.67 454.3,276.17 452.8,278.1 C451.3,280.03 450.05,282.95 449,285.6 C447.95,288.25 447.08,290.77 446.5,294 C445.92,297.23 445.5,300.67 445.5,305 C445.5,309.33 446.17,314.17 446.5,320 C446.83,325.83 447.25,331.67 447.5,340 C447.75,348.33 447.92,365 448,370" stroke-dasharray="3.7,1.85"/>
<path d="M474.1,232 C474.62,233.63 476.15,238.7 477.2,241.8 C478.25,244.9 479.87,247.88 480.4,250.6 C480.93,253.32 481.23,255.18 480.4,258.1 C479.57,261.02 476.55,265.9 475.4,268.1 C474.25,270.3 474.68,269.22 473.5,271.3 C472.32,273.38 469.83,277.63 468.3,280.6 C466.77,283.57 465.85,286.68 464.3,289.1 C462.75,291.52 460.87,292.78 459,295.1 C457.13,297.42 454.2,299.93 453.1,303 C452,306.07 452.55,309 452.4,313.5 C452.25,318 452.2,324.75 452.2,330 C452.2,335.25 452.32,338.33 452.4,345 C452.48,351.67 452.65,365.83 452.7,370" stroke-dasharray="3.7,1.85"/>
<path d="M480.1,232 C480.35,233.63 480.52,238.7 481.6,241.8 C482.68,244.9 485.23,248.1 486.6,250.6 C487.97,253.1 490,254.3 489.8,256.8 C489.6,259.3 486.78,263.18 485.4,265.6 C484.02,268.02 483.25,268.37 481.5,271.3 C479.75,274.23 476.88,279.23 474.9,283.2 C472.92,287.17 471.37,291.58 469.6,295.1 C467.83,298.62 465.85,301.23 464.3,304.3 C462.75,307.37 461.43,310.05 460.3,313.5 C459.17,316.95 458.22,320.42 457.5,325 C456.78,329.58 456.17,336 456,341 C455.83,346 456.25,350.17 456.5,355 C456.75,359.83 457.33,367.5 457.5,370" stroke-dasharray="3.7,1.85"/>
<path d="M487.9,232 C487.58,232.9 486.42,235.98 486,237.4 C485.58,238.82 485.08,239.15 485.4,240.5 C485.72,241.85 486.02,243.82 487.9,245.5 C489.78,247.18 493.78,249.13 496.7,250.6 C499.62,252.07 502.8,253.3 505.4,254.3 C508,255.3 512.08,255.77 512.3,256.6 C512.52,257.43 508.88,258.22 506.7,259.3 C504.52,260.38 501.4,261.53 499.2,263.1 C497,264.67 495.37,266.88 493.5,268.7 C491.63,270.52 489.78,271.15 488,274 C486.22,276.85 484.77,281.42 482.8,285.8 C480.83,290.18 478.18,295.9 476.2,300.3 C474.22,304.7 472.77,308.92 470.9,312.2 C469.03,315.48 466.65,317.03 465,320 C463.35,322.97 461.83,326.67 461,330 C460.17,333.33 460.08,336.33 460,340 C459.92,343.67 460.17,347 460.5,352 C460.83,357 461.75,367 462,370" stroke-dasharray="3.7,1.85"/>
<path d="M490,232.8 C492.08,232.9 498.32,233.2 502.5,233.4 C506.68,233.6 511.33,233.9 515.1,234 C518.87,234.1 522.87,233.67 525.1,234 C527.33,234.33 527.45,234.92 528.5,236 C529.55,237.08 530.62,237.65 531.4,240.5 C532.18,243.35 532.78,249.68 533.2,253.1 C533.62,256.52 534.2,258.92 533.9,261 C533.6,263.08 532.77,263.78 531.4,265.6 C530.03,267.42 526.75,268.77 525.7,271.9 C524.65,275.03 525,278.12 525.1,284.4 C525.2,290.68 525.67,303.2 526.3,309.6 C526.93,316 527.78,318.57 528.9,322.8 C530.02,327.03 531.73,331.3 533,335 C534.27,338.7 535.52,342.13 536.5,345 C537.48,347.87 539.65,349.53 538.9,352.2 C538.15,354.87 534.43,358.03 532,361 C529.57,363.97 525.58,368.5 524.3,370" stroke-dasharray="3.7,1.85"/>
<path d="M532.6,232 C533.23,233.63 535.57,238.28 536.4,241.8 C537.23,245.32 537.6,249.13 537.6,253.1 C537.6,257.07 537.02,261.43 536.4,265.6 C535.78,269.77 534.53,272.38 533.9,278.1 C533.27,283.82 532.42,293.75 532.6,299.9 C532.78,306.05 533.85,309.98 535,315 C536.15,320.02 538.17,325.5 539.5,330 C540.83,334.5 541.93,338.3 543,342 C544.07,345.7 546.4,349.03 545.9,352.2 C545.4,355.37 542.02,358.03 540,361 C537.98,363.97 534.83,368.5 533.8,370" stroke-dasharray="3.7,1.85"/>
<path d="M537.6,232 C538.13,233.83 539.97,239.07 540.8,243 C541.63,246.93 542.6,251.2 542.6,255.6 C542.6,260 541.32,264.6 540.8,269.4 C540.28,274.2 539.82,279.32 539.5,284.4 C539.18,289.48 538.73,295.63 538.9,299.9 C539.07,304.17 539.48,305.82 540.5,310 C541.52,314.18 543.42,320 545,325 C546.58,330 548.58,335.47 550,340 C551.42,344.53 553.75,348.7 553.5,352.2 C553.25,355.7 550.18,358.03 548.5,361 C546.82,363.97 544.25,368.5 543.4,370" stroke-dasharray="3.7,1.85"/>
<path d="M542,232 C542.67,233.83 544.92,239 546,243 C547.08,247 548.5,251.5 548.5,256 C548.5,260.5 546.58,265.33 546,270 C545.42,274.67 545.12,279 545,284 C544.88,289 544.8,295.33 545.3,300 C545.8,304.67 546.72,307.83 548,312 C549.28,316.17 551.33,320.33 553,325 C554.67,329.67 556.53,335.47 558,340 C559.47,344.53 561.88,348.7 561.8,352.2 C561.72,355.7 558.88,358.03 557.5,361 C556.12,363.97 554.17,368.5 553.5,370" stroke-dasharray="3.7,1.85"/>
<path d="M492.5,239.9 C493.33,239.37 496.23,238.35 500,238 C503.77,237.65 510.72,237.58 515.1,237.8 C519.48,238.02 524.12,238.63 526.3,239.3 C528.48,239.97 528.2,240.65 528.2,241.8 C528.2,242.95 527.23,245.17 526.3,246.2 C525.37,247.23 524.47,248.12 522.6,248 C520.73,247.88 518.45,246.43 515.1,245.5 C511.75,244.57 505.85,243.12 502.5,242.4 C499.15,241.68 496.67,241.62 495,241.2 C493.33,240.78 491.67,240.43 492.5,239.9Z" stroke-dasharray="3.7,1.85"/>
<path d="M465.5,338 C466.27,333.9 468.03,329.48 469.6,325.4 C471.17,321.32 472.7,317.68 474.9,313.5 C477.1,309.32 480.62,304.25 482.8,300.3 C484.98,296.35 485.8,293.2 488,289.8 C490.2,286.4 493.35,282.32 496,279.9 C498.65,277.48 501.7,275.85 503.9,275.3 C506.1,274.75 507.45,274.62 509.2,276.6 C510.95,278.58 513.08,282.8 514.4,287.2 C515.72,291.6 515.78,297.07 517.1,303 C518.42,308.93 520.9,317.8 522.3,322.8 C523.7,327.8 524.47,329.8 525.5,333 C526.53,336.2 527.43,338.8 528.5,342 C529.57,345.2 532.32,349.37 531.9,352.2 C531.48,355.03 528.15,357.28 526,359 C523.85,360.72 522,361.75 519,362.5 C516,363.25 511.57,363.53 508,363.5 C504.43,363.47 500.6,362.25 497.6,362.3 C494.6,362.35 492.6,363.27 490,363.8 C487.4,364.33 484.67,365.55 482,365.5 C479.33,365.45 476.33,364.58 474,363.5 C471.67,362.42 469.5,361.25 468,359 C466.5,356.75 465.42,353.5 465,350 C464.58,346.5 464.73,342.1 465.5,338Z" stroke-dasharray="3.7,1.85"/>
<path d="M482,370 C483.33,369.67 486.52,368.48 490,368 C493.48,367.52 499,367.13 502.9,367.1 C506.8,367.07 510.72,367.32 513.4,367.8 C516.08,368.28 518.07,369.63 519,370" stroke-dasharray="3.7,1.85"/>
<path d="M496,302.3 C493.25,303.73 491.6,306.63 489.4,309.6 C487.2,312.57 485.03,316.7 482.8,320.1 C480.57,323.5 478.05,326.68 476,330 C473.95,333.32 471.73,336.67 470.5,340 C469.27,343.33 468.52,347.08 468.6,350 C468.68,352.92 469.6,355.67 471,357.5 C472.4,359.33 474.83,360.25 477,361 C479.17,361.75 481.83,362.25 484,362 C486.17,361.75 487.73,360.08 490,359.5 C492.27,358.92 495.07,358.5 497.6,358.5 C500.13,358.5 502.87,359.42 505.2,359.5 C507.53,359.58 509.27,359.58 511.6,359 C513.93,358.42 517.08,357.35 519.2,356 C521.32,354.65 523.55,353.23 524.3,350.9 C525.05,348.57 524.47,345.48 523.7,342 C522.93,338.52 521.02,333.87 519.7,330 C518.38,326.13 517.33,322.42 515.8,318.8 C514.27,315.18 512.15,311.27 510.5,308.3 C508.85,305.33 508.32,302 505.9,301 C503.48,300 498.75,300.87 496,302.3Z" stroke-dasharray="3.7,1.85"/>
<path d="M500.2,324.2 C497.57,324.08 493.7,325.07 491,326.2 C488.3,327.33 486.33,329.2 484,331 C481.67,332.8 478.83,334.83 477,337 C475.17,339.17 473.75,341.67 473,344 C472.25,346.33 472.08,348.83 472.5,351 C472.92,353.17 473.92,355.67 475.5,357 C477.08,358.33 479.92,359 482,359 C484.08,359 485.83,357.75 488,357 C490.17,356.25 492.52,354.73 495,354.5 C497.48,354.27 500.27,355.35 502.9,355.6 C505.53,355.85 508.6,356.62 510.8,356 C513,355.38 515.22,353.68 516.1,351.9 C516.98,350.12 516.77,347.93 516.1,345.3 C515.43,342.67 513.65,339.17 512.1,336.1 C510.55,333.03 508.78,328.88 506.8,326.9 C504.82,324.92 502.83,324.32 500.2,324.2Z" stroke-dasharray="3.7,1.85"/>
<path d="M475,343.4 C476.13,342.08 479.8,341.72 481.8,342.7 C483.8,343.68 486.78,347.32 487,349.3 C487.22,351.28 484.63,353.57 483.1,354.6 C481.57,355.63 479.15,356.17 477.8,355.5 C476.45,354.83 475.47,352.62 475,350.6 C474.53,348.58 473.87,344.72 475,343.4Z" stroke-dasharray="3.7,1.85"/>
<path d="M431.5,305 C432.05,305.65 433.58,307.57 434.8,308.9 C436.02,310.23 437.57,311.18 438.8,313 C440.03,314.82 441.3,316.87 442.2,319.8 C443.1,322.73 443.75,327 444.2,330.6 C444.65,334.2 445.12,338.92 444.9,341.4 C444.68,343.88 443.68,344.37 442.9,345.5 C442.12,346.63 440.88,346.17 440.2,348.2 C439.52,350.23 439.07,354.07 438.8,357.7 C438.53,361.33 438.63,367.95 438.6,370" stroke-dasharray="3.7,1.85"/>
<path d="M431.5,312 C431.82,313.33 433.08,316.45 433.4,320 C433.72,323.55 433.52,329.28 433.4,333.3 C433.28,337.32 432.82,337.98 432.7,344.1 C432.58,350.22 432.7,365.68 432.7,370" stroke-dasharray="3.7,1.85"/>
<path d="M544.5,232 C545.45,233.42 547.58,238.03 550.2,240.5 C552.82,242.97 558.15,244.48 560.2,246.8 C562.25,249.12 562.82,251.48 562.5,254.4 C562.18,257.32 559.73,261.18 558.3,264.3 C556.87,267.42 554.83,269.75 553.9,273.1 C552.97,276.45 552.97,280.75 552.7,284.4 C552.43,288.05 552.27,291.12 552.3,295 C552.33,298.88 552.48,303.47 552.9,307.7 C553.32,311.93 553.62,317.02 554.8,320.4 C555.98,323.78 557.88,325.67 560,328 C562.12,330.33 565.17,332.57 567.5,334.4 C569.83,336.23 571.92,337.57 574,339 C576.08,340.43 577.77,342.13 580,343 C582.23,343.87 585.33,342.75 587.4,344.2 C589.47,345.65 590.52,348.78 592.4,351.7 C594.28,354.62 596.83,358.65 598.7,361.7 C600.57,364.75 602.78,368.62 603.6,370"/>
<path d="M580,370 C580.83,369.02 582.93,366.73 585,364.1 C587.07,361.47 590.12,358.77 592.4,354.2 C594.68,349.63 598.28,341.28 598.7,336.7 C599.12,332.12 596.15,329.4 594.9,326.7 C593.65,324 591.4,323.4 591.2,320.5 C591,317.6 592.67,314.08 593.7,309.3 C594.73,304.52 595.95,295.55 597.4,291.8 C598.85,288.05 601.37,287.22 602.4,286.8 C603.43,286.38 602.57,288.05 603.6,289.3 C604.63,290.55 606.93,293.25 608.6,294.3 C610.27,295.35 612.13,296.02 613.6,295.6 C615.07,295.18 616.98,293.27 617.4,291.8 C617.82,290.33 617.35,288.05 616.1,286.8 C614.85,285.55 611.75,284.68 609.9,284.3 C608.05,283.92 607.08,284.9 605,284.5 C602.92,284.1 599.7,284 597.4,281.9 C595.1,279.8 592.87,274.82 591.2,271.9 C589.53,268.98 588.45,266.9 587.4,264.4 C586.35,261.9 585.1,259.4 584.9,256.9 C584.7,254.4 584.95,251.27 586.2,249.4 C587.45,247.53 590.53,246.93 592.4,245.7 C594.27,244.47 595.82,243.03 597.4,242 C598.98,240.97 600.23,240.55 601.9,239.5 C603.57,238.45 605.45,236.95 607.4,235.7 C609.35,234.45 612.57,232.62 613.6,232"/>
<path d="M616.1,232 C617.55,233.45 622.93,237.38 624.8,240.7 C626.67,244.02 625.63,248.37 627.3,251.9 C628.97,255.43 631.88,258.15 634.8,261.9 C637.72,265.65 641.68,270.03 644.8,274.4 C647.92,278.77 651.83,284.37 653.5,288.1 C655.17,291.83 654.5,294.1 654.8,296.8 C655.1,299.5 656.13,302.43 655.3,304.3 C654.47,306.17 652.38,306.33 649.8,308 C647.22,309.67 642.3,312 639.8,314.3 C637.3,316.6 636.05,318.48 634.8,321.8 C633.55,325.12 633.55,328.38 632.3,334.2 C631.05,340.02 628.55,350.73 627.3,356.7 C626.05,362.67 625.22,367.78 624.8,370"/>
<path d="M648.5,232 C649.55,234.48 652.52,241.5 654.8,246.9 C657.08,252.3 660.13,259.4 662.2,264.4 C664.27,269.4 666.03,272.33 667.2,276.9 C668.37,281.47 669.2,287.23 669.2,291.8 C669.2,296.37 668.37,299.3 667.2,304.3 C666.03,309.3 664.27,315.57 662.2,321.8 C660.13,328.03 656.45,336.3 654.8,341.7 C653.15,347.1 652.52,349.48 652.3,354.2 C652.08,358.92 653.3,367.37 653.5,370"/>
<path d="M667.7,232 C667.2,232.62 665.62,234.03 664.7,235.7 C663.78,237.37 661.37,238.88 662.2,242 C663.03,245.12 667.2,249.83 669.7,254.4 C672.2,258.97 675.12,264 677.2,269.4 C679.28,274.8 681.57,281.4 682.2,286.8 C682.83,292.2 682.25,296.8 681,301.8 C679.75,306.8 677,311.82 674.7,316.8 C672.4,321.78 669.07,326.72 667.2,331.7 C665.33,336.68 663.92,342.53 663.5,346.7 C663.08,350.87 663.25,354.42 664.7,356.7 C666.15,358.98 668.87,359.78 672.2,360.4 C675.53,361.02 681.37,360.6 684.7,360.4 C688.03,360.2 689.7,358.58 692.2,359.2 C694.7,359.82 696.8,362.87 699.7,364.1 C702.6,365.33 706.28,366.38 709.6,366.6 C712.92,366.82 716.27,366.43 719.6,365.4 C722.93,364.37 727.1,362.27 729.6,360.4 C732.1,358.53 734.18,358.57 734.6,354.2 C735.02,349.83 733.35,339.6 732.1,334.2 C730.85,328.8 729.18,324.7 727.1,321.8 C725.02,318.9 722.52,317.43 719.6,316.8 C716.68,316.17 712.52,318.83 709.6,318 C706.68,317.17 703.97,314.5 702.1,311.8 C700.23,309.1 698.8,305.55 698.4,301.8 C698,298.05 698.87,293.87 699.7,289.3 C700.53,284.73 703,279.38 703.4,274.4 C703.8,269.42 703.13,263.98 702.1,259.4 C701.07,254.82 698.23,250.02 697.2,246.9 C696.17,243.78 697.15,242.57 695.9,240.7 C694.65,238.83 691.98,236.95 689.7,235.7 C687.42,234.45 684.07,233.82 682.2,233.2 C680.33,232.58 679.12,232.2 678.5,232"/>
<path d="M671,239.5 C671.83,238.68 674.92,237.72 677.2,237.5 C679.48,237.28 683.03,237.67 684.7,238.2 C686.37,238.73 687.42,239.73 687.2,240.7 C686.98,241.67 685.07,243.38 683.4,244 C681.73,244.62 679.07,244.67 677.2,244.4 C675.33,244.13 673.23,243.22 672.2,242.4 C671.17,241.58 670.17,240.32 671,239.5Z"/>
<path d="M700.9,232 C701.73,233.03 704.65,235.72 705.9,238.2 C707.15,240.68 706.95,244.4 708.4,246.9 C709.85,249.4 711.9,252.03 714.6,253.2 C717.3,254.37 722.1,252.87 724.6,253.9 C727.1,254.93 728.15,254.33 729.6,259.4 C731.05,264.47 732.27,273.9 733.3,284.3 C734.33,294.7 734.75,311.4 735.8,321.8 C736.85,332.2 738.77,340.88 739.6,346.7 C740.43,352.52 741.22,353.8 740.8,356.7 C740.38,359.6 738.55,361.88 737.1,364.1 C735.65,366.32 732.93,369.02 732.1,370"/>
<path d="M677.2,336.7 C678.12,335.03 680.75,333.78 682.2,334.2 C683.65,334.62 685.07,336.08 685.9,339.2 C686.73,342.32 687.82,350.4 687.2,352.9 C686.58,355.4 683.87,354.2 682.2,354.2 C680.53,354.2 678.12,354.57 677.2,352.9 C676.28,351.23 676.7,346.9 676.7,344.2 C676.7,341.5 676.28,338.37 677.2,336.7Z"/>
<path d="M709.6,341.7 C711.9,340.25 716.12,341.33 718.4,343 C720.68,344.67 723.52,349 723.3,351.7 C723.08,354.4 719.38,357.33 717.1,359.2 C714.82,361.07 711.68,364.15 709.6,362.9 C707.52,361.65 704.6,355.23 704.6,351.7 C704.6,348.17 707.3,343.15 709.6,341.7Z"/>
<path d="M748,318.5 C747.67,318.83 746,319.83 746,320.5 C746,321.17 747.67,322.17 748,322.5"/>
</g>
<clipPath id="cl3"><rect x="431" y="224.65" width="316.75" height="144.9"/></clipPath>
<g clip-path="url(#cl3)">
<text x="444" y="239.9" transform="rotate(-40 444 239.9)" font-size="8.8" text-anchor="middle" dominant-baseline="central" stroke="#fff" stroke-width="3.2" stroke-linejoin="round" fill="#fff">0</text>
<text x="444" y="239.9" transform="rotate(-40 444 239.9)" font-size="8.8" text-anchor="middle" dominant-baseline="central" stroke="#000" stroke-width="0.25" fill="#000">0</text>
<text x="464.3" y="289.1" transform="rotate(-60 464.3 289.1)" font-size="8.8" text-anchor="middle" dominant-baseline="central" stroke="#fff" stroke-width="3.2" stroke-linejoin="round" fill="#fff">-4</text>
<text x="464.3" y="289.1" transform="rotate(-60 464.3 289.1)" font-size="8.8" text-anchor="middle" dominant-baseline="central" stroke="#000" stroke-width="0.25" fill="#000">-4</text>
<text x="493.5" y="268.7" transform="rotate(-60 493.5 268.7)" font-size="8.8" text-anchor="middle" dominant-baseline="central" stroke="#fff" stroke-width="3.2" stroke-linejoin="round" fill="#fff">-8</text>
<text x="493.5" y="268.7" transform="rotate(-60 493.5 268.7)" font-size="8.8" text-anchor="middle" dominant-baseline="central" stroke="#000" stroke-width="0.25" fill="#000">-8</text>
<text x="533.9" y="261.2" transform="rotate(-75 533.9 261.2)" font-size="8.8" text-anchor="middle" dominant-baseline="central" stroke="#fff" stroke-width="3.2" stroke-linejoin="round" fill="#fff">-8</text>
<text x="533.9" y="261.2" transform="rotate(-75 533.9 261.2)" font-size="8.8" text-anchor="middle" dominant-baseline="central" stroke="#000" stroke-width="0.25" fill="#000">-8</text>
<text x="505.9" y="301" transform="rotate(-20 505.9 301)" font-size="8.8" text-anchor="middle" dominant-baseline="central" stroke="#fff" stroke-width="3.2" stroke-linejoin="round" fill="#fff">-12</text>
<text x="505.9" y="301" transform="rotate(-20 505.9 301)" font-size="8.8" text-anchor="middle" dominant-baseline="central" stroke="#000" stroke-width="0.25" fill="#000">-12</text>
<text x="538.9" y="304.5" transform="rotate(-80 538.9 304.5)" font-size="8.8" text-anchor="middle" dominant-baseline="central" stroke="#fff" stroke-width="3.2" stroke-linejoin="round" fill="#fff">-4</text>
<text x="538.9" y="304.5" transform="rotate(-80 538.9 304.5)" font-size="8.8" text-anchor="middle" dominant-baseline="central" stroke="#000" stroke-width="0.25" fill="#000">-4</text>
<text x="477.3" y="349.5" transform="rotate(55 477.3 349.5)" font-size="8.8" text-anchor="middle" dominant-baseline="central" stroke="#fff" stroke-width="3.2" stroke-linejoin="round" fill="#fff">-16</text>
<text x="477.3" y="349.5" transform="rotate(55 477.3 349.5)" font-size="8.8" text-anchor="middle" dominant-baseline="central" stroke="#000" stroke-width="0.25" fill="#000">-16</text>
<text x="468.3" y="315.5" transform="rotate(-60 468.3 315.5)" font-size="8.8" text-anchor="middle" dominant-baseline="central" stroke="#fff" stroke-width="3.2" stroke-linejoin="round" fill="#fff">-4</text>
<text x="468.3" y="315.5" transform="rotate(-60 468.3 315.5)" font-size="8.8" text-anchor="middle" dominant-baseline="central" stroke="#000" stroke-width="0.25" fill="#000">-4</text>
<text x="436.1" y="312.3" transform="rotate(-70 436.1 312.3)" font-size="8.8" text-anchor="middle" dominant-baseline="central" stroke="#fff" stroke-width="3.2" stroke-linejoin="round" fill="#fff">-4</text>
<text x="436.1" y="312.3" transform="rotate(-70 436.1 312.3)" font-size="8.8" text-anchor="middle" dominant-baseline="central" stroke="#000" stroke-width="0.25" fill="#000">-4</text>
<text x="434.1" y="326.5" transform="rotate(-85 434.1 326.5)" font-size="8.8" text-anchor="middle" dominant-baseline="central" stroke="#fff" stroke-width="3.2" stroke-linejoin="round" fill="#fff">-8</text>
<text x="434.1" y="326.5" transform="rotate(-85 434.1 326.5)" font-size="8.8" text-anchor="middle" dominant-baseline="central" stroke="#000" stroke-width="0.25" fill="#000">-8</text>
<text x="432.7" y="352.9" transform="rotate(-90 432.7 352.9)" font-size="8.8" text-anchor="middle" dominant-baseline="central" stroke="#fff" stroke-width="3.2" stroke-linejoin="round" fill="#fff">0</text>
<text x="432.7" y="352.9" transform="rotate(-90 432.7 352.9)" font-size="8.8" text-anchor="middle" dominant-baseline="central" stroke="#000" stroke-width="0.25" fill="#000">0</text>
<text x="570.5" y="337.2" transform="rotate(-30 570.5 337.2)" font-size="8.8" text-anchor="middle" dominant-baseline="central" stroke="#fff" stroke-width="3.2" stroke-linejoin="round" fill="#fff">0</text>
<text x="570.5" y="337.2" transform="rotate(-30 570.5 337.2)" font-size="8.8" text-anchor="middle" dominant-baseline="central" stroke="#000" stroke-width="0.25" fill="#000">0</text>
<text x="601.9" y="239.5" transform="rotate(-30 601.9 239.5)" font-size="8.8" text-anchor="middle" dominant-baseline="central" stroke="#fff" stroke-width="3.2" stroke-linejoin="round" fill="#fff">0</text>
<text x="601.9" y="239.5" transform="rotate(-30 601.9 239.5)" font-size="8.8" text-anchor="middle" dominant-baseline="central" stroke="#000" stroke-width="0.25" fill="#000">0</text>
<text x="607.4" y="286.8" transform="rotate(-30 607.4 286.8)" font-size="8.8" text-anchor="middle" dominant-baseline="central" stroke="#fff" stroke-width="3.2" stroke-linejoin="round" fill="#fff">0</text>
<text x="607.4" y="286.8" transform="rotate(-30 607.4 286.8)" font-size="8.8" text-anchor="middle" dominant-baseline="central" stroke="#000" stroke-width="0.25" fill="#000">0</text>
<text x="655.3" y="304.3" transform="rotate(-90 655.3 304.3)" font-size="8.8" text-anchor="middle" dominant-baseline="central" stroke="#fff" stroke-width="3.2" stroke-linejoin="round" fill="#fff">0</text>
<text x="655.3" y="304.3" transform="rotate(-90 655.3 304.3)" font-size="8.8" text-anchor="middle" dominant-baseline="central" stroke="#000" stroke-width="0.25" fill="#000">0</text>
<text x="667.7" y="232.8" transform="rotate(-30 667.7 232.8)" font-size="8.8" text-anchor="middle" dominant-baseline="central" stroke="#fff" stroke-width="3.2" stroke-linejoin="round" fill="#fff">4</text>
<text x="667.7" y="232.8" transform="rotate(-30 667.7 232.8)" font-size="8.8" text-anchor="middle" dominant-baseline="central" stroke="#000" stroke-width="0.25" fill="#000">4</text>
</g>
<rect x="431" y="224.65" width="316.75" height="144.9" fill="none" stroke="#000" stroke-width="0.85"/>
<path d="M431,369.55 v3.6 M466.19,369.55 v3.6 M501.39,369.55 v3.6 M536.58,369.55 v3.6 M571.78,369.55 v3.6 M606.97,369.55 v3.6 M642.17,369.55 v3.6 M677.36,369.55 v3.6 M712.56,369.55 v3.6 M747.75,369.55 v3.6 M431,224.65 h-3.6 M431,248.8 h-3.6 M431,272.95 h-3.6 M431,297.1 h-3.6 M431,321.25 h-3.6 M431,345.4 h-3.6 M431,369.55 h-3.6" stroke="#000" stroke-width="0.85" fill="none"/>
<g font-size="10.4"><text x="431" y="385.05" text-anchor="middle">−90</text><text x="466.19" y="385.05" text-anchor="middle">−70</text><text x="501.39" y="385.05" text-anchor="middle">−50</text><text x="536.58" y="385.05" text-anchor="middle">−30</text><text x="571.78" y="385.05" text-anchor="middle">−10</text><text x="606.97" y="385.05" text-anchor="middle">10</text><text x="642.17" y="385.05" text-anchor="middle">30</text><text x="677.36" y="385.05" text-anchor="middle">50</text><text x="712.56" y="385.05" text-anchor="middle">70</text><text x="747.75" y="385.05" text-anchor="middle">90</text><text x="423.6" y="228.85" text-anchor="end" font-size="10.6">100</text><text x="423.6" y="253" text-anchor="end" font-size="10.6">250</text><text x="423.6" y="277.15" text-anchor="end" font-size="10.6">400</text><text x="423.6" y="301.3" text-anchor="end" font-size="10.6">550</text><text x="423.6" y="325.45" text-anchor="end" font-size="10.6">700</text><text x="423.6" y="349.6" text-anchor="end" font-size="10.6">850</text><text x="423.6" y="373.75" text-anchor="end" font-size="10.6">1000</text></g>
<text x="589.38" y="399.75" text-anchor="middle" font-size="10.4">Latitude</text>
<text x="391.4" y="298.45" text-anchor="middle" font-size="10.7" transform="rotate(-90 391.4 298.45)">Pressure</text>
<text x="589.38" y="218.15" text-anchor="middle" font-size="12.7">Eddy heat flux - JJA</text>
<text x="431" y="218.15" font-size="16.0">d</text>
</g>
<g>
<clipPath id="cp4"><rect x="51.45" y="434" width="317.05" height="137.95"/></clipPath>
<g clip-path="url(#cp4)" fill="none" stroke="#000" stroke-width="1.3" stroke-linejoin="round" stroke-linecap="butt">
<path d="M80.2,459.2 C80.62,455.45 81.83,452.7 83.9,450.4 C85.97,448.1 89.9,445.82 92.6,445.4 C95.3,444.98 98.3,445.82 100.1,447.9 C101.9,449.98 103.18,454.15 103.4,457.9 C103.62,461.65 102.57,466.65 101.4,470.4 C100.23,474.15 98.28,477.7 96.4,480.4 C94.52,483.1 91.97,486.18 90.1,486.6 C88.23,487.02 86.65,485.18 85.2,482.9 C83.75,480.62 82.23,476.85 81.4,472.9 C80.57,468.95 79.78,462.95 80.2,459.2Z"/>
<path d="M108.9,434 C108.9,440.48 109.32,462.27 108.9,472.9 C108.48,483.53 107.65,489.48 106.4,497.8 C105.15,506.12 102.53,515.73 101.4,522.8 C100.27,529.87 99.82,536.05 99.6,540.2 C99.38,544.35 99.6,544.17 100.1,547.7 C100.6,551.23 101.13,558.28 102.6,561.4 C104.07,564.52 105.78,565.78 108.9,566.4 C112.02,567.02 117.57,564.98 121.3,565.1 C125.03,565.22 128.38,565.95 131.3,567.1 C134.22,568.25 137.55,571.18 138.8,572"/>
<path d="M51,505.3 C51.7,504.68 54.08,499.52 55.2,501.6 C56.32,503.68 56.98,512.62 57.7,517.8 C58.42,522.98 58.95,529.05 59.5,532.7 C60.05,536.35 60.25,537.62 61,539.7 C61.75,541.78 62.75,543.03 64,545.2 C65.25,547.37 67.67,550.42 68.5,552.7 C69.33,554.98 69.55,556.83 69,558.9 C68.45,560.97 66.25,562.92 65.2,565.1 C64.15,567.28 63.12,570.85 62.7,572"/>
<path d="M51,488 C51.33,488.38 53,489.55 53,490.3 C53,491.05 51.33,492.13 51,492.5"/>
<path d="M51,554 C51.33,554.4 53,555.6 53,556.4 C53,557.2 51.33,558.4 51,558.8"/>
<path d="M121.3,434 C120.27,435.9 116.35,440.58 115.1,445.4 C113.85,450.22 113.38,457.07 113.8,462.9 C114.22,468.73 115.93,475.83 117.6,480.4 C119.27,484.97 121.52,487.6 123.8,490.3 C126.08,493 129.02,495.13 131.3,496.6 C133.58,498.07 135.42,499.52 137.5,499.1 C139.58,498.68 141.1,496.8 143.8,494.1 C146.5,491.4 150.38,486.85 153.7,482.9 C157.02,478.95 160.58,475.4 163.7,470.4 C166.82,465.4 170.53,457.68 172.4,452.9 C174.27,448.12 175.1,444.85 174.9,441.7 C174.7,438.55 171.82,435.28 171.2,434" stroke-dasharray="3.7,1.85"/>
<path d="M128.8,434 C127.55,435.5 122.97,439.43 121.3,443 C119.63,446.57 118.58,451.25 118.8,455.4 C119.02,459.55 120.52,464.57 122.6,467.9 C124.68,471.23 128.18,474.28 131.3,475.4 C134.42,476.52 137.98,475.43 141.3,474.6 C144.62,473.77 148.3,472.77 151.2,470.4 C154.1,468.03 156.4,464.15 158.7,460.4 C161,456.65 163.95,451.43 165,447.9 C166.05,444.37 165.63,441.52 165,439.2 C164.37,436.88 161.83,434.87 161.2,434" stroke-dasharray="3.7,1.85"/>
<path d="M135,434.5 C131.68,435.82 127.17,439.05 125.1,441.7 C123.03,444.35 122.4,447.48 122.6,450.4 C122.8,453.32 124.43,456.7 126.3,459.2 C128.17,461.7 130.88,464.37 133.8,465.4 C136.72,466.43 140.9,466.43 143.8,465.4 C146.7,464.37 148.92,461.7 151.2,459.2 C153.48,456.7 156.25,453.32 157.5,450.4 C158.75,447.48 159.33,444.18 158.7,441.7 C158.07,439.22 155.98,436.82 153.7,435.5 C151.42,434.18 148.12,433.97 145,433.8 C141.88,433.63 138.32,433.18 135,434.5Z" stroke-dasharray="3.7,1.85"/>
<path d="M125.9,450 C126.17,451.9 127.52,454.12 129.1,455.4 C130.68,456.68 132.98,457.7 135.4,457.7 C137.82,457.7 141.33,456.53 143.6,455.4 C145.87,454.27 147.78,452.87 149,450.9 C150.22,448.93 151.2,445.57 150.9,443.6 C150.6,441.63 149.1,440.08 147.2,439.1 C145.3,438.12 142.03,437.63 139.5,437.7 C136.97,437.77 134,438.45 132,439.5 C130,440.55 128.52,442.25 127.5,444 C126.48,445.75 125.63,448.1 125.9,450Z" stroke-dasharray="3.7,1.85"/>
<path d="M136,450 L139.8,450"/>
<path d="M228.1,434 C227.68,436.32 226.83,444.67 225.6,447.9 C224.37,451.13 222.98,452.15 220.7,453.4 C218.42,454.65 214.32,454.43 211.9,455.4 C209.48,456.37 207.85,457.12 206.2,459.2 C204.55,461.28 202.78,464.78 202,467.9 C201.22,471.02 201.3,470.83 201.5,477.9 C201.7,484.97 202.72,500.75 203.2,510.3 C203.68,519.85 203.92,528.97 204.4,535.2 C204.88,541.43 205.23,541.57 206.1,547.7 C206.97,553.83 209.02,567.95 209.6,572"/>
<path d="M243.1,434 C242.07,435.28 238.15,438.55 236.9,441.7 C235.65,444.85 235.18,448.95 235.6,452.9 C236.02,456.85 237.32,461.65 239.4,465.4 C241.48,469.15 245.82,471.67 248.1,475.4 C250.38,479.13 251.43,484.27 253.1,487.8 C254.77,491.33 256.03,494.72 258.1,496.6 C260.17,498.48 263.22,499.1 265.5,499.1 C267.78,499.1 269.5,498.27 271.8,496.6 C274.1,494.93 276.82,491.6 279.3,489.1 C281.78,486.6 284.22,485.13 286.7,481.6 C289.18,478.07 292.32,472.68 294.2,467.9 C296.08,463.12 297.58,456.85 298,452.9 C298.42,448.95 298.17,447.35 296.7,444.2 C295.23,441.05 290.45,435.7 289.2,434"/>
<path d="M254.3,434 C253.05,434.87 248.47,437.5 246.8,439.2 C245.13,440.9 244.3,441.92 244.3,444.2 C244.3,446.48 245.55,449.78 246.8,452.9 C248.05,456.02 250.13,459.98 251.8,462.9 C253.47,465.82 254.93,468.53 256.8,470.4 C258.67,472.27 260.72,473.27 263,474.1 C265.28,474.93 268.2,476.23 270.5,475.4 C272.8,474.57 274.72,471.8 276.8,469.1 C278.88,466.4 281.43,462.52 283,459.2 C284.57,455.88 286.4,452.32 286.2,449.2 C286,446.08 283.78,443.03 281.8,440.5 C279.82,437.97 275.55,435.08 274.3,434"/>
<path d="M255.6,443 C256.02,441.13 257.43,440.03 259.3,439.2 C261.17,438.37 264.3,437.37 266.8,438 C269.3,438.63 272.72,440.93 274.3,443 C275.88,445.07 276.52,447.92 276.3,450.4 C276.08,452.88 274.58,456.15 273,457.9 C271.42,459.65 268.67,460.9 266.8,460.9 C264.93,460.9 263.47,459.65 261.8,457.9 C260.13,456.15 257.83,452.88 256.8,450.4 C255.77,447.92 255.18,444.87 255.6,443Z"/>
<path d="M326.6,434 C325.15,435.28 320.18,438.97 317.9,441.7 C315.62,444.43 314.27,446.87 312.9,450.4 C311.53,453.93 310.53,457.9 309.7,462.9 C308.87,467.9 307.98,474.58 307.9,480.4 C307.82,486.22 308.78,493.45 309.2,497.8 C309.62,502.15 310.62,503.17 310.4,506.5 C310.18,509.83 308.93,513.02 307.9,517.8 C306.87,522.58 306.07,528.97 304.2,535.2 C302.33,541.43 298.78,551.03 296.7,555.2 C294.62,559.37 294.18,558.55 291.7,560.2 C289.22,561.85 284.7,563.65 281.8,565.1 C278.9,566.55 276.38,568.48 274.3,568.9 C272.22,569.32 270.97,567.6 269.3,567.6 C267.63,567.6 265.75,568.17 264.3,568.9 C262.85,569.63 261.22,571.48 260.6,572"/>
<path d="M317.9,572 C317.7,567.95 316.7,555.9 316.7,547.7 C316.7,539.5 317.28,529.45 317.9,522.8 C318.52,516.15 319.37,511.33 320.4,507.8 C321.43,504.27 322.85,502.77 324.1,501.6 C325.35,500.43 326.85,499.77 327.9,500.8 C328.95,501.83 329.57,504.97 330.4,507.8 C331.23,510.63 332.28,513.23 332.9,517.8 C333.52,522.37 334.32,529.38 334.1,535.2 C333.88,541.02 332.85,546.57 331.6,552.7 C330.35,558.83 327.43,568.78 326.6,572"/>
<path d="M354.1,434 C353.05,435.28 349.27,439.17 347.8,441.7 C346.33,444.23 345.72,444 345.3,449.2 C344.88,454.4 345.17,462.72 345.3,472.9 C345.43,483.08 345.88,497.83 346.1,510.3 C346.32,522.77 346.73,540.02 346.6,547.7 C346.47,555.38 344.88,553.9 345.3,556.4 C345.72,558.9 347.63,561.25 349.1,562.7 C350.57,564.15 352.85,566.35 354.1,565.1 C355.35,563.85 355.57,561.43 356.6,555.2 C357.63,548.97 359.27,537.27 360.3,527.7 C361.33,518.13 362.27,505.27 362.8,497.8 C363.33,490.33 362.47,485.72 363.5,482.9 C364.53,480.08 368.08,481.23 369,480.9"/>
<path d="M364,449.2 L369,449.2"/>
<path d="M369,505.5 C368.58,505.88 366.5,507.05 366.5,507.8 C366.5,508.55 368.58,509.63 369,510"/>
</g>
<clipPath id="cl4"><rect x="51.45" y="426.1" width="317.05" height="145.85"/></clipPath>
<g clip-path="url(#cl4)">
<text x="131.8" y="442.7" transform="rotate(45 131.8 442.7)" font-size="8.8" text-anchor="middle" dominant-baseline="central" stroke="#fff" stroke-width="3.2" stroke-linejoin="round" fill="#fff">-40</text>
<text x="131.8" y="442.7" transform="rotate(45 131.8 442.7)" font-size="8.8" text-anchor="middle" dominant-baseline="central" stroke="#000" stroke-width="0.25" fill="#000">-40</text>
<text x="140.7" y="474.3" transform="rotate(18 140.7 474.3)" font-size="8.8" text-anchor="middle" dominant-baseline="central" stroke="#fff" stroke-width="3.2" stroke-linejoin="round" fill="#fff">-20</text>
<text x="140.7" y="474.3" transform="rotate(18 140.7 474.3)" font-size="8.8" text-anchor="middle" dominant-baseline="central" stroke="#000" stroke-width="0.25" fill="#000">-20</text>
<text x="99.6" y="540.2" transform="rotate(-90 99.6 540.2)" font-size="8.8" text-anchor="middle" dominant-baseline="central" stroke="#fff" stroke-width="3.2" stroke-linejoin="round" fill="#fff">0</text>
<text x="99.6" y="540.2" transform="rotate(-90 99.6 540.2)" font-size="8.8" text-anchor="middle" dominant-baseline="central" stroke="#000" stroke-width="0.25" fill="#000">0</text>
<text x="61" y="539.7" transform="rotate(-70 61 539.7)" font-size="8.8" text-anchor="middle" dominant-baseline="central" stroke="#fff" stroke-width="3.2" stroke-linejoin="round" fill="#fff">0</text>
<text x="61" y="539.7" transform="rotate(-70 61 539.7)" font-size="8.8" text-anchor="middle" dominant-baseline="central" stroke="#000" stroke-width="0.25" fill="#000">0</text>
<text x="52.7" y="490.3" transform="rotate(-90 52.7 490.3)" font-size="8.8" text-anchor="middle" dominant-baseline="central" stroke="#fff" stroke-width="3.2" stroke-linejoin="round" fill="#fff">0</text>
<text x="52.7" y="490.3" transform="rotate(-90 52.7 490.3)" font-size="8.8" text-anchor="middle" dominant-baseline="central" stroke="#000" stroke-width="0.25" fill="#000">0</text>
<text x="206.2" y="459.2" transform="rotate(-30 206.2 459.2)" font-size="8.8" text-anchor="middle" dominant-baseline="central" stroke="#fff" stroke-width="3.2" stroke-linejoin="round" fill="#fff">0</text>
<text x="206.2" y="459.2" transform="rotate(-30 206.2 459.2)" font-size="8.8" text-anchor="middle" dominant-baseline="central" stroke="#000" stroke-width="0.25" fill="#000">0</text>
<text x="263" y="474.1" transform="rotate(-30 263 474.1)" font-size="8.8" text-anchor="middle" dominant-baseline="central" stroke="#fff" stroke-width="3.2" stroke-linejoin="round" fill="#fff">20</text>
<text x="263" y="474.1" transform="rotate(-30 263 474.1)" font-size="8.8" text-anchor="middle" dominant-baseline="central" stroke="#000" stroke-width="0.25" fill="#000">20</text>
<text x="310.4" y="506.5" transform="rotate(-90 310.4 506.5)" font-size="8.8" text-anchor="middle" dominant-baseline="central" stroke="#fff" stroke-width="3.2" stroke-linejoin="round" fill="#fff">0</text>
<text x="310.4" y="506.5" transform="rotate(-90 310.4 506.5)" font-size="8.8" text-anchor="middle" dominant-baseline="central" stroke="#000" stroke-width="0.25" fill="#000">0</text>
<text x="330.4" y="507.8" transform="rotate(-80 330.4 507.8)" font-size="8.8" text-anchor="middle" dominant-baseline="central" stroke="#fff" stroke-width="3.2" stroke-linejoin="round" fill="#fff">0</text>
<text x="330.4" y="507.8" transform="rotate(-80 330.4 507.8)" font-size="8.8" text-anchor="middle" dominant-baseline="central" stroke="#000" stroke-width="0.25" fill="#000">0</text>
<text x="345.3" y="556.4" transform="rotate(-60 345.3 556.4)" font-size="8.8" text-anchor="middle" dominant-baseline="central" stroke="#fff" stroke-width="3.2" stroke-linejoin="round" fill="#fff">0</text>
<text x="345.3" y="556.4" transform="rotate(-60 345.3 556.4)" font-size="8.8" text-anchor="middle" dominant-baseline="central" stroke="#000" stroke-width="0.25" fill="#000">0</text>
<text x="52" y="556.4" transform="rotate(-90 52 556.4)" font-size="8.8" text-anchor="middle" dominant-baseline="central" stroke="#fff" stroke-width="3.2" stroke-linejoin="round" fill="#fff">0</text>
<text x="52" y="556.4" transform="rotate(-90 52 556.4)" font-size="8.8" text-anchor="middle" dominant-baseline="central" stroke="#000" stroke-width="0.25" fill="#000">0</text>
</g>
<rect x="51.45" y="426.1" width="317.05" height="145.85" fill="none" stroke="#000" stroke-width="0.85"/>
<path d="M51.45,571.95 v3.6 M86.68,571.95 v3.6 M121.91,571.95 v3.6 M157.13,571.95 v3.6 M192.36,571.95 v3.6 M227.59,571.95 v3.6 M262.82,571.95 v3.6 M298.04,571.95 v3.6 M333.27,571.95 v3.6 M368.5,571.95 v3.6 M51.45,426.1 h-3.6 M51.45,450.41 h-3.6 M51.45,474.72 h-3.6 M51.45,499.03 h-3.6 M51.45,523.33 h-3.6 M51.45,547.64 h-3.6 M51.45,571.95 h-3.6" stroke="#000" stroke-width="0.85" fill="none"/>
<g font-size="10.4"><text x="51.45" y="587.45" text-anchor="middle">−90</text><text x="86.68" y="587.45" text-anchor="middle">−70</text><text x="121.91" y="587.45" text-anchor="middle">−50</text><text x="157.13" y="587.45" text-anchor="middle">−30</text><text x="192.36" y="587.45" text-anchor="middle">−10</text><text x="227.59" y="587.45" text-anchor="middle">10</text><text x="262.82" y="587.45" text-anchor="middle">30</text><text x="298.04" y="587.45" text-anchor="middle">50</text><text x="333.27" y="587.45" text-anchor="middle">70</text><text x="368.5" y="587.45" text-anchor="middle">90</text><text x="44.05" y="430.3" text-anchor="end" font-size="10.6">100</text><text x="44.05" y="454.61" text-anchor="end" font-size="10.6">250</text><text x="44.05" y="478.92" text-anchor="end" font-size="10.6">400</text><text x="44.05" y="503.23" text-anchor="end" font-size="10.6">550</text><text x="44.05" y="527.53" text-anchor="end" font-size="10.6">700</text><text x="44.05" y="551.84" text-anchor="end" font-size="10.6">850</text><text x="44.05" y="576.15" text-anchor="end" font-size="10.6">1000</text></g>
<text x="209.97" y="602.15" text-anchor="middle" font-size="10.4">Latitude</text>
<text x="11.85" y="500.38" text-anchor="middle" font-size="10.7" transform="rotate(-90 11.85 500.38)">Pressure</text>
<text x="209.97" y="419.6" text-anchor="middle" font-size="12.7">Eddy momentum flux - DJF</text>
<text x="51.45" y="419.6" font-size="16.0">e</text>
</g>
<g>
<clipPath id="cp5"><rect x="431" y="434" width="316.75" height="137.95"/></clipPath>
<g clip-path="url(#cp5)" fill="none" stroke="#000" stroke-width="1.3" stroke-linejoin="round" stroke-linecap="butt">
<path d="M431,459.2 C431.5,460.65 433.08,463.95 434,467.9 C434.92,471.85 435.67,477.7 436.5,482.9 C437.33,488.1 438.38,494.95 439,499.1 C439.62,503.25 440.12,503.85 440.2,507.8 C440.28,511.75 438.87,519.07 439.5,522.8 C440.13,526.53 442.63,527.3 444,530.2 C445.37,533.1 446.87,536.45 447.7,540.2 C448.53,543.95 448.78,547.4 449,552.7 C449.22,558 449,568.78 449,572"/>
<path d="M431,522.8 C431.28,523.62 432.12,525.63 432.7,527.7 C433.28,529.77 434.08,531.87 434.5,535.2 C434.92,538.53 434.95,541.57 435.2,547.7 C435.45,553.83 435.87,567.95 436,572"/>
<path d="M438,434 L437.2,438.5"/>
<path d="M455.2,455.4 C455.82,451.67 456.82,446.77 458.9,444.2 C460.98,441.63 465,440.42 467.7,440 C470.4,439.58 473.03,439.75 475.1,441.7 C477.17,443.65 479.05,447.33 480.1,451.7 C481.15,456.07 481.6,462.3 481.4,467.9 C481.2,473.5 480.15,480.32 478.9,485.3 C477.65,490.28 475.37,494.68 473.9,497.8 C472.43,500.92 471.55,504.42 470.1,504 C468.65,503.58 467.07,499.23 465.2,495.3 C463.33,491.37 460.57,485.18 458.9,480.4 C457.23,475.62 455.82,470.77 455.2,466.6 C454.58,462.43 454.58,459.13 455.2,455.4Z"/>
<path d="M465.7,457.2 C465.7,457.2 468.27,455.92 469.5,455.5 C470.73,455.08 473.1,454.7 473.1,454.7 C473.1,454.7 472.22,458.93 471.8,461 C471.38,463.07 470.6,467.1 470.6,467.1 C470.6,467.1 468.32,463.65 467.5,462 C466.68,460.35 465.7,457.2 465.7,457.2Z"/>
<path d="M483.9,434 C484.32,435.5 485.78,438.6 486.4,443 C487.02,447.4 487.18,451.27 487.6,460.4 C488.02,469.53 488.77,487.33 488.9,497.8 C489.03,508.27 488.82,516.97 488.4,523.2 C487.98,529.43 487.57,530.7 486.4,535.2 C485.23,539.7 482.65,546.25 481.4,550.2 C480.15,554.15 478.07,556.42 478.9,558.9 C479.73,561.38 483.08,563.43 486.4,565.1 C489.72,566.77 494.65,567.98 498.8,568.9 C502.95,569.82 508.38,570 511.3,570.6 C514.22,571.2 515.47,572.18 516.3,572.5"/>
<path d="M498.8,434 C498.08,435.35 495.58,439.13 494.5,442.1 C493.42,445.07 492.48,448.2 492.3,451.8 C492.12,455.4 492.67,459.55 493.4,463.7 C494.13,467.85 495.62,472.55 496.7,476.7 C497.78,480.85 499.13,484.25 499.9,488.6 C500.67,492.95 499.82,497.93 501.3,502.8 C502.78,507.67 505.88,514.27 508.8,517.8 C511.72,521.33 515.47,523.17 518.8,524 C522.13,524.83 525.48,523.83 528.8,522.8 C532.12,521.77 535.38,520.72 538.7,517.8 C542.02,514.88 545.78,509.47 548.7,505.3 C551.62,501.13 554.12,497.78 556.2,492.8 C558.28,487.82 559.77,482.23 561.2,475.4 C562.63,468.57 564.55,457.53 564.8,451.8 C565.05,446.07 563.78,443.97 562.7,441 C561.62,438.03 559.03,435.17 558.3,434" stroke-dasharray="3.7,1.85"/>
<path d="M512,434 C510.67,434.83 506.25,437 504,439 C501.75,441 499.57,443.33 498.5,446 C497.43,448.67 497.52,451.35 497.6,455 C497.68,458.65 497.55,463.25 499,467.9 C500.45,472.55 503.63,478.95 506.3,482.9 C508.97,486.85 512.08,489.53 515,491.6 C517.92,493.67 521.1,494.88 523.8,495.3 C526.5,495.72 528.3,495.35 531.2,494.1 C534.1,492.85 537.87,490.92 541.2,487.8 C544.53,484.68 548.88,479.2 551.2,475.4 C553.52,471.6 554.08,469.3 555.1,465 C556.12,460.7 557.3,453.97 557.3,449.6 C557.3,445.23 556.37,441.4 555.1,438.8 C553.83,436.2 550.6,434.8 549.7,434" stroke-dasharray="3.7,1.85"/>
<path d="M503.2,451.8 C503.83,449.45 505.52,446.37 507.5,444.2 C509.48,442.03 512.4,440.15 515.1,438.8 C517.8,437.45 520.47,436.82 523.7,436.1 C526.93,435.38 531.07,434.58 534.5,434.5 C537.93,434.42 541.58,434.88 544.3,435.6 C547.02,436.32 549.37,437 550.8,438.8 C552.23,440.6 552.72,443.52 552.9,446.4 C553.08,449.28 552.8,452.85 551.9,456.1 C551,459.35 549.32,462.65 547.5,465.9 C545.68,469.15 543.52,472.98 541,475.6 C538.48,478.22 535.1,480.88 532.4,481.6 C529.7,482.32 527.68,481.25 524.8,479.9 C521.92,478.55 517.98,476.02 515.1,473.5 C512.22,470.98 509.4,467.33 507.5,464.8 C505.6,462.27 504.42,460.47 503.7,458.3 C502.98,456.13 502.57,454.15 503.2,451.8Z" stroke-dasharray="3.7,1.85"/>
<path d="M511.3,450.2 C511.73,448.17 513.47,446.53 515,445 C516.53,443.47 518.15,442.12 520.5,441 C522.85,439.88 526.22,438.85 529.1,438.3 C531.98,437.75 535.08,437.43 537.8,437.7 C540.52,437.97 543.78,438.45 545.4,439.9 C547.02,441.35 547.23,443.87 547.5,446.4 C547.77,448.93 547.72,452.4 547,455.1 C546.28,457.8 544.73,460.27 543.2,462.6 C541.67,464.93 539.78,467.57 537.8,469.1 C535.82,470.63 533.47,471.7 531.3,471.8 C529.13,471.9 527.15,471.05 524.8,469.7 C522.45,468.35 519.27,465.78 517.2,463.7 C515.13,461.62 513.38,459.45 512.4,457.2 C511.42,454.95 510.87,452.23 511.3,450.2Z" stroke-dasharray="3.7,1.85"/>
<path d="M519.4,450.7 C519.4,448.72 520.23,445.73 521.5,444.2 C522.77,442.67 524.83,442.03 527,441.5 C529.17,440.97 532.33,440.72 534.5,441 C536.67,441.28 538.82,441.77 540,443.2 C541.18,444.63 541.6,447.27 541.6,449.6 C541.6,451.93 541,455.12 540,457.2 C539,459.28 537.05,461.1 535.6,462.1 C534.15,463.1 532.92,463.38 531.3,463.2 C529.68,463.02 527.53,462.18 525.9,461 C524.27,459.82 522.58,457.82 521.5,456.1 C520.42,454.38 519.4,452.68 519.4,450.7Z" stroke-dasharray="3.7,1.85"/>
<path d="M566.2,434 C566.83,435.9 567.92,441 570,445.4 C572.08,449.8 575.8,456.65 578.7,460.4 C581.6,464.15 584.7,465.62 587.4,467.9 C590.1,470.18 593.85,471.2 594.9,474.1 C595.95,477 594.32,481.77 593.7,485.3 C593.08,488.83 591.75,492.18 591.2,495.3 C590.65,498.42 590.4,501.08 590.4,504 C590.4,506.92 590.45,509.67 591.2,512.8 C591.95,515.93 594.7,518.65 594.9,522.8 C595.1,526.95 593.02,532.72 592.4,537.7 C591.78,542.68 591.4,546.98 591.2,552.7 C591,558.42 591.2,568.78 591.2,572"/>
<path d="M607.4,436 C608.42,436.25 610.9,438.52 611.1,440.5 C611.3,442.48 609.43,445.92 608.6,447.9 C607.77,449.88 607.13,451.77 606.1,452.4 C605.07,453.03 602.82,453.07 602.4,451.7 C601.98,450.33 603.17,446.32 603.6,444.2 C604.03,442.08 604.37,440.37 605,439 C605.63,437.63 606.38,435.75 607.4,436Z"/>
<path d="M644.8,434 C643.13,434.67 637.5,436.72 634.8,438 C632.1,439.28 629.02,440.47 628.6,441.7 C628.18,442.93 630.43,443.53 632.3,445.4 C634.17,447.27 636.88,449.98 639.8,452.9 C642.72,455.82 646.47,459.98 649.8,462.9 C653.13,465.82 656.9,468.82 659.8,470.4 C662.7,471.98 664.5,472.62 667.2,472.4 C669.9,472.18 673.7,471.1 676,469.1 C678.3,467.1 679.97,463.93 681,460.4 C682.03,456.87 682.83,451.63 682.2,447.9 C681.57,444.17 679.28,440.32 677.2,438 C675.12,435.68 670.95,434.67 669.7,434"/>
<path d="M658,444 C658.92,443.42 661.55,440.67 663.5,440.5 C665.45,440.33 668.45,441.55 669.7,443 C670.95,444.45 671.83,447.55 671,449.2 C670.17,450.85 666.78,452.7 664.7,452.9 C662.62,453.1 659.53,450.82 658.5,450.4"/>
<path d="M696.7,434 C696.57,436.32 696.23,441 695.9,447.9 C695.57,454.8 694.7,468.75 694.7,475.4 C694.7,482.05 695.28,482.4 695.9,487.8 C696.52,493.2 697.57,501.97 698.4,507.8 C699.23,513.63 699.65,519.15 700.9,522.8 C702.15,526.45 704.03,528.47 705.9,529.7 C707.77,530.93 710.85,532.18 712.1,530.2 C713.35,528.22 712.98,525.28 713.4,517.8 C713.82,510.32 714.18,496.12 714.6,485.3 C715.02,474.48 715.07,459.55 715.9,452.9 C716.73,446.25 718.15,447.27 719.6,445.4 C721.05,443.53 723.57,443.6 724.6,441.7 C725.63,439.8 725.6,435.28 725.8,434"/>
<path d="M709.6,572 C710.23,568.78 712.15,558.42 713.4,552.7 C714.65,546.98 715.87,540.48 717.1,537.7 C718.33,534.92 719.77,534.75 720.8,536 C721.83,537.25 722.47,541.17 723.3,545.2 C724.13,549.23 723.92,555.73 725.8,560.2 C727.68,564.67 732.52,572.22 734.6,572 C736.68,571.78 736.85,561.73 738.3,558.9 C739.75,556.07 742.47,555.65 743.3,555"/>
<path d="M677.2,572 C678.23,570.85 681.73,567.07 683.4,565.1 C685.07,563.13 685.95,560.4 687.2,560.2 C688.45,560 690.07,561.93 690.9,563.9 C691.73,565.87 691.98,570.65 692.2,572"/>
<path d="M694.7,551.5 L694.7,556"/>
<path d="M748,536 C747.25,536.5 743.5,538 743.5,539 C743.5,540 747.25,541.5 748,542"/>
<path d="M744,441.7 L748,441.7"/>
<path d="M748,457 C747.63,457.37 745.8,458.45 745.8,459.2 C745.8,459.95 747.63,461.12 748,461.5"/>
</g>
<clipPath id="cl5"><rect x="431" y="426.1" width="316.75" height="145.85"/></clipPath>
<g clip-path="url(#cl5)">
<text x="521.7" y="442.4" transform="rotate(55 521.7 442.4)" font-size="8.8" text-anchor="middle" dominant-baseline="central" stroke="#fff" stroke-width="3.2" stroke-linejoin="round" fill="#fff">-40</text>
<text x="521.7" y="442.4" transform="rotate(55 521.7 442.4)" font-size="8.8" text-anchor="middle" dominant-baseline="central" stroke="#000" stroke-width="0.25" fill="#000">-40</text>
<text x="523.8" y="495.3" transform="rotate(-10 523.8 495.3)" font-size="8.8" text-anchor="middle" dominant-baseline="central" stroke="#fff" stroke-width="3.2" stroke-linejoin="round" fill="#fff">-20</text>
<text x="523.8" y="495.3" transform="rotate(-10 523.8 495.3)" font-size="8.8" text-anchor="middle" dominant-baseline="central" stroke="#000" stroke-width="0.25" fill="#000">-20</text>
<text x="531.6" y="450.4" transform="rotate(-30 531.6 450.4)" font-size="8.8" text-anchor="middle" dominant-baseline="central" stroke="#fff" stroke-width="3.2" stroke-linejoin="round" fill="#fff">c</text>
<text x="531.6" y="450.4" transform="rotate(-30 531.6 450.4)" font-size="8.8" text-anchor="middle" dominant-baseline="central" stroke="#000" stroke-width="0.25" fill="#000">c</text>
<text x="439" y="499.1" transform="rotate(-90 439 499.1)" font-size="8.8" text-anchor="middle" dominant-baseline="central" stroke="#fff" stroke-width="3.2" stroke-linejoin="round" fill="#fff">0</text>
<text x="439" y="499.1" transform="rotate(-90 439 499.1)" font-size="8.8" text-anchor="middle" dominant-baseline="central" stroke="#000" stroke-width="0.25" fill="#000">0</text>
<text x="434.5" y="535.2" transform="rotate(-80 434.5 535.2)" font-size="8.8" text-anchor="middle" dominant-baseline="central" stroke="#fff" stroke-width="3.2" stroke-linejoin="round" fill="#fff">0</text>
<text x="434.5" y="535.2" transform="rotate(-80 434.5 535.2)" font-size="8.8" text-anchor="middle" dominant-baseline="central" stroke="#000" stroke-width="0.25" fill="#000">0</text>
<text x="488.4" y="523.2" transform="rotate(-90 488.4 523.2)" font-size="8.8" text-anchor="middle" dominant-baseline="central" stroke="#fff" stroke-width="3.2" stroke-linejoin="round" fill="#fff">0</text>
<text x="488.4" y="523.2" transform="rotate(-90 488.4 523.2)" font-size="8.8" text-anchor="middle" dominant-baseline="central" stroke="#000" stroke-width="0.25" fill="#000">0</text>
<text x="436" y="442" transform="rotate(-70 436 442)" font-size="8.8" text-anchor="middle" dominant-baseline="central" stroke="#fff" stroke-width="3.2" stroke-linejoin="round" fill="#fff">0</text>
<text x="436" y="442" transform="rotate(-70 436 442)" font-size="8.8" text-anchor="middle" dominant-baseline="central" stroke="#000" stroke-width="0.25" fill="#000">0</text>
<text x="607.4" y="436" transform="rotate(-70 607.4 436)" font-size="8.8" text-anchor="middle" dominant-baseline="central" stroke="#fff" stroke-width="3.2" stroke-linejoin="round" fill="#fff">0</text>
<text x="607.4" y="436" transform="rotate(-70 607.4 436)" font-size="8.8" text-anchor="middle" dominant-baseline="central" stroke="#000" stroke-width="0.25" fill="#000">0</text>
<text x="590.4" y="504" transform="rotate(-90 590.4 504)" font-size="8.8" text-anchor="middle" dominant-baseline="central" stroke="#fff" stroke-width="3.2" stroke-linejoin="round" fill="#fff">0</text>
<text x="590.4" y="504" transform="rotate(-90 590.4 504)" font-size="8.8" text-anchor="middle" dominant-baseline="central" stroke="#000" stroke-width="0.25" fill="#000">0</text>
<text x="654.8" y="441.7" transform="rotate(-40 654.8 441.7)" font-size="8.8" text-anchor="middle" dominant-baseline="central" stroke="#fff" stroke-width="3.2" stroke-linejoin="round" fill="#fff">20</text>
<text x="654.8" y="441.7" transform="rotate(-40 654.8 441.7)" font-size="8.8" text-anchor="middle" dominant-baseline="central" stroke="#000" stroke-width="0.25" fill="#000">20</text>
<text x="694.7" y="475.4" transform="rotate(-90 694.7 475.4)" font-size="8.8" text-anchor="middle" dominant-baseline="central" stroke="#fff" stroke-width="3.2" stroke-linejoin="round" fill="#fff">0</text>
<text x="694.7" y="475.4" transform="rotate(-90 694.7 475.4)" font-size="8.8" text-anchor="middle" dominant-baseline="central" stroke="#000" stroke-width="0.25" fill="#000">0</text>
<text x="720.8" y="537.7" transform="rotate(-60 720.8 537.7)" font-size="8.8" text-anchor="middle" dominant-baseline="central" stroke="#fff" stroke-width="3.2" stroke-linejoin="round" fill="#fff">0</text>
<text x="720.8" y="537.7" transform="rotate(-60 720.8 537.7)" font-size="8.8" text-anchor="middle" dominant-baseline="central" stroke="#000" stroke-width="0.25" fill="#000">0</text>
<text x="687.2" y="560.2" transform="rotate(-60 687.2 560.2)" font-size="8.8" text-anchor="middle" dominant-baseline="central" stroke="#fff" stroke-width="3.2" stroke-linejoin="round" fill="#fff">0</text>
<text x="687.2" y="560.2" transform="rotate(-60 687.2 560.2)" font-size="8.8" text-anchor="middle" dominant-baseline="central" stroke="#000" stroke-width="0.25" fill="#000">0</text>
<text x="743.3" y="558.9" transform="rotate(-60 743.3 558.9)" font-size="8.8" text-anchor="middle" dominant-baseline="central" stroke="#fff" stroke-width="3.2" stroke-linejoin="round" fill="#fff">0</text>
<text x="743.3" y="558.9" transform="rotate(-60 743.3 558.9)" font-size="8.8" text-anchor="middle" dominant-baseline="central" stroke="#000" stroke-width="0.25" fill="#000">0</text>
<text x="432.7" y="554.7" transform="rotate(-90 432.7 554.7)" font-size="8.8" text-anchor="middle" dominant-baseline="central" stroke="#fff" stroke-width="3.2" stroke-linejoin="round" fill="#fff">0</text>
<text x="432.7" y="554.7" transform="rotate(-90 432.7 554.7)" font-size="8.8" text-anchor="middle" dominant-baseline="central" stroke="#000" stroke-width="0.25" fill="#000">0</text>
</g>
<rect x="431" y="426.1" width="316.75" height="145.85" fill="none" stroke="#000" stroke-width="0.85"/>
<path d="M431,571.95 v3.6 M466.19,571.95 v3.6 M501.39,571.95 v3.6 M536.58,571.95 v3.6 M571.78,571.95 v3.6 M606.97,571.95 v3.6 M642.17,571.95 v3.6 M677.36,571.95 v3.6 M712.56,571.95 v3.6 M747.75,571.95 v3.6 M431,426.1 h-3.6 M431,450.41 h-3.6 M431,474.72 h-3.6 M431,499.03 h-3.6 M431,523.33 h-3.6 M431,547.64 h-3.6 M431,571.95 h-3.6" stroke="#000" stroke-width="0.85" fill="none"/>
<g font-size="10.4"><text x="431" y="587.45" text-anchor="middle">−90</text><text x="466.19" y="587.45" text-anchor="middle">−70</text><text x="501.39" y="587.45" text-anchor="middle">−50</text><text x="536.58" y="587.45" text-anchor="middle">−30</text><text x="571.78" y="587.45" text-anchor="middle">−10</text><text x="606.97" y="587.45" text-anchor="middle">10</text><text x="642.17" y="587.45" text-anchor="middle">30</text><text x="677.36" y="587.45" text-anchor="middle">50</text><text x="712.56" y="587.45" text-anchor="middle">70</text><text x="747.75" y="587.45" text-anchor="middle">90</text><text x="423.6" y="430.3" text-anchor="end" font-size="10.6">100</text><text x="423.6" y="454.61" text-anchor="end" font-size="10.6">250</text><text x="423.6" y="478.92" text-anchor="end" font-size="10.6">400</text><text x="423.6" y="503.23" text-anchor="end" font-size="10.6">550</text><text x="423.6" y="527.53" text-anchor="end" font-size="10.6">700</text><text x="423.6" y="551.84" text-anchor="end" font-size="10.6">850</text><text x="423.6" y="576.15" text-anchor="end" font-size="10.6">1000</text></g>
<text x="589.38" y="602.15" text-anchor="middle" font-size="10.4">Latitude</text>
<text x="391.4" y="500.38" text-anchor="middle" font-size="10.7" transform="rotate(-90 391.4 500.38)">Pressure</text>
<text x="589.38" y="419.6" text-anchor="middle" font-size="12.7">Eddy momentum flux - JJA</text>
<text x="431" y="419.6" font-size="16.0">f</text>
</g>
</svg>
</body></html>
